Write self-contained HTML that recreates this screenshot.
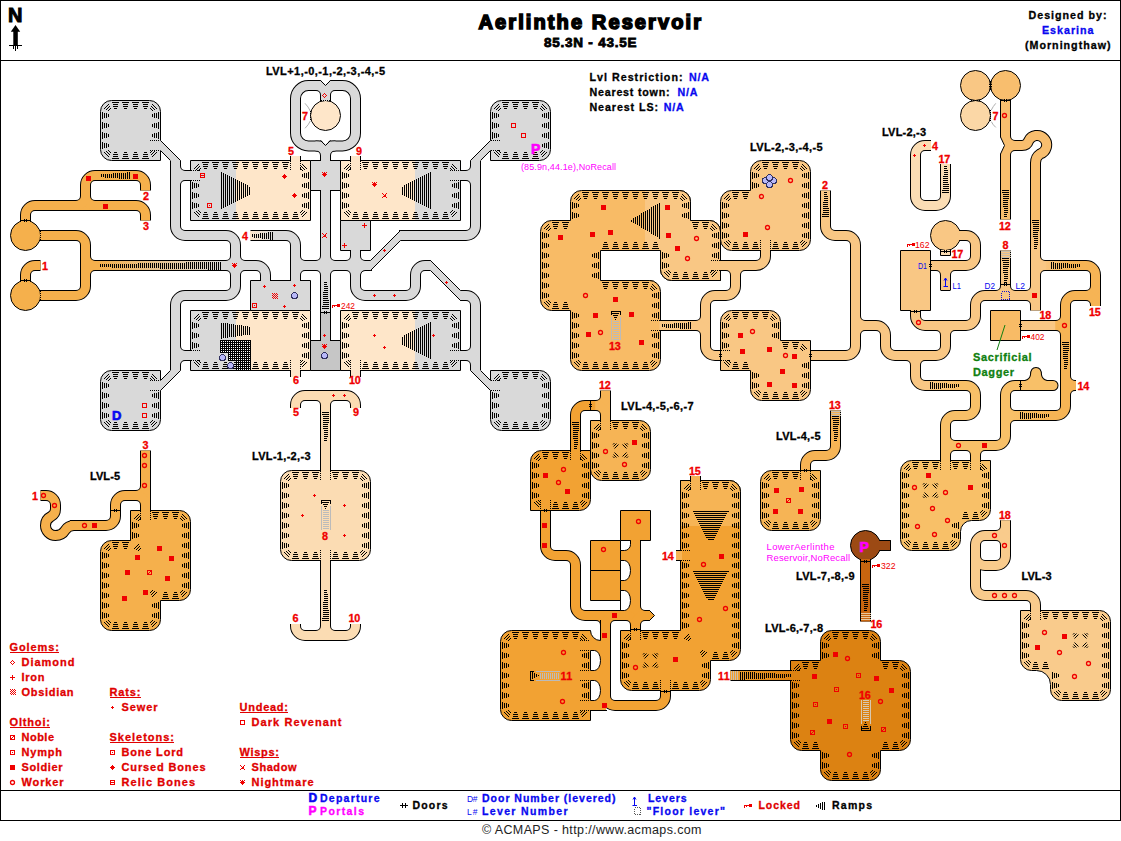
<!DOCTYPE html><html><head><meta charset="utf-8"><title>Aerlinthe Reservoir</title>
<style>html,body{margin:0;padding:0;background:#fff}body{width:1121px;height:841px;overflow:hidden}svg{display:block}text{white-space:pre}</style></head><body>
<svg width="1121" height="841" viewBox="0 0 1121 841">
<defs><pattern id="chk" width="2" height="2" patternUnits="userSpaceOnUse"><rect width="1" height="1" fill="#F00000"/><rect x="1" y="1" width="1" height="1" fill="#F00000"/></pattern>
<pattern id="dots" width="2" height="2" patternUnits="userSpaceOnUse"><rect width="2" height="2" fill="#000"/><rect x="1" y="1" width="1" height="1" fill="#fff"/></pattern>
<linearGradient id="g4" x1="0" x2="1" y1="0" y2="0"><stop offset="0" stop-color="#FEE6C9"/><stop offset="1" stop-color="#D9D9D9"/></linearGradient><linearGradient id="glong" x1="0" x2="1" y1="0" y2="0"><stop offset="0" stop-color="#F5B04C"/><stop offset="1" stop-color="#D9D9D9"/></linearGradient><linearGradient id="gbig" gradientUnits="userSpaceOnUse" x1="540" x2="721" y1="0" y2="0"><stop offset="0.58" stop-color="#F8BB66"/><stop offset="0.58" stop-color="#F9C784"/></linearGradient><clipPath id="clipbig"><rect x="645" y="180" width="80" height="101"/></clipPath><linearGradient id="g385" x1="0" x2="1" y1="0" y2="0"><stop offset="0" stop-color="#F9C784"/><stop offset="1" stop-color="#F8C068"/></linearGradient><linearGradient id="g15" x1="0" x2="1" y1="0" y2="0"><stop offset="0" stop-color="#F9C784"/><stop offset="1" stop-color="#F6B455"/></linearGradient><linearGradient id="g415" x1="0" x2="1" y1="0" y2="0"><stop offset="0" stop-color="#F8C068"/><stop offset="1" stop-color="#F6B455"/></linearGradient><linearGradient id="g7" x1="0" x2="0" y1="0" y2="1"><stop offset="0" stop-color="#F8BE6E"/><stop offset="1" stop-color="#F9C784"/></linearGradient><clipPath id="cliptall"><rect x="670" y="470" width="80" height="56"/></clipPath><linearGradient id="g11" x1="0" x2="1" y1="0" y2="0"><stop offset="0" stop-color="#F2A233"/><stop offset="1" stop-color="#DC8212"/></linearGradient>
</defs>
<rect width="1121" height="841" fill="#fff"/>
<g fill="none" stroke-linejoin="round"><path d="M175.5 160L175.5 226A9.5 9.5 0 0 0 185 235.5L226 235.5A9.5 9.5 0 0 1 235.5 245L235.5 286A9.5 9.5 0 0 1 226 295.5L185 295.5A9.5 9.5 0 0 0 175.5 305L175.5 371" stroke="#000" stroke-width="11" stroke-linecap="butt"/>
<path d="M175.5 175.5L191.5 175.5" stroke="#000" stroke-width="11" stroke-linecap="butt"/>
<path d="M175.5 185.5L175.5 185A9.5 9.5 0 0 1 185 175.5L185.5 175.5" stroke="#000" stroke-width="11" stroke-linecap="butt"/>
<path d="M175.5 165.5L175.5 166A9.5 9.5 0 0 0 185 175.5L185.5 175.5" stroke="#000" stroke-width="11" stroke-linecap="butt"/>
<path d="M175.5 355.5L191.5 355.5" stroke="#000" stroke-width="11" stroke-linecap="butt"/>
<path d="M175.5 365.5L175.5 365A9.5 9.5 0 0 1 185 355.5L185.5 355.5" stroke="#000" stroke-width="11" stroke-linecap="butt"/>
<path d="M175.5 345.5L175.5 346A9.5 9.5 0 0 0 185 355.5L185.5 355.5" stroke="#000" stroke-width="11" stroke-linecap="butt"/>
<path d="M475.5 160L475.5 226A9.5 9.5 0 0 1 466 235.5L399 235.5" stroke="#000" stroke-width="11" stroke-linecap="butt"/>
<path d="M475.5 175.5L459.5 175.5" stroke="#000" stroke-width="11" stroke-linecap="butt"/>
<path d="M475.5 165.5L475.5 166A9.5 9.5 0 0 1 466 175.5L465.5 175.5" stroke="#000" stroke-width="11" stroke-linecap="butt"/>
<path d="M475.5 185.5L475.5 185A9.5 9.5 0 0 0 466 175.5L465.5 175.5" stroke="#000" stroke-width="11" stroke-linecap="butt"/>
<path d="M218 265.5L256 265.5A9.5 9.5 0 0 1 265.5 275L265.5 281.5" stroke="#000" stroke-width="11" stroke-linecap="butt"/>
<path d="M245.5 265.5L245 265.5A9.5 9.5 0 0 1 235.5 256L235.5 255.5" stroke="#000" stroke-width="11" stroke-linecap="butt"/>
<path d="M225.5 265.5L226 265.5A9.5 9.5 0 0 0 235.5 256L235.5 255.5" stroke="#000" stroke-width="11" stroke-linecap="butt"/>
<path d="M225.5 265.5L226 265.5A9.5 9.5 0 0 1 235.5 275L235.5 275.5" stroke="#000" stroke-width="11" stroke-linecap="butt"/>
<path d="M245.5 265.5L245 265.5A9.5 9.5 0 0 0 235.5 275L235.5 275.5" stroke="#000" stroke-width="11" stroke-linecap="butt"/>
<path d="M250.5 235.5L286 235.5A9.5 9.5 0 0 1 295.5 245L295.5 281.5" stroke="#000" stroke-width="11" stroke-linecap="butt"/>
<path d="M295.5 265.5L372 265.5" stroke="#000" stroke-width="11" stroke-linecap="butt"/>
<path d="M295.5 275.5L295.5 275A9.5 9.5 0 0 1 305 265.5L305.5 265.5" stroke="#000" stroke-width="11" stroke-linecap="butt"/>
<path d="M295.5 255.5L295.5 256A9.5 9.5 0 0 0 305 265.5L305.5 265.5" stroke="#000" stroke-width="11" stroke-linecap="butt"/>
<path d="M325.5 146L325.5 161" stroke="#000" stroke-width="11" stroke-linecap="butt"/>
<path d="M325.5 190L325.5 312" stroke="#000" stroke-width="11" stroke-linecap="butt"/>
<path d="M325.5 312L325.5 341" stroke="#000" stroke-width="11" stroke-linecap="butt"/>
<path d="M335.5 265.5L335 265.5A9.5 9.5 0 0 1 325.5 256L325.5 255.5" stroke="#000" stroke-width="11" stroke-linecap="butt"/>
<path d="M315.5 265.5L316 265.5A9.5 9.5 0 0 0 325.5 256L325.5 255.5" stroke="#000" stroke-width="11" stroke-linecap="butt"/>
<path d="M315.5 265.5L316 265.5A9.5 9.5 0 0 1 325.5 275L325.5 275.5" stroke="#000" stroke-width="11" stroke-linecap="butt"/>
<path d="M335.5 265.5L335 265.5A9.5 9.5 0 0 0 325.5 275L325.5 275.5" stroke="#000" stroke-width="11" stroke-linecap="butt"/>
<path d="M355.5 250L355.5 265.5" stroke="#000" stroke-width="11" stroke-linecap="butt"/>
<path d="M365.5 265.5L365 265.5A9.5 9.5 0 0 1 355.5 256L355.5 255.5" stroke="#000" stroke-width="11" stroke-linecap="butt"/>
<path d="M345.5 265.5L346 265.5A9.5 9.5 0 0 0 355.5 256L355.5 255.5" stroke="#000" stroke-width="11" stroke-linecap="butt"/>
<path d="M372 265.5L365 265.5A9.5 9.5 0 0 0 355.5 275L355.5 286A9.5 9.5 0 0 0 365 295.5L406 295.5A9.5 9.5 0 0 0 415.5 286L415.5 275A9.5 9.5 0 0 1 425 265.5L431 265.5" stroke="#000" stroke-width="11" stroke-linecap="butt"/>
<path d="M345.5 265.5L346 265.5A9.5 9.5 0 0 1 355.5 275L355.5 275.5" stroke="#000" stroke-width="11" stroke-linecap="butt"/>
<path d="M365.5 265.5L365 265.5A9.5 9.5 0 0 0 355.5 275L355.5 275.5" stroke="#000" stroke-width="11" stroke-linecap="butt"/>
<path d="M460 295.5L466 295.5A9.5 9.5 0 0 1 475.5 305L475.5 371" stroke="#000" stroke-width="11" stroke-linecap="butt"/>
<path d="M475.5 355.5L459.5 355.5" stroke="#000" stroke-width="11" stroke-linecap="butt"/>
<path d="M475.5 345.5L475.5 346A9.5 9.5 0 0 1 466 355.5L465.5 355.5" stroke="#000" stroke-width="11" stroke-linecap="butt"/>
<path d="M475.5 365.5L475.5 365A9.5 9.5 0 0 0 466 355.5L465.5 355.5" stroke="#000" stroke-width="11" stroke-linecap="butt"/>
<path d="M295.5 98.5A13 13 0 0 1 308.5 85.5L342.5 85.5A13 13 0 0 1 355.5 98.5L355.5 133A13 13 0 0 1 342.5 146L308.5 146A13 13 0 0 1 295.5 133Z" stroke="#000" stroke-width="11" stroke-linecap="butt"/>
<path d="M325.5 89L325.5 101" stroke="#000" stroke-width="11" stroke-linecap="butt"/>
<path d="M315.5 146L316 146A9.5 9.5 0 0 1 325.5 155.5L325.5 156" stroke="#000" stroke-width="11" stroke-linecap="butt"/>
<path d="M335.5 146L335 146A9.5 9.5 0 0 0 325.5 155.5L325.5 156" stroke="#000" stroke-width="11" stroke-linecap="butt"/>
<path d="M315.5 85.5L316 85.5A9.5 9.5 0 0 1 325.5 95L325.5 95.5" stroke="#000" stroke-width="11" stroke-linecap="butt"/>
<path d="M335.5 85.5L335 85.5A9.5 9.5 0 0 0 325.5 95L325.5 95.5" stroke="#000" stroke-width="11" stroke-linecap="butt"/>
<path d="M86 265.5L220 265.5" stroke="#000" stroke-width="11" stroke-linecap="butt"/>
<path d="M25.5 282L25.5 275A9.5 9.5 0 0 1 35 265.5L40.5 265.5" stroke="#000" stroke-width="11" stroke-linecap="butt"/>
<path d="M25.5 222L25.5 215A9.5 9.5 0 0 1 35 205.5L136 205.5A9.5 9.5 0 0 1 145.5 215L145.5 220.5" stroke="#000" stroke-width="11" stroke-linecap="butt"/>
<path d="M85.5 205.5L85.5 185A9.5 9.5 0 0 1 95 175.5L136 175.5A9.5 9.5 0 0 1 145.5 185L145.5 190.5" stroke="#000" stroke-width="11" stroke-linecap="butt"/>
<path d="M95.5 205.5L95 205.5A9.5 9.5 0 0 1 85.5 196L85.5 195.5" stroke="#000" stroke-width="11" stroke-linecap="butt"/>
<path d="M75.5 205.5L76 205.5A9.5 9.5 0 0 0 85.5 196L85.5 195.5" stroke="#000" stroke-width="11" stroke-linecap="butt"/>
<path d="M39.5 235.5L76 235.5A9.5 9.5 0 0 1 85.5 245L85.5 286A9.5 9.5 0 0 1 76 295.5L39.5 295.5" stroke="#000" stroke-width="11" stroke-linecap="butt"/>
<path d="M85.5 275.5L85.5 275A9.5 9.5 0 0 1 95 265.5L95.5 265.5" stroke="#000" stroke-width="11" stroke-linecap="butt"/>
<path d="M85.5 255.5L85.5 256A9.5 9.5 0 0 0 95 265.5L95.5 265.5" stroke="#000" stroke-width="11" stroke-linecap="butt"/>
<path d="M145.5 450.5L145.5 511.5" stroke="#000" stroke-width="11" stroke-linecap="butt"/>
<path d="M145.5 495.5L125 495.5A9.5 9.5 0 0 0 115.5 505L115.5 516A9.5 9.5 0 0 1 106 525.5L70 525.5" stroke="#000" stroke-width="11" stroke-linecap="butt"/>
<path d="M145.5 485.5L145.5 486A9.5 9.5 0 0 1 136 495.5L135.5 495.5" stroke="#000" stroke-width="11" stroke-linecap="butt"/>
<path d="M145.5 505.5L145.5 505A9.5 9.5 0 0 0 136 495.5L135.5 495.5" stroke="#000" stroke-width="11" stroke-linecap="butt"/>
<path d="M40.5 495.5H46A9.5 9.5 0 0 1 55.5 505V509Q55.5 514 51 516.5A10 10 0 0 0 45.5 525.5A10 10 0 0 0 55.5 535.5Q62 535.5 65 530.5Q68 525.5 74 525.5" stroke="#000" stroke-width="11" stroke-linecap="butt"/>
<path d="M295.5 408V405A9.5 9.5 0 0 1 305 395.5H346A9.5 9.5 0 0 1 355.5 405V408" stroke="#000" stroke-width="11" stroke-linecap="butt"/>
<path d="M325.5 395.5L325.5 471.5" stroke="#000" stroke-width="11" stroke-linecap="butt"/>
<path d="M315.5 395.5L316 395.5A9.5 9.5 0 0 1 325.5 405L325.5 405.5" stroke="#000" stroke-width="11" stroke-linecap="butt"/>
<path d="M335.5 395.5L335 395.5A9.5 9.5 0 0 0 325.5 405L325.5 405.5" stroke="#000" stroke-width="11" stroke-linecap="butt"/>
<path d="M295.5 624V626A9.5 9.5 0 0 0 305 635.5H346A9.5 9.5 0 0 0 355.5 626V624" stroke="#000" stroke-width="11" stroke-linecap="butt"/>
<path d="M325.5 559.5L325.5 635.5" stroke="#000" stroke-width="11" stroke-linecap="butt"/>
<path d="M335.5 635.5L335 635.5A9.5 9.5 0 0 1 325.5 626L325.5 625.5" stroke="#000" stroke-width="11" stroke-linecap="butt"/>
<path d="M315.5 635.5L316 635.5A9.5 9.5 0 0 0 325.5 626L325.5 625.5" stroke="#000" stroke-width="11" stroke-linecap="butt"/>
<path d="M719.5 265.5L756 265.5A9.5 9.5 0 0 0 765.5 256L765.5 249.5" stroke="#000" stroke-width="11" stroke-linecap="butt"/>
<path d="M735.5 265.5L735.5 286A9.5 9.5 0 0 1 726 295.5L715 295.5A9.5 9.5 0 0 0 705.5 305L705.5 346A9.5 9.5 0 0 0 715 355.5L721.5 355.5" stroke="#000" stroke-width="11" stroke-linecap="butt"/>
<path d="M725.5 265.5L726 265.5A9.5 9.5 0 0 1 735.5 275L735.5 275.5" stroke="#000" stroke-width="11" stroke-linecap="butt"/>
<path d="M745.5 265.5L745 265.5A9.5 9.5 0 0 0 735.5 275L735.5 275.5" stroke="#000" stroke-width="11" stroke-linecap="butt"/>
<path d="M659.5 325.5L705.5 325.5" stroke="#000" stroke-width="11" stroke-linecap="butt"/>
<path d="M705.5 315.5L705.5 316A9.5 9.5 0 0 1 696 325.5L695.5 325.5" stroke="#000" stroke-width="11" stroke-linecap="butt"/>
<path d="M705.5 335.5L705.5 335A9.5 9.5 0 0 0 696 325.5L695.5 325.5" stroke="#000" stroke-width="11" stroke-linecap="butt"/>
<path d="M825.5 190.5L825.5 226A9.5 9.5 0 0 0 835 235.5L846 235.5A9.5 9.5 0 0 1 855.5 245L855.5 346A9.5 9.5 0 0 1 846 355.5L809.5 355.5" stroke="#000" stroke-width="11" stroke-linecap="butt"/>
<path d="M855.5 325.5L876 325.5A9.5 9.5 0 0 1 885.5 335L885.5 346A9.5 9.5 0 0 0 895 355.5L936 355.5A9.5 9.5 0 0 0 945.5 346L945.5 325.5" stroke="#000" stroke-width="11" stroke-linecap="butt"/>
<path d="M855.5 335.5L855.5 335A9.5 9.5 0 0 1 865 325.5L865.5 325.5" stroke="#000" stroke-width="11" stroke-linecap="butt"/>
<path d="M855.5 315.5L855.5 316A9.5 9.5 0 0 0 865 325.5L865.5 325.5" stroke="#000" stroke-width="11" stroke-linecap="butt"/>
<path d="M915.5 309.5L915.5 316A9.5 9.5 0 0 0 925 325.5L966 325.5A9.5 9.5 0 0 0 975.5 316L975.5 305A9.5 9.5 0 0 1 985 295.5L1031 295.5" stroke="#000" stroke-width="11" stroke-linecap="butt"/>
<path d="M935.5 325.5L936 325.5A9.5 9.5 0 0 1 945.5 335L945.5 335.5" stroke="#000" stroke-width="11" stroke-linecap="butt"/>
<path d="M955.5 325.5L955 325.5A9.5 9.5 0 0 0 945.5 335L945.5 335.5" stroke="#000" stroke-width="11" stroke-linecap="butt"/>
<path d="M915.5 355.5L915.5 376A9.5 9.5 0 0 0 925 385.5L950 385.5" stroke="#000" stroke-width="11" stroke-linecap="butt"/>
<path d="M905.5 355.5L906 355.5A9.5 9.5 0 0 1 915.5 365L915.5 365.5" stroke="#000" stroke-width="11" stroke-linecap="butt"/>
<path d="M925.5 355.5L925 355.5A9.5 9.5 0 0 0 915.5 365L915.5 365.5" stroke="#000" stroke-width="11" stroke-linecap="butt"/>
<path d="M944 385.5L966 385.5A9.5 9.5 0 0 1 975.5 395L975.5 406A9.5 9.5 0 0 1 966 415.5L955 415.5A9.5 9.5 0 0 0 945.5 425L945.5 461.5" stroke="#000" stroke-width="11" stroke-linecap="butt"/>
<path d="M945.5 445.5L996 445.5A9.5 9.5 0 0 0 1005.5 436L1005.5 395A9.5 9.5 0 0 1 1015 385.5L1053 385.5" stroke="#000" stroke-width="11" stroke-linecap="round"/>
<path d="M945.5 455.5L945.5 455A9.5 9.5 0 0 1 955 445.5L955.5 445.5" stroke="#000" stroke-width="11" stroke-linecap="butt"/>
<path d="M945.5 435.5L945.5 436A9.5 9.5 0 0 0 955 445.5L955.5 445.5" stroke="#000" stroke-width="11" stroke-linecap="butt"/>
<path d="M975.5 445.5L975.5 461.5" stroke="#000" stroke-width="11" stroke-linecap="butt"/>
<path d="M965.5 445.5L966 445.5A9.5 9.5 0 0 1 975.5 455L975.5 455.5" stroke="#000" stroke-width="11" stroke-linecap="butt"/>
<path d="M985.5 445.5L985 445.5A9.5 9.5 0 0 0 975.5 455L975.5 455.5" stroke="#000" stroke-width="11" stroke-linecap="butt"/>
<path d="M1025 381Q1030 380 1031 375Q1031 368 1036 368Q1041 368 1041 375Q1042 380 1047 381" stroke="#000" stroke-width="2" fill="none"/>
<path d="M1005.5 415.5L1056 415.5A9.5 9.5 0 0 0 1065.5 406L1065.5 305A9.5 9.5 0 0 1 1075 295.5L1095.5 295.5" stroke="#000" stroke-width="11" stroke-linecap="butt"/>
<path d="M1005.5 425.5L1005.5 425A9.5 9.5 0 0 1 1015 415.5L1015.5 415.5" stroke="#000" stroke-width="11" stroke-linecap="butt"/>
<path d="M1005.5 405.5L1005.5 406A9.5 9.5 0 0 0 1015 415.5L1015.5 415.5" stroke="#000" stroke-width="11" stroke-linecap="butt"/>
<path d="M1035.5 265.5L1086 265.5A9.5 9.5 0 0 1 1095.5 275L1095.5 306" stroke="#000" stroke-width="11" stroke-linecap="butt"/>
<path d="M1020.5 325.5L1065.5 325.5" stroke="#000" stroke-width="11" stroke-linecap="butt"/>
<path d="M1065.5 315.5L1065.5 316A9.5 9.5 0 0 1 1056 325.5L1055.5 325.5" stroke="#000" stroke-width="11" stroke-linecap="butt"/>
<path d="M1065.5 335.5L1065.5 335A9.5 9.5 0 0 0 1056 325.5L1055.5 325.5" stroke="#000" stroke-width="11" stroke-linecap="butt"/>
<path d="M1065.5 385.5L1076 385.5" stroke="#000" stroke-width="11" stroke-linecap="butt"/>
<path d="M1065.5 395.5L1065.5 395A9.5 9.5 0 0 1 1075 385.5L1075.5 385.5" stroke="#000" stroke-width="11" stroke-linecap="butt"/>
<path d="M1065.5 375.5L1065.5 376A9.5 9.5 0 0 0 1075 385.5L1075.5 385.5" stroke="#000" stroke-width="11" stroke-linecap="butt"/>
<path d="M1095.5 285.5L1095.5 286A9.5 9.5 0 0 1 1086 295.5L1085.5 295.5" stroke="#000" stroke-width="11" stroke-linecap="butt"/>
<path d="M1095.5 305.5L1095.5 305A9.5 9.5 0 0 0 1086 295.5L1085.5 295.5" stroke="#000" stroke-width="11" stroke-linecap="butt"/>
<path d="M1035.5 200L1035.5 310.5" stroke="#000" stroke-width="11" stroke-linecap="butt"/>
<path d="M1008 145.5L1022 145.5Q1027 145.5 1028.5 141A9.5 9.5 0 1 1 1040 154Q1035.5 157 1035.5 163L1035.5 222" stroke="#000" stroke-width="11" stroke-linecap="butt"/>
<path d="M1005.5 100L1005.5 219.5" stroke="#000" stroke-width="11" stroke-linecap="butt"/>
<path d="M1005.5 155.5L1005.5 155A9.5 9.5 0 0 1 1015 145.5L1015.5 145.5" stroke="#000" stroke-width="11" stroke-linecap="butt"/>
<path d="M1005.5 135.5L1005.5 136A9.5 9.5 0 0 0 1015 145.5L1015.5 145.5" stroke="#000" stroke-width="11" stroke-linecap="butt"/>
<path d="M1035.5 275.5L1035.5 275A9.5 9.5 0 0 1 1045 265.5L1045.5 265.5" stroke="#000" stroke-width="11" stroke-linecap="butt"/>
<path d="M1035.5 255.5L1035.5 256A9.5 9.5 0 0 0 1045 265.5L1045.5 265.5" stroke="#000" stroke-width="11" stroke-linecap="butt"/>
<path d="M1035.5 285.5L1035.5 286A9.5 9.5 0 0 1 1026 295.5L1025.5 295.5" stroke="#000" stroke-width="11" stroke-linecap="butt"/>
<path d="M1035.5 305.5L1035.5 305A9.5 9.5 0 0 0 1026 295.5L1025.5 295.5" stroke="#000" stroke-width="11" stroke-linecap="butt"/>
<path d="M1005.5 250.5L1005.5 295.5" stroke="#000" stroke-width="11" stroke-linecap="butt"/>
<path d="M1015.5 295.5L1015 295.5A9.5 9.5 0 0 1 1005.5 286L1005.5 285.5" stroke="#000" stroke-width="11" stroke-linecap="butt"/>
<path d="M995.5 295.5L996 295.5A9.5 9.5 0 0 0 1005.5 286L1005.5 285.5" stroke="#000" stroke-width="11" stroke-linecap="butt"/>
<path d="M958 235.5L966 235.5A9.5 9.5 0 0 1 975.5 245L975.5 256A9.5 9.5 0 0 1 966 265.5L930.5 265.5" stroke="#000" stroke-width="11" stroke-linecap="butt"/>
<path d="M945.5 265.5L945.5 290" stroke="#000" stroke-width="11" stroke-linecap="butt"/>
<path d="M935.5 265.5L936 265.5A9.5 9.5 0 0 1 945.5 275L945.5 275.5" stroke="#000" stroke-width="11" stroke-linecap="butt"/>
<path d="M955.5 265.5L955 265.5A9.5 9.5 0 0 0 945.5 275L945.5 275.5" stroke="#000" stroke-width="11" stroke-linecap="butt"/>
<path d="M931 145.5L925 145.5A9.5 9.5 0 0 0 915.5 155L915.5 196A9.5 9.5 0 0 0 925 205.5L936 205.5A9.5 9.5 0 0 0 945.5 196L945.5 164" stroke="#000" stroke-width="11" stroke-linecap="butt"/>
<path d="M605.5 390.5L605.5 421.5" stroke="#000" stroke-width="11" stroke-linecap="butt"/>
<path d="M605.5 405.5L585 405.5A9.5 9.5 0 0 0 575.5 415L575.5 451.5" stroke="#000" stroke-width="11" stroke-linecap="butt"/>
<path d="M605.5 395.5L605.5 396A9.5 9.5 0 0 1 596 405.5L595.5 405.5" stroke="#000" stroke-width="11" stroke-linecap="butt"/>
<path d="M605.5 415.5L605.5 415A9.5 9.5 0 0 0 596 405.5L595.5 405.5" stroke="#000" stroke-width="11" stroke-linecap="butt"/>
<path d="M545.5 509.5L545.5 546A9.5 9.5 0 0 0 555 555.5L566 555.5A9.5 9.5 0 0 1 575.5 565L575.5 606A9.5 9.5 0 0 0 585 615.5L650 615.5" stroke="#000" stroke-width="11" stroke-linecap="butt"/>
<path d="M605.5 615.5L605.5 696A9.5 9.5 0 0 0 615 705.5L656 705.5A9.5 9.5 0 0 0 665.5 696L665.5 689.5" stroke="#000" stroke-width="11" stroke-linecap="butt"/>
<path d="M595.5 615.5L596 615.5A9.5 9.5 0 0 1 605.5 625L605.5 625.5" stroke="#000" stroke-width="11" stroke-linecap="butt"/>
<path d="M615.5 615.5L615 615.5A9.5 9.5 0 0 0 605.5 625L605.5 625.5" stroke="#000" stroke-width="11" stroke-linecap="butt"/>
<path d="M635.5 539.5L635.5 631.5" stroke="#000" stroke-width="11" stroke-linecap="butt"/>
<path d="M645.5 615.5L645 615.5A9.5 9.5 0 0 1 635.5 606L635.5 605.5" stroke="#000" stroke-width="11" stroke-linecap="butt"/>
<path d="M625.5 615.5L626 615.5A9.5 9.5 0 0 0 635.5 606L635.5 605.5" stroke="#000" stroke-width="11" stroke-linecap="butt"/>
<path d="M625.5 615.5L626 615.5A9.5 9.5 0 0 1 635.5 625L635.5 625.5" stroke="#000" stroke-width="11" stroke-linecap="butt"/>
<path d="M645.5 615.5L645 615.5A9.5 9.5 0 0 0 635.5 625L635.5 625.5" stroke="#000" stroke-width="11" stroke-linecap="butt"/>
<path d="M730.5 675.5L791.5 675.5" stroke="#000" stroke-width="11" stroke-linecap="butt"/>
<path d="M865.5 559L865.5 621.5" stroke="#000" stroke-width="11" stroke-linecap="butt"/>
<path d="M835.5 410.5L835.5 446A9.5 9.5 0 0 1 826 455.5L815 455.5A9.5 9.5 0 0 0 805.5 465L805.5 471.5" stroke="#000" stroke-width="11" stroke-linecap="butt"/>
<path d="M1005.5 520.5L1005.5 545" stroke="#000" stroke-width="11" stroke-linecap="butt"/>
<path d="M1005.5 520.5L1005.5 526A9.5 9.5 0 0 1 996 535.5L990 535.5" stroke="#000" stroke-width="11" stroke-linecap="butt"/>
<path d="M975.5 545A9.5 9.5 0 0 1 985 535.5L996 535.5A9.5 9.5 0 0 1 1005.5 545L1005.5 556A9.5 9.5 0 0 1 996 565.5L985 565.5A9.5 9.5 0 0 1 975.5 556Z" stroke="#000" stroke-width="11" stroke-linecap="butt"/>
<path d="M975.5 555L975.5 586A9.5 9.5 0 0 0 985 595.5L1026 595.5A9.5 9.5 0 0 1 1035.5 605L1035.5 611.5" stroke="#000" stroke-width="11" stroke-linecap="butt"/></g>
<g><path d="M100.5 111.5A11 11 0 0 1 111.5 100.5L149.5 100.5A11 11 0 0 1 160.5 111.5L160.5 160.5L111.5 160.5A11 11 0 0 1 100.5 149.5Z" fill="#D9D9D9" stroke="#000" stroke-width="1" />
<path d="M490.5 111.5A11 11 0 0 1 501.5 100.5L539.5 100.5A11 11 0 0 1 550.5 111.5L550.5 149.5A11 11 0 0 1 539.5 160.5L490.5 160.5Z" fill="#D9D9D9" stroke="#000" stroke-width="1" />
<path d="M100.5 381.5A11 11 0 0 1 111.5 370.5L160.5 370.5L160.5 419.5A11 11 0 0 1 149.5 430.5L111.5 430.5A11 11 0 0 1 100.5 419.5Z" fill="#D9D9D9" stroke="#000" stroke-width="1" />
<path d="M490.5 370.5L539.5 370.5A11 11 0 0 1 550.5 381.5L550.5 419.5A11 11 0 0 1 539.5 430.5L501.5 430.5A11 11 0 0 1 490.5 419.5Z" fill="#D9D9D9" stroke="#000" stroke-width="1" />
<path d="M190.5 160.5L310.5 160.5L310.5 220.5L190.5 220.5Z" fill="#FEE6C9" stroke="#000" stroke-width="1" />
<rect x="191" y="161" width="45" height="59" fill="#D9D9D9"/>
<path d="M340.5 160.5L460.5 160.5L460.5 220.5L340.5 220.5Z" fill="#FEE6C9" stroke="#000" stroke-width="1" />
<rect x="415" y="161" width="45" height="59" fill="#D9D9D9"/>
<path d="M190.5 310.5L310.5 310.5L310.5 370.5L190.5 370.5Z" fill="#FEE6C9" stroke="#000" stroke-width="1" />
<rect x="191" y="311" width="45" height="59" fill="#D9D9D9"/>
<path d="M340.5 310.5L460.5 310.5L460.5 370.5L340.5 370.5Z" fill="#FEE6C9" stroke="#000" stroke-width="1" />
<rect x="415" y="311" width="45" height="59" fill="#D9D9D9"/>
<path d="M220 340H251V370H236V361H228V353H220Z" fill="url(#dots)"/>
<path d="M310.5 160.5L340.5 160.5L340.5 190.5L310.5 190.5Z" fill="#D9D9D9" stroke="#000" stroke-width="1" />
<path d="M310.5 340.5L340.5 340.5L340.5 370.5L310.5 370.5Z" fill="#C6C6C6" stroke="#000" stroke-width="1" />
<path d="M250.5 280.5L310.5 280.5L310.5 310.5L250.5 310.5Z" fill="#D9D9D9" stroke="#000" stroke-width="1" />
<path d="M340.5 220.5L370.5 220.5L370.5 250.5L340.5 250.5Z" fill="#D9D9D9" stroke="#000" stroke-width="1" />
<circle cx="325.5" cy="115.5" r="15" fill="#FEE6C9" stroke="#000" stroke-width="1"/>
<circle cx="25.5" cy="235.5" r="15" fill="#F5B04C" stroke="#000" stroke-width="1"/>
<circle cx="25.5" cy="295.5" r="15" fill="#F5B04C" stroke="#000" stroke-width="1"/>
<path d="M130.5 510.5L179.5 510.5A11 11 0 0 1 190.5 521.5L190.5 589.5A11 11 0 0 1 179.5 600.5L160.5 600.5L160.5 619.5A11 11 0 0 1 149.5 630.5L111.5 630.5A11 11 0 0 1 100.5 619.5L100.5 551.5A11 11 0 0 1 111.5 540.5L130.5 540.5Z" fill="#F5B04C" stroke="#000" stroke-width="1" />
<path d="M280.5 481.5A11 11 0 0 1 291.5 470.5L359.5 470.5A11 11 0 0 1 370.5 481.5L370.5 549.5A11 11 0 0 1 359.5 560.5L291.5 560.5A11 11 0 0 1 280.5 549.5Z" fill="#FBDCB3" stroke="#000" stroke-width="1" />
<path d="M570.5 201.5A11 11 0 0 1 581.5 190.5L679.5 190.5A11 11 0 0 1 690.5 201.5L690.5 220.5L709.5 220.5A11 11 0 0 1 720.5 231.5L720.5 280.5L671.5 280.5A11 11 0 0 1 660.5 269.5L660.5 250.5L600.5 250.5L600.5 280.5L649.5 280.5A11 11 0 0 1 660.5 291.5L660.5 359.5A11 11 0 0 1 649.5 370.5L581.5 370.5A11 11 0 0 1 570.5 359.5L570.5 310.5L551.5 310.5A11 11 0 0 1 540.5 299.5L540.5 231.5A11 11 0 0 1 551.5 220.5L570.5 220.5Z" fill="#F8BB66" stroke="#000" stroke-width="1" />
<path d="M570.5 201.5A11 11 0 0 1 581.5 190.5L679.5 190.5A11 11 0 0 1 690.5 201.5L690.5 220.5L709.5 220.5A11 11 0 0 1 720.5 231.5L720.5 280.5L671.5 280.5A11 11 0 0 1 660.5 269.5L660.5 250.5L600.5 250.5L600.5 280.5L649.5 280.5A11 11 0 0 1 660.5 291.5L660.5 359.5A11 11 0 0 1 649.5 370.5L581.5 370.5A11 11 0 0 1 570.5 359.5L570.5 310.5L551.5 310.5A11 11 0 0 1 540.5 299.5L540.5 231.5A11 11 0 0 1 551.5 220.5L570.5 220.5Z" fill="#F9C784" clip-path="url(#clipbig)" stroke="#000" stroke-width="1" />
<path d="M750.5 171.5A11 11 0 0 1 761.5 160.5L799.5 160.5A11 11 0 0 1 810.5 171.5L810.5 239.5A11 11 0 0 1 799.5 250.5L731.5 250.5A11 11 0 0 1 720.5 239.5L720.5 201.5A11 11 0 0 1 731.5 190.5L750.5 190.5Z" fill="#F9C784" stroke="#000" stroke-width="1" />
<path d="M720.5 321.5A11 11 0 0 1 731.5 310.5L769.5 310.5A11 11 0 0 1 780.5 321.5L780.5 340.5L810.5 340.5L810.5 389.5A11 11 0 0 1 799.5 400.5L761.5 400.5A11 11 0 0 1 750.5 389.5L750.5 370.5L720.5 370.5Z" fill="#F9C784" stroke="#000" stroke-width="1" />
<circle cx="975.5" cy="85.5" r="15" fill="#F9C784" stroke="#000" stroke-width="1"/>
<circle cx="1005.5" cy="85.5" r="15" fill="#F8BE6E" stroke="#000" stroke-width="1"/>
<circle cx="975.5" cy="115.5" r="15" fill="#FBD7A6" stroke="#000" stroke-width="1"/>
<path d="M900.5 250.5L930.5 250.5L930.5 310.5L900.5 310.5Z" fill="#F9C784" stroke="#000" stroke-width="1" />
<circle cx="945.5" cy="235.5" r="15" fill="#F9C784" stroke="#000" stroke-width="1"/>
<path d="M990.5 310.5L1020.5 310.5L1020.5 340.5L990.5 340.5Z" fill="#F8BB66" stroke="#000" stroke-width="1" />
<path d="M590.5 420.5L639.5 420.5A11 11 0 0 1 650.5 431.5L650.5 469.5A11 11 0 0 1 639.5 480.5L601.5 480.5A11 11 0 0 1 590.5 469.5Z" fill="#F6B455" stroke="#000" stroke-width="1" />
<path d="M530.5 461.5A11 11 0 0 1 541.5 450.5L590.5 450.5L590.5 499.5A11 11 0 0 1 579.5 510.5L530.5 510.5Z" fill="#F2A233" stroke="#000" stroke-width="1" />
<path d="M620.5 510.5L650.5 510.5L650.5 540.5L620.5 540.5Z" fill="#F2A233" stroke="#000" stroke-width="1" />
<path d="M590.5 540.5L620.5 540.5L620.5 570.5L590.5 570.5Z" fill="#F2A233" stroke="#000" stroke-width="1" />
<path d="M590.5 570.5L620.5 570.5L620.5 600.5L590.5 600.5Z" fill="#F2A233" stroke="#000" stroke-width="1" />
<path d="M500.5 641.5A11 11 0 0 1 511.5 630.5L590.5 630.5L590.5 720.5L511.5 720.5A11 11 0 0 1 500.5 709.5Z" fill="#F2A233" stroke="#000" stroke-width="1" />
<path d="M680.5 480.5L729.5 480.5A11 11 0 0 1 740.5 491.5L740.5 649.5A11 11 0 0 1 729.5 660.5L710.5 660.5L710.5 679.5A11 11 0 0 1 699.5 690.5L631.5 690.5A11 11 0 0 1 620.5 679.5L620.5 630.5L680.5 630.5Z" fill="#F2A233" stroke="#000" stroke-width="1" />
<path d="M680.5 480.5L729.5 480.5A11 11 0 0 1 740.5 491.5L740.5 649.5A11 11 0 0 1 729.5 660.5L710.5 660.5L710.5 679.5A11 11 0 0 1 699.5 690.5L631.5 690.5A11 11 0 0 1 620.5 679.5L620.5 630.5L680.5 630.5Z" fill="#F6B455" clip-path="url(#cliptall)" stroke="#000" stroke-width="1" />
<path d="M820.5 641.5A11 11 0 0 1 831.5 630.5L869.5 630.5A11 11 0 0 1 880.5 641.5L880.5 660.5L899.5 660.5A11 11 0 0 1 910.5 671.5L910.5 739.5A11 11 0 0 1 899.5 750.5L880.5 750.5L880.5 769.5A11 11 0 0 1 869.5 780.5L831.5 780.5A11 11 0 0 1 820.5 769.5L820.5 750.5L801.5 750.5A11 11 0 0 1 790.5 739.5L790.5 660.5L820.5 660.5Z" fill="#DC8212" stroke="#000" stroke-width="1" />
<circle cx="865.5" cy="545.5" r="15" fill="#9C4A14" stroke="#000" stroke-width="1"/>
<path d="M879 540.5H890.5V550.5H879" fill="#9C4A14" stroke="#000" stroke-width="1"/>
<path d="M760.5 481.5A11 11 0 0 1 771.5 470.5L820.5 470.5L820.5 519.5A11 11 0 0 1 809.5 530.5L771.5 530.5A11 11 0 0 1 760.5 519.5Z" fill="#F6B455" stroke="#000" stroke-width="1" />
<path d="M900.5 471.5A11 11 0 0 1 911.5 460.5L990.5 460.5L990.5 509.5A11 11 0 0 1 979.5 520.5L971.5 520.5A11 11 0 0 0 960.5 531.5L960.5 539.5A11 11 0 0 1 949.5 550.5L911.5 550.5A11 11 0 0 1 900.5 539.5Z" fill="#F8C068" stroke="#000" stroke-width="1" />
<path d="M879.5 540.5H890.5V550.5H879.5" fill="#9C4A14" stroke="#000" stroke-width="1"/>
<path d="M1020.5 610.5L1099.5 610.5A11 11 0 0 1 1110.5 621.5L1110.5 689.5A11 11 0 0 1 1099.5 700.5L1061.5 700.5A11 11 0 0 1 1050.5 689.5L1050.5 684.5A14 14 0 0 0 1036.5 670.5L1031.5 670.5A11 11 0 0 1 1020.5 659.5Z" fill="#F9CB8C" stroke="#000" stroke-width="1" /></g>
<g fill="none" stroke-linejoin="round"><path d="M159.5 140.5L160.5 140.5L181 161L170 161L160.5 150.5L159.5 150.5 Z" fill="#D9D9D9" stroke="none"/>
<path d="M491.5 140.5L490.5 140.5L470 161L481 161L490.5 150.5L491.5 150.5 Z" fill="#D9D9D9" stroke="none"/>
<path d="M159.5 390.5L160.5 390.5L181 370L170 370L160.5 380.5L159.5 380.5 Z" fill="#D9D9D9" stroke="none"/>
<path d="M491.5 390.5L490.5 390.5L470 370L481 370L490.5 380.5L491.5 380.5 Z" fill="#D9D9D9" stroke="none"/>
<path d="M175.5 160L175.5 226A9.5 9.5 0 0 0 185 235.5L226 235.5A9.5 9.5 0 0 1 235.5 245L235.5 286A9.5 9.5 0 0 1 226 295.5L185 295.5A9.5 9.5 0 0 0 175.5 305L175.5 371" stroke="#D9D9D9" stroke-width="9" stroke-linecap="butt"/>
<path d="M175.5 175.5L191.5 175.5" stroke="#D9D9D9" stroke-width="9" stroke-linecap="butt"/>
<path d="M175.5 185.5L175.5 185A9.5 9.5 0 0 1 185 175.5L185.5 175.5" stroke="#D9D9D9" stroke-width="9" stroke-linecap="butt"/>
<path d="M175.5 165.5L175.5 166A9.5 9.5 0 0 0 185 175.5L185.5 175.5" stroke="#D9D9D9" stroke-width="9" stroke-linecap="butt"/>
<path d="M175.5 355.5L191.5 355.5" stroke="#D9D9D9" stroke-width="9" stroke-linecap="butt"/>
<path d="M175.5 365.5L175.5 365A9.5 9.5 0 0 1 185 355.5L185.5 355.5" stroke="#D9D9D9" stroke-width="9" stroke-linecap="butt"/>
<path d="M175.5 345.5L175.5 346A9.5 9.5 0 0 0 185 355.5L185.5 355.5" stroke="#D9D9D9" stroke-width="9" stroke-linecap="butt"/>
<path d="M475.5 160L475.5 226A9.5 9.5 0 0 1 466 235.5L399 235.5" stroke="#D9D9D9" stroke-width="9" stroke-linecap="butt"/>
<path d="M475.5 175.5L459.5 175.5" stroke="#D9D9D9" stroke-width="9" stroke-linecap="butt"/>
<path d="M475.5 165.5L475.5 166A9.5 9.5 0 0 1 466 175.5L465.5 175.5" stroke="#D9D9D9" stroke-width="9" stroke-linecap="butt"/>
<path d="M475.5 185.5L475.5 185A9.5 9.5 0 0 0 466 175.5L465.5 175.5" stroke="#D9D9D9" stroke-width="9" stroke-linecap="butt"/>
<path d="M400.5 230.5L400.5 240.5L370.5 270.5L370.5 260.5 Z" fill="#D9D9D9" stroke="none"/>
<path d="M218 265.5L256 265.5A9.5 9.5 0 0 1 265.5 275L265.5 281.5" stroke="#D9D9D9" stroke-width="9" stroke-linecap="butt"/>
<path d="M245.5 265.5L245 265.5A9.5 9.5 0 0 1 235.5 256L235.5 255.5" stroke="#D9D9D9" stroke-width="9" stroke-linecap="butt"/>
<path d="M225.5 265.5L226 265.5A9.5 9.5 0 0 0 235.5 256L235.5 255.5" stroke="#D9D9D9" stroke-width="9" stroke-linecap="butt"/>
<path d="M225.5 265.5L226 265.5A9.5 9.5 0 0 1 235.5 275L235.5 275.5" stroke="#D9D9D9" stroke-width="9" stroke-linecap="butt"/>
<path d="M245.5 265.5L245 265.5A9.5 9.5 0 0 0 235.5 275L235.5 275.5" stroke="#D9D9D9" stroke-width="9" stroke-linecap="butt"/>
<path d="M250.5 235.5L286 235.5A9.5 9.5 0 0 1 295.5 245L295.5 281.5" stroke="#D9D9D9" stroke-width="9" stroke-linecap="butt"/>
<path d="M295.5 265.5L372 265.5" stroke="#D9D9D9" stroke-width="9" stroke-linecap="butt"/>
<path d="M295.5 275.5L295.5 275A9.5 9.5 0 0 1 305 265.5L305.5 265.5" stroke="#D9D9D9" stroke-width="9" stroke-linecap="butt"/>
<path d="M295.5 255.5L295.5 256A9.5 9.5 0 0 0 305 265.5L305.5 265.5" stroke="#D9D9D9" stroke-width="9" stroke-linecap="butt"/>
<path d="M325.5 146L325.5 161" stroke="#D9D9D9" stroke-width="9" stroke-linecap="butt"/>
<path d="M325.5 190L325.5 312" stroke="#D9D9D9" stroke-width="9" stroke-linecap="butt"/>
<path d="M325.5 312L325.5 341" stroke="#C6C6C6" stroke-width="9" stroke-linecap="butt"/>
<path d="M335.5 265.5L335 265.5A9.5 9.5 0 0 1 325.5 256L325.5 255.5" stroke="#D9D9D9" stroke-width="9" stroke-linecap="butt"/>
<path d="M315.5 265.5L316 265.5A9.5 9.5 0 0 0 325.5 256L325.5 255.5" stroke="#D9D9D9" stroke-width="9" stroke-linecap="butt"/>
<path d="M315.5 265.5L316 265.5A9.5 9.5 0 0 1 325.5 275L325.5 275.5" stroke="#D9D9D9" stroke-width="9" stroke-linecap="butt"/>
<path d="M335.5 265.5L335 265.5A9.5 9.5 0 0 0 325.5 275L325.5 275.5" stroke="#D9D9D9" stroke-width="9" stroke-linecap="butt"/>
<path d="M355.5 250L355.5 265.5" stroke="#D9D9D9" stroke-width="9" stroke-linecap="butt"/>
<path d="M365.5 265.5L365 265.5A9.5 9.5 0 0 1 355.5 256L355.5 255.5" stroke="#D9D9D9" stroke-width="9" stroke-linecap="butt"/>
<path d="M345.5 265.5L346 265.5A9.5 9.5 0 0 0 355.5 256L355.5 255.5" stroke="#D9D9D9" stroke-width="9" stroke-linecap="butt"/>
<path d="M372 265.5L365 265.5A9.5 9.5 0 0 0 355.5 275L355.5 286A9.5 9.5 0 0 0 365 295.5L406 295.5A9.5 9.5 0 0 0 415.5 286L415.5 275A9.5 9.5 0 0 1 425 265.5L431 265.5" stroke="#D9D9D9" stroke-width="9" stroke-linecap="butt"/>
<path d="M345.5 265.5L346 265.5A9.5 9.5 0 0 1 355.5 275L355.5 275.5" stroke="#D9D9D9" stroke-width="9" stroke-linecap="butt"/>
<path d="M365.5 265.5L365 265.5A9.5 9.5 0 0 0 355.5 275L355.5 275.5" stroke="#D9D9D9" stroke-width="9" stroke-linecap="butt"/>
<path d="M430.5 260.5L460.5 290.5L460.5 300.5L430.5 270.5 Z" fill="#D9D9D9" stroke="none"/>
<path d="M460 295.5L466 295.5A9.5 9.5 0 0 1 475.5 305L475.5 371" stroke="#D9D9D9" stroke-width="9" stroke-linecap="butt"/>
<path d="M475.5 355.5L459.5 355.5" stroke="#D9D9D9" stroke-width="9" stroke-linecap="butt"/>
<path d="M475.5 345.5L475.5 346A9.5 9.5 0 0 1 466 355.5L465.5 355.5" stroke="#D9D9D9" stroke-width="9" stroke-linecap="butt"/>
<path d="M475.5 365.5L475.5 365A9.5 9.5 0 0 0 466 355.5L465.5 355.5" stroke="#D9D9D9" stroke-width="9" stroke-linecap="butt"/>
<path d="M295.5 98.5A13 13 0 0 1 308.5 85.5L342.5 85.5A13 13 0 0 1 355.5 98.5L355.5 133A13 13 0 0 1 342.5 146L308.5 146A13 13 0 0 1 295.5 133Z" stroke="#D9D9D9" stroke-width="9" stroke-linecap="butt"/>
<path d="M325.5 89L325.5 101" stroke="#D9D9D9" stroke-width="9" stroke-linecap="butt"/>
<path d="M315.5 146L316 146A9.5 9.5 0 0 1 325.5 155.5L325.5 156" stroke="#D9D9D9" stroke-width="9" stroke-linecap="butt"/>
<path d="M335.5 146L335 146A9.5 9.5 0 0 0 325.5 155.5L325.5 156" stroke="#D9D9D9" stroke-width="9" stroke-linecap="butt"/>
<rect x="291" y="156" width="9" height="6" fill="#FEE6C9"/>
<rect x="351" y="156" width="9" height="6" fill="#FEE6C9"/>
<rect x="291" y="369" width="9" height="8" fill="#FEE6C9"/>
<rect x="351" y="369" width="9" height="8" fill="#FEE6C9"/>
<path d="M315.5 85.5L316 85.5A9.5 9.5 0 0 1 325.5 95L325.5 95.5" stroke="#D9D9D9" stroke-width="9" stroke-linecap="butt"/>
<path d="M335.5 85.5L335 85.5A9.5 9.5 0 0 0 325.5 95L325.5 95.5" stroke="#D9D9D9" stroke-width="9" stroke-linecap="butt"/>
<rect x="250" y="231" width="24" height="9" fill="url(#g4)"/>
<path d="M86 265.5L220 265.5" stroke="#F5B04C" stroke-width="9" stroke-linecap="butt"/>
<rect x="98" y="261" width="124" height="9" fill="url(#glong)"/>
<path d="M25.5 282L25.5 275A9.5 9.5 0 0 1 35 265.5L40.5 265.5" stroke="#F5B04C" stroke-width="9" stroke-linecap="butt"/>
<path d="M25.5 222L25.5 215A9.5 9.5 0 0 1 35 205.5L136 205.5A9.5 9.5 0 0 1 145.5 215L145.5 220.5" stroke="#F5B04C" stroke-width="9" stroke-linecap="butt"/>
<path d="M85.5 205.5L85.5 185A9.5 9.5 0 0 1 95 175.5L136 175.5A9.5 9.5 0 0 1 145.5 185L145.5 190.5" stroke="#F5B04C" stroke-width="9" stroke-linecap="butt"/>
<path d="M95.5 205.5L95 205.5A9.5 9.5 0 0 1 85.5 196L85.5 195.5" stroke="#F5B04C" stroke-width="9" stroke-linecap="butt"/>
<path d="M75.5 205.5L76 205.5A9.5 9.5 0 0 0 85.5 196L85.5 195.5" stroke="#F5B04C" stroke-width="9" stroke-linecap="butt"/>
<path d="M39.5 235.5L76 235.5A9.5 9.5 0 0 1 85.5 245L85.5 286A9.5 9.5 0 0 1 76 295.5L39.5 295.5" stroke="#F5B04C" stroke-width="9" stroke-linecap="butt"/>
<path d="M85.5 275.5L85.5 275A9.5 9.5 0 0 1 95 265.5L95.5 265.5" stroke="#F5B04C" stroke-width="9" stroke-linecap="butt"/>
<path d="M85.5 255.5L85.5 256A9.5 9.5 0 0 0 95 265.5L95.5 265.5" stroke="#F5B04C" stroke-width="9" stroke-linecap="butt"/>
<path d="M145.5 450.5L145.5 511.5" stroke="#F5B04C" stroke-width="9" stroke-linecap="butt"/>
<path d="M145.5 495.5L125 495.5A9.5 9.5 0 0 0 115.5 505L115.5 516A9.5 9.5 0 0 1 106 525.5L70 525.5" stroke="#F5B04C" stroke-width="9" stroke-linecap="butt"/>
<path d="M145.5 485.5L145.5 486A9.5 9.5 0 0 1 136 495.5L135.5 495.5" stroke="#F5B04C" stroke-width="9" stroke-linecap="butt"/>
<path d="M145.5 505.5L145.5 505A9.5 9.5 0 0 0 136 495.5L135.5 495.5" stroke="#F5B04C" stroke-width="9" stroke-linecap="butt"/>
<path d="M40.5 495.5H46A9.5 9.5 0 0 1 55.5 505V509Q55.5 514 51 516.5A10 10 0 0 0 45.5 525.5A10 10 0 0 0 55.5 535.5Q62 535.5 65 530.5Q68 525.5 74 525.5" stroke="#F5B04C" stroke-width="9" stroke-linecap="butt"/>
<path d="M295.5 408V405A9.5 9.5 0 0 1 305 395.5H346A9.5 9.5 0 0 1 355.5 405V408" stroke="#FBDCB3" stroke-width="9" stroke-linecap="butt"/>
<path d="M325.5 395.5L325.5 471.5" stroke="#FBDCB3" stroke-width="9" stroke-linecap="butt"/>
<path d="M315.5 395.5L316 395.5A9.5 9.5 0 0 1 325.5 405L325.5 405.5" stroke="#FBDCB3" stroke-width="9" stroke-linecap="butt"/>
<path d="M335.5 395.5L335 395.5A9.5 9.5 0 0 0 325.5 405L325.5 405.5" stroke="#FBDCB3" stroke-width="9" stroke-linecap="butt"/>
<path d="M295.5 624V626A9.5 9.5 0 0 0 305 635.5H346A9.5 9.5 0 0 0 355.5 626V624" stroke="#FBDCB3" stroke-width="9" stroke-linecap="butt"/>
<path d="M325.5 559.5L325.5 635.5" stroke="#FBDCB3" stroke-width="9" stroke-linecap="butt"/>
<path d="M335.5 635.5L335 635.5A9.5 9.5 0 0 1 325.5 626L325.5 625.5" stroke="#FBDCB3" stroke-width="9" stroke-linecap="butt"/>
<path d="M315.5 635.5L316 635.5A9.5 9.5 0 0 0 325.5 626L325.5 625.5" stroke="#FBDCB3" stroke-width="9" stroke-linecap="butt"/>
<path d="M719.5 265.5L756 265.5A9.5 9.5 0 0 0 765.5 256L765.5 249.5" stroke="#F9C784" stroke-width="9" stroke-linecap="butt"/>
<path d="M735.5 265.5L735.5 286A9.5 9.5 0 0 1 726 295.5L715 295.5A9.5 9.5 0 0 0 705.5 305L705.5 346A9.5 9.5 0 0 0 715 355.5L721.5 355.5" stroke="#F9C784" stroke-width="9" stroke-linecap="butt"/>
<path d="M725.5 265.5L726 265.5A9.5 9.5 0 0 1 735.5 275L735.5 275.5" stroke="#F9C784" stroke-width="9" stroke-linecap="butt"/>
<path d="M745.5 265.5L745 265.5A9.5 9.5 0 0 0 735.5 275L735.5 275.5" stroke="#F9C784" stroke-width="9" stroke-linecap="butt"/>
<path d="M659.5 325.5L705.5 325.5" stroke="#F9C784" stroke-width="9" stroke-linecap="butt"/>
<path d="M705.5 315.5L705.5 316A9.5 9.5 0 0 1 696 325.5L695.5 325.5" stroke="#F9C784" stroke-width="9" stroke-linecap="butt"/>
<path d="M705.5 335.5L705.5 335A9.5 9.5 0 0 0 696 325.5L695.5 325.5" stroke="#F9C784" stroke-width="9" stroke-linecap="butt"/>
<path d="M825.5 190.5L825.5 226A9.5 9.5 0 0 0 835 235.5L846 235.5A9.5 9.5 0 0 1 855.5 245L855.5 346A9.5 9.5 0 0 1 846 355.5L809.5 355.5" stroke="#F9C784" stroke-width="9" stroke-linecap="butt"/>
<path d="M855.5 325.5L876 325.5A9.5 9.5 0 0 1 885.5 335L885.5 346A9.5 9.5 0 0 0 895 355.5L936 355.5A9.5 9.5 0 0 0 945.5 346L945.5 325.5" stroke="#F9C784" stroke-width="9" stroke-linecap="butt"/>
<path d="M855.5 335.5L855.5 335A9.5 9.5 0 0 1 865 325.5L865.5 325.5" stroke="#F9C784" stroke-width="9" stroke-linecap="butt"/>
<path d="M855.5 315.5L855.5 316A9.5 9.5 0 0 0 865 325.5L865.5 325.5" stroke="#F9C784" stroke-width="9" stroke-linecap="butt"/>
<path d="M915.5 309.5L915.5 316A9.5 9.5 0 0 0 925 325.5L966 325.5A9.5 9.5 0 0 0 975.5 316L975.5 305A9.5 9.5 0 0 1 985 295.5L1031 295.5" stroke="#F9C784" stroke-width="9" stroke-linecap="butt"/>
<path d="M935.5 325.5L936 325.5A9.5 9.5 0 0 1 945.5 335L945.5 335.5" stroke="#F9C784" stroke-width="9" stroke-linecap="butt"/>
<path d="M955.5 325.5L955 325.5A9.5 9.5 0 0 0 945.5 335L945.5 335.5" stroke="#F9C784" stroke-width="9" stroke-linecap="butt"/>
<path d="M915.5 355.5L915.5 376A9.5 9.5 0 0 0 925 385.5L950 385.5" stroke="#F9C784" stroke-width="9" stroke-linecap="butt"/>
<path d="M905.5 355.5L906 355.5A9.5 9.5 0 0 1 915.5 365L915.5 365.5" stroke="#F9C784" stroke-width="9" stroke-linecap="butt"/>
<path d="M925.5 355.5L925 355.5A9.5 9.5 0 0 0 915.5 365L915.5 365.5" stroke="#F9C784" stroke-width="9" stroke-linecap="butt"/>
<path d="M944 385.5L966 385.5A9.5 9.5 0 0 1 975.5 395L975.5 406A9.5 9.5 0 0 1 966 415.5L955 415.5A9.5 9.5 0 0 0 945.5 425L945.5 461.5" stroke="#F8C068" stroke-width="9" stroke-linecap="butt"/>
<rect x="928" y="381" width="32" height="9" fill="url(#g385)"/>
<path d="M945.5 445.5L996 445.5A9.5 9.5 0 0 0 1005.5 436L1005.5 395A9.5 9.5 0 0 1 1015 385.5L1053 385.5" stroke="#F8C068" stroke-width="9" stroke-linecap="round"/>
<path d="M945.5 455.5L945.5 455A9.5 9.5 0 0 1 955 445.5L955.5 445.5" stroke="#F8C068" stroke-width="9" stroke-linecap="butt"/>
<path d="M945.5 435.5L945.5 436A9.5 9.5 0 0 0 955 445.5L955.5 445.5" stroke="#F8C068" stroke-width="9" stroke-linecap="butt"/>
<path d="M975.5 445.5L975.5 461.5" stroke="#F8C068" stroke-width="9" stroke-linecap="butt"/>
<path d="M965.5 445.5L966 445.5A9.5 9.5 0 0 1 975.5 455L975.5 455.5" stroke="#F8C068" stroke-width="9" stroke-linecap="butt"/>
<path d="M985.5 445.5L985 445.5A9.5 9.5 0 0 0 975.5 455L975.5 455.5" stroke="#F8C068" stroke-width="9" stroke-linecap="butt"/>
<path d="M1025 381Q1030 380 1031 375Q1031 368 1036 368Q1041 368 1041 375Q1042 380 1047 381Z" fill="#F8C068"/>
<path d="M1005.5 415.5L1056 415.5A9.5 9.5 0 0 0 1065.5 406L1065.5 305A9.5 9.5 0 0 1 1075 295.5L1095.5 295.5" stroke="#F6B455" stroke-width="9" stroke-linecap="butt"/>
<path d="M1005.5 425.5L1005.5 425A9.5 9.5 0 0 1 1015 415.5L1015.5 415.5" stroke="#F8C068" stroke-width="9" stroke-linecap="butt"/>
<path d="M1005.5 405.5L1005.5 406A9.5 9.5 0 0 0 1015 415.5L1015.5 415.5" stroke="#F8C068" stroke-width="9" stroke-linecap="butt"/>
<path d="M1035.5 265.5L1086 265.5A9.5 9.5 0 0 1 1095.5 275L1095.5 306" stroke="#F6B455" stroke-width="9" stroke-linecap="butt"/>
<path d="M1020.5 325.5L1065.5 325.5" stroke="#F9C784" stroke-width="9" stroke-linecap="butt"/>
<path d="M1065.5 315.5L1065.5 316A9.5 9.5 0 0 1 1056 325.5L1055.5 325.5" stroke="#F6B455" stroke-width="9" stroke-linecap="butt"/>
<path d="M1065.5 335.5L1065.5 335A9.5 9.5 0 0 0 1056 325.5L1055.5 325.5" stroke="#F6B455" stroke-width="9" stroke-linecap="butt"/>
<path d="M1065.5 385.5L1076 385.5" stroke="#F6B455" stroke-width="9" stroke-linecap="butt"/>
<path d="M1065.5 395.5L1065.5 395A9.5 9.5 0 0 1 1075 385.5L1075.5 385.5" stroke="#F6B455" stroke-width="9" stroke-linecap="butt"/>
<path d="M1065.5 375.5L1065.5 376A9.5 9.5 0 0 0 1075 385.5L1075.5 385.5" stroke="#F6B455" stroke-width="9" stroke-linecap="butt"/>
<path d="M1095.5 285.5L1095.5 286A9.5 9.5 0 0 1 1086 295.5L1085.5 295.5" stroke="#F6B455" stroke-width="9" stroke-linecap="butt"/>
<path d="M1095.5 305.5L1095.5 305A9.5 9.5 0 0 0 1086 295.5L1085.5 295.5" stroke="#F6B455" stroke-width="9" stroke-linecap="butt"/>
<rect x="1041" y="261" width="30" height="9" fill="url(#g15)"/>
<rect x="1012" y="411" width="38" height="9" fill="url(#g415)"/>
<path d="M1035.5 200L1035.5 310.5" stroke="#F9C784" stroke-width="9" stroke-linecap="butt"/>
<path d="M1008 145.5L1022 145.5Q1027 145.5 1028.5 141A9.5 9.5 0 1 1 1040 154Q1035.5 157 1035.5 163L1035.5 222" stroke="#F8BE6E" stroke-width="9" stroke-linecap="butt"/>
<rect x="1031" y="220" width="9" height="30" fill="url(#g7)"/>
<path d="M1005.5 100L1005.5 219.5" stroke="#F8BE6E" stroke-width="9" stroke-linecap="butt"/>
<path d="M1005.5 155.5L1005.5 155A9.5 9.5 0 0 1 1015 145.5L1015.5 145.5" stroke="#F8BE6E" stroke-width="9" stroke-linecap="butt"/>
<path d="M1005.5 135.5L1005.5 136A9.5 9.5 0 0 0 1015 145.5L1015.5 145.5" stroke="#F8BE6E" stroke-width="9" stroke-linecap="butt"/>
<path d="M1035.5 275.5L1035.5 275A9.5 9.5 0 0 1 1045 265.5L1045.5 265.5" stroke="#F9C784" stroke-width="9" stroke-linecap="butt"/>
<path d="M1035.5 255.5L1035.5 256A9.5 9.5 0 0 0 1045 265.5L1045.5 265.5" stroke="#F9C784" stroke-width="9" stroke-linecap="butt"/>
<path d="M1035.5 285.5L1035.5 286A9.5 9.5 0 0 1 1026 295.5L1025.5 295.5" stroke="#F9C784" stroke-width="9" stroke-linecap="butt"/>
<path d="M1035.5 305.5L1035.5 305A9.5 9.5 0 0 0 1026 295.5L1025.5 295.5" stroke="#F9C784" stroke-width="9" stroke-linecap="butt"/>
<path d="M1005.5 250.5L1005.5 295.5" stroke="#F9C784" stroke-width="9" stroke-linecap="butt"/>
<path d="M1015.5 295.5L1015 295.5A9.5 9.5 0 0 1 1005.5 286L1005.5 285.5" stroke="#F9C784" stroke-width="9" stroke-linecap="butt"/>
<path d="M995.5 295.5L996 295.5A9.5 9.5 0 0 0 1005.5 286L1005.5 285.5" stroke="#F9C784" stroke-width="9" stroke-linecap="butt"/>
<path d="M958 235.5L966 235.5A9.5 9.5 0 0 1 975.5 245L975.5 256A9.5 9.5 0 0 1 966 265.5L930.5 265.5" stroke="#F9C784" stroke-width="9" stroke-linecap="butt"/>
<path d="M945.5 265.5L945.5 290" stroke="#F9C784" stroke-width="9" stroke-linecap="butt"/>
<path d="M935.5 265.5L936 265.5A9.5 9.5 0 0 1 945.5 275L945.5 275.5" stroke="#F9C784" stroke-width="9" stroke-linecap="butt"/>
<path d="M955.5 265.5L955 265.5A9.5 9.5 0 0 0 945.5 275L945.5 275.5" stroke="#F9C784" stroke-width="9" stroke-linecap="butt"/>
<rect x="941" y="250" width="9" height="5" fill="#FBDDB4"/>
<path d="M931 145.5L925 145.5A9.5 9.5 0 0 0 915.5 155L915.5 196A9.5 9.5 0 0 0 925 205.5L936 205.5A9.5 9.5 0 0 0 945.5 196L945.5 164" stroke="#FBDDB4" stroke-width="9" stroke-linecap="butt"/>
<path d="M605.5 390.5L605.5 421.5" stroke="#F6B455" stroke-width="9" stroke-linecap="butt"/>
<path d="M605.5 405.5L585 405.5A9.5 9.5 0 0 0 575.5 415L575.5 451.5" stroke="#F2A233" stroke-width="9" stroke-linecap="butt"/>
<path d="M605.5 395.5L605.5 396A9.5 9.5 0 0 1 596 405.5L595.5 405.5" stroke="#F6B455" stroke-width="9" stroke-linecap="butt"/>
<path d="M605.5 415.5L605.5 415A9.5 9.5 0 0 0 596 405.5L595.5 405.5" stroke="#F6B455" stroke-width="9" stroke-linecap="butt"/>
<path d="M545.5 509.5L545.5 546A9.5 9.5 0 0 0 555 555.5L566 555.5A9.5 9.5 0 0 1 575.5 565L575.5 606A9.5 9.5 0 0 0 585 615.5L650 615.5" stroke="#F2A233" stroke-width="9" stroke-linecap="butt"/>
<path d="M605.5 615.5L605.5 696A9.5 9.5 0 0 0 615 705.5L656 705.5A9.5 9.5 0 0 0 665.5 696L665.5 689.5" stroke="#F2A233" stroke-width="9" stroke-linecap="butt"/>
<path d="M595.5 615.5L596 615.5A9.5 9.5 0 0 1 605.5 625L605.5 625.5" stroke="#F2A233" stroke-width="9" stroke-linecap="butt"/>
<path d="M615.5 615.5L615 615.5A9.5 9.5 0 0 0 605.5 625L605.5 625.5" stroke="#F2A233" stroke-width="9" stroke-linecap="butt"/>
<path d="M635.5 539.5L635.5 631.5" stroke="#F2A233" stroke-width="9" stroke-linecap="butt"/>
<path d="M645.5 615.5L645 615.5A9.5 9.5 0 0 1 635.5 606L635.5 605.5" stroke="#F2A233" stroke-width="9" stroke-linecap="butt"/>
<path d="M625.5 615.5L626 615.5A9.5 9.5 0 0 0 635.5 606L635.5 605.5" stroke="#F2A233" stroke-width="9" stroke-linecap="butt"/>
<path d="M625.5 615.5L626 615.5A9.5 9.5 0 0 1 635.5 625L635.5 625.5" stroke="#F2A233" stroke-width="9" stroke-linecap="butt"/>
<path d="M645.5 615.5L645 615.5A9.5 9.5 0 0 0 635.5 625L635.5 625.5" stroke="#F2A233" stroke-width="9" stroke-linecap="butt"/>
<rect x="620" y="541" width="12" height="70" fill="#F2A233"/>
<rect x="590" y="631" width="16" height="79" fill="#F2A233"/>
<rect x="691" y="476" width="9" height="6" fill="#F6B455"/>
<rect x="676" y="551" width="6" height="9" fill="#F6B455"/>
<path d="M730.5 675.5L791.5 675.5" stroke="#DC8212" stroke-width="9" stroke-linecap="butt"/>
<rect x="730" y="671" width="62" height="9" fill="url(#g11)"/>
<path d="M865.5 559L865.5 621.5" stroke="#C8650F" stroke-width="9" stroke-linecap="butt"/>
<path d="M835.5 410.5L835.5 446A9.5 9.5 0 0 1 826 455.5L815 455.5A9.5 9.5 0 0 0 805.5 465L805.5 471.5" stroke="#F6B455" stroke-width="9" stroke-linecap="butt"/>
<path d="M1005.5 520.5L1005.5 545" stroke="#F9CB8C" stroke-width="9" stroke-linecap="butt"/>
<path d="M1005.5 520.5L1005.5 526A9.5 9.5 0 0 1 996 535.5L990 535.5" stroke="#F9CB8C" stroke-width="9" stroke-linecap="butt"/>
<path d="M975.5 545A9.5 9.5 0 0 1 985 535.5L996 535.5A9.5 9.5 0 0 1 1005.5 545L1005.5 556A9.5 9.5 0 0 1 996 565.5L985 565.5A9.5 9.5 0 0 1 975.5 556Z" stroke="#F9CB8C" stroke-width="9" stroke-linecap="butt"/>
<path d="M975.5 555L975.5 586A9.5 9.5 0 0 0 985 595.5L1026 595.5A9.5 9.5 0 0 1 1035.5 605L1035.5 611.5" stroke="#F9CB8C" stroke-width="9" stroke-linecap="butt"/></g>
<g fill="none" shape-rendering="crispEdges">
<path d="M112 102.5H119M113 104.5H118M113 106.5H118M114 108.5H117M122 102.5H129M123 104.5H128M123 106.5H128M124 108.5H127M132 102.5H139M133 104.5H138M133 106.5H138M134 108.5H137M142 102.5H149M143 104.5H148M143 106.5H148M144 108.5H147M112 158.5H119M113 156.5H118M113 154.5H118M114 152.5H117M122 158.5H129M123 156.5H128M123 154.5H128M124 152.5H127M132 158.5H139M133 156.5H138M133 154.5H138M134 152.5H137M142 158.5H149M143 156.5H148M143 154.5H148M144 152.5H147M102.5 112V119M104.5 113V118M106.5 113V118M108.5 114V117M102.5 122V129M104.5 123V128M106.5 123V128M108.5 124V127M102.5 132V139M104.5 133V138M106.5 133V138M108.5 134V137M102.5 142V149M104.5 143V148M106.5 143V148M108.5 144V147M158.5 112V119M156.5 113V118M154.5 113V118M152.5 114V117M158.5 122V129M156.5 123V128M154.5 123V128M152.5 124V127M158.5 132V139M156.5 133V138M154.5 133V138M152.5 134V137M502 102.5H509M503 104.5H508M503 106.5H508M504 108.5H507M512 102.5H519M513 104.5H518M513 106.5H518M514 108.5H517M522 102.5H529M523 104.5H528M523 106.5H528M524 108.5H527M532 102.5H539M533 104.5H538M533 106.5H538M534 108.5H537M502 158.5H509M503 156.5H508M503 154.5H508M504 152.5H507M512 158.5H519M513 156.5H518M513 154.5H518M514 152.5H517M522 158.5H529M523 156.5H528M523 154.5H528M524 152.5H527M532 158.5H539M533 156.5H538M533 154.5H538M534 152.5H537M492.5 112V119M494.5 113V118M496.5 113V118M498.5 114V117M492.5 122V129M494.5 123V128M496.5 123V128M498.5 124V127M492.5 132V139M494.5 133V138M496.5 133V138M498.5 134V137M548.5 112V119M546.5 113V118M544.5 113V118M542.5 114V117M548.5 122V129M546.5 123V128M544.5 123V128M542.5 124V127M548.5 132V139M546.5 133V138M544.5 133V138M542.5 134V137M548.5 142V149M546.5 143V148M544.5 143V148M542.5 144V147M112 372.5H119M113 374.5H118M113 376.5H118M114 378.5H117M122 372.5H129M123 374.5H128M123 376.5H128M124 378.5H127M132 372.5H139M133 374.5H138M133 376.5H138M134 378.5H137M142 372.5H149M143 374.5H148M143 376.5H148M144 378.5H147M112 428.5H119M113 426.5H118M113 424.5H118M114 422.5H117M122 428.5H129M123 426.5H128M123 424.5H128M124 422.5H127M132 428.5H139M133 426.5H138M133 424.5H138M134 422.5H137M142 428.5H149M143 426.5H148M143 424.5H148M144 422.5H147M102.5 382V389M104.5 383V388M106.5 383V388M108.5 384V387M102.5 392V399M104.5 393V398M106.5 393V398M108.5 394V397M102.5 402V409M104.5 403V408M106.5 403V408M108.5 404V407M102.5 412V419M104.5 413V418M106.5 413V418M108.5 414V417M158.5 392V399M156.5 393V398M154.5 393V398M152.5 394V397M158.5 402V409M156.5 403V408M154.5 403V408M152.5 404V407M158.5 412V419M156.5 413V418M154.5 413V418M152.5 414V417M502 372.5H509M503 374.5H508M503 376.5H508M504 378.5H507M512 372.5H519M513 374.5H518M513 376.5H518M514 378.5H517M522 372.5H529M523 374.5H528M523 376.5H528M524 378.5H527M532 372.5H539M533 374.5H538M533 376.5H538M534 378.5H537M502 428.5H509M503 426.5H508M503 424.5H508M504 422.5H507M512 428.5H519M513 426.5H518M513 424.5H518M514 422.5H517M522 428.5H529M523 426.5H528M523 424.5H528M524 422.5H527M532 428.5H539M533 426.5H538M533 424.5H538M534 422.5H537M492.5 392V399M494.5 393V398M496.5 393V398M498.5 394V397M492.5 402V409M494.5 403V408M496.5 403V408M498.5 404V407M492.5 412V419M494.5 413V418M496.5 413V418M498.5 414V417M548.5 382V389M546.5 383V388M544.5 383V388M542.5 384V387M548.5 392V399M546.5 393V398M544.5 393V398M542.5 394V397M548.5 402V409M546.5 403V408M544.5 403V408M542.5 404V407M548.5 412V419M546.5 413V418M544.5 413V418M542.5 414V417M202 162.5H209M203 164.5H208M203 166.5H208M204 168.5H207M212 162.5H219M213 164.5H218M213 166.5H218M214 168.5H217M222 162.5H229M223 164.5H228M223 166.5H228M224 168.5H227M232 162.5H239M233 164.5H238M233 166.5H238M234 168.5H237M242 162.5H249M243 164.5H248M243 166.5H248M244 168.5H247M252 162.5H259M253 164.5H258M253 166.5H258M254 168.5H257M262 162.5H269M263 164.5H268M263 166.5H268M264 168.5H267M272 162.5H279M273 164.5H278M273 166.5H278M274 168.5H277M282 162.5H289M283 164.5H288M283 166.5H288M284 168.5H287M202 218.5H209M203 216.5H208M203 214.5H208M204 212.5H207M212 218.5H219M213 216.5H218M213 214.5H218M214 212.5H217M222 218.5H229M223 216.5H228M223 214.5H228M224 212.5H227M232 218.5H239M233 216.5H238M233 214.5H238M234 212.5H237M242 218.5H249M243 216.5H248M243 214.5H248M244 212.5H247M252 218.5H259M253 216.5H258M253 214.5H258M254 212.5H257M262 218.5H269M263 216.5H268M263 214.5H268M264 212.5H267M272 218.5H279M273 216.5H278M273 214.5H278M274 212.5H277M282 218.5H289M283 216.5H288M283 214.5H288M284 212.5H287M292 218.5H299M293 216.5H298M293 214.5H298M294 212.5H297M192.5 182V189M194.5 183V188M196.5 183V188M198.5 184V187M192.5 192V199M194.5 193V198M196.5 193V198M198.5 194V197M192.5 202V209M194.5 203V208M196.5 203V208M198.5 204V207M308.5 172V179M306.5 173V178M304.5 173V178M302.5 174V177M308.5 182V189M306.5 183V188M304.5 183V188M302.5 184V187M308.5 192V199M306.5 193V198M304.5 193V198M302.5 194V197M308.5 202V209M306.5 203V208M304.5 203V208M302.5 204V207M362 162.5H369M363 164.5H368M363 166.5H368M364 168.5H367M372 162.5H379M373 164.5H378M373 166.5H378M374 168.5H377M382 162.5H389M383 164.5H388M383 166.5H388M384 168.5H387M392 162.5H399M393 164.5H398M393 166.5H398M394 168.5H397M402 162.5H409M403 164.5H408M403 166.5H408M404 168.5H407M412 162.5H419M413 164.5H418M413 166.5H418M414 168.5H417M422 162.5H429M423 164.5H428M423 166.5H428M424 168.5H427M432 162.5H439M433 164.5H438M433 166.5H438M434 168.5H437M442 162.5H449M443 164.5H448M443 166.5H448M444 168.5H447M352 218.5H359M353 216.5H358M353 214.5H358M354 212.5H357M362 218.5H369M363 216.5H368M363 214.5H368M364 212.5H367M372 218.5H379M373 216.5H378M373 214.5H378M374 212.5H377M382 218.5H389M383 216.5H388M383 214.5H388M384 212.5H387M392 218.5H399M393 216.5H398M393 214.5H398M394 212.5H397M402 218.5H409M403 216.5H408M403 214.5H408M404 212.5H407M412 218.5H419M413 216.5H418M413 214.5H418M414 212.5H417M422 218.5H429M423 216.5H428M423 214.5H428M424 212.5H427M432 218.5H439M433 216.5H438M433 214.5H438M434 212.5H437M442 218.5H449M443 216.5H448M443 214.5H448M444 212.5H447M342.5 172V179M344.5 173V178M346.5 173V178M348.5 174V177M342.5 182V189M344.5 183V188M346.5 183V188M348.5 184V187M342.5 192V199M344.5 193V198M346.5 193V198M348.5 194V197M342.5 202V209M344.5 203V208M346.5 203V208M348.5 204V207M458.5 182V189M456.5 183V188M454.5 183V188M452.5 184V187M458.5 192V199M456.5 193V198M454.5 193V198M452.5 194V197M458.5 202V209M456.5 203V208M454.5 203V208M452.5 204V207M202 312.5H209M203 314.5H208M203 316.5H208M204 318.5H207M212 312.5H219M213 314.5H218M213 316.5H218M214 318.5H217M222 312.5H229M223 314.5H228M223 316.5H228M224 318.5H227M232 312.5H239M233 314.5H238M233 316.5H238M234 318.5H237M242 312.5H249M243 314.5H248M243 316.5H248M244 318.5H247M252 312.5H259M253 314.5H258M253 316.5H258M254 318.5H257M262 312.5H269M263 314.5H268M263 316.5H268M264 318.5H267M272 312.5H279M273 314.5H278M273 316.5H278M274 318.5H277M282 312.5H289M283 314.5H288M283 316.5H288M284 318.5H287M292 312.5H299M293 314.5H298M293 316.5H298M294 318.5H297M202 368.5H209M203 366.5H208M203 364.5H208M204 362.5H207M212 368.5H219M213 366.5H218M213 364.5H218M214 362.5H217M222 368.5H229M223 366.5H228M223 364.5H228M224 362.5H227M232 368.5H239M233 366.5H238M233 364.5H238M234 362.5H237M242 368.5H249M243 366.5H248M243 364.5H248M244 362.5H247M252 368.5H259M253 366.5H258M253 364.5H258M254 362.5H257M262 368.5H269M263 366.5H268M263 364.5H268M264 362.5H267M272 368.5H279M273 366.5H278M273 364.5H278M274 362.5H277M282 368.5H289M283 366.5H288M283 364.5H288M284 362.5H287M192.5 322V329M194.5 323V328M196.5 323V328M198.5 324V327M192.5 332V339M194.5 333V338M196.5 333V338M198.5 334V337M192.5 342V349M194.5 343V348M196.5 343V348M198.5 344V347M308.5 322V329M306.5 323V328M304.5 323V328M302.5 324V327M308.5 332V339M306.5 333V338M304.5 333V338M302.5 334V337M308.5 342V349M306.5 343V348M304.5 343V348M302.5 344V347M308.5 352V359M306.5 353V358M304.5 353V358M302.5 354V357M352 312.5H359M353 314.5H358M353 316.5H358M354 318.5H357M362 312.5H369M363 314.5H368M363 316.5H368M364 318.5H367M372 312.5H379M373 314.5H378M373 316.5H378M374 318.5H377M382 312.5H389M383 314.5H388M383 316.5H388M384 318.5H387M392 312.5H399M393 314.5H398M393 316.5H398M394 318.5H397M402 312.5H409M403 314.5H408M403 316.5H408M404 318.5H407M412 312.5H419M413 314.5H418M413 316.5H418M414 318.5H417M422 312.5H429M423 314.5H428M423 316.5H428M424 318.5H427M432 312.5H439M433 314.5H438M433 316.5H438M434 318.5H437M442 312.5H449M443 314.5H448M443 316.5H448M444 318.5H447M362 368.5H369M363 366.5H368M363 364.5H368M364 362.5H367M372 368.5H379M373 366.5H378M373 364.5H378M374 362.5H377M382 368.5H389M383 366.5H388M383 364.5H388M384 362.5H387M392 368.5H399M393 366.5H398M393 364.5H398M394 362.5H397M402 368.5H409M403 366.5H408M403 364.5H408M404 362.5H407M412 368.5H419M413 366.5H418M413 364.5H418M414 362.5H417M422 368.5H429M423 366.5H428M423 364.5H428M424 362.5H427M432 368.5H439M433 366.5H438M433 364.5H438M434 362.5H437M442 368.5H449M443 366.5H448M443 364.5H448M444 362.5H447M342.5 322V329M344.5 323V328M346.5 323V328M348.5 324V327M342.5 332V339M344.5 333V338M346.5 333V338M348.5 334V337M342.5 342V349M344.5 343V348M346.5 343V348M348.5 344V347M342.5 352V359M344.5 353V358M346.5 353V358M348.5 354V357M458.5 322V329M456.5 323V328M454.5 323V328M452.5 324V327M458.5 332V339M456.5 333V338M454.5 333V338M452.5 334V337M458.5 342V349M456.5 343V348M454.5 343V348M452.5 344V347M152 512.5H159M153 514.5H158M153 516.5H158M154 518.5H157M162 512.5H169M163 514.5H168M163 516.5H168M164 518.5H167M172 512.5H179M173 514.5H178M173 516.5H178M174 518.5H177M188.5 522V529M186.5 523V528M184.5 523V528M182.5 524V527M188.5 532V539M186.5 533V538M184.5 533V538M182.5 534V537M188.5 542V549M186.5 543V548M184.5 543V548M182.5 544V547M188.5 552V559M186.5 553V558M184.5 553V558M182.5 554V557M188.5 562V569M186.5 563V568M184.5 563V568M182.5 564V567M188.5 572V579M186.5 573V578M184.5 573V578M182.5 574V577M188.5 582V589M186.5 583V588M184.5 583V588M182.5 584V587M162 598.5H169M163 596.5H168M163 594.5H168M164 592.5H167M172 598.5H179M173 596.5H178M173 594.5H178M174 592.5H177M158.5 602V609M156.5 603V608M154.5 603V608M152.5 604V607M158.5 612V619M156.5 613V618M154.5 613V618M152.5 614V617M112 628.5H119M113 626.5H118M113 624.5H118M114 622.5H117M122 628.5H129M123 626.5H128M123 624.5H128M124 622.5H127M132 628.5H139M133 626.5H138M133 624.5H138M134 622.5H137M142 628.5H149M143 626.5H148M143 624.5H148M144 622.5H147M102.5 552V559M104.5 553V558M106.5 553V558M108.5 554V557M102.5 562V569M104.5 563V568M106.5 563V568M108.5 564V567M102.5 572V579M104.5 573V578M106.5 573V578M108.5 574V577M102.5 582V589M104.5 583V588M106.5 583V588M108.5 584V587M102.5 592V599M104.5 593V598M106.5 593V598M108.5 594V597M102.5 602V609M104.5 603V608M106.5 603V608M108.5 604V607M102.5 612V619M104.5 613V618M106.5 613V618M108.5 614V617M112 542.5H119M113 544.5H118M113 546.5H118M114 548.5H117M122 542.5H129M123 544.5H128M123 546.5H128M124 548.5H127M132.5 522V529M134.5 523V528M136.5 523V528M138.5 524V527M132.5 532V539M134.5 533V538M136.5 533V538M138.5 534V537M292 472.5H299M293 474.5H298M293 476.5H298M294 478.5H297M302 472.5H309M303 474.5H308M303 476.5H308M304 478.5H307M312 472.5H319M313 474.5H318M313 476.5H318M314 478.5H317M332 472.5H339M333 474.5H338M333 476.5H338M334 478.5H337M342 472.5H349M343 474.5H348M343 476.5H348M344 478.5H347M352 472.5H359M353 474.5H358M353 476.5H358M354 478.5H357M292 558.5H299M293 556.5H298M293 554.5H298M294 552.5H297M302 558.5H309M303 556.5H308M303 554.5H308M304 552.5H307M312 558.5H319M313 556.5H318M313 554.5H318M314 552.5H317M332 558.5H339M333 556.5H338M333 554.5H338M334 552.5H337M342 558.5H349M343 556.5H348M343 554.5H348M344 552.5H347M352 558.5H359M353 556.5H358M353 554.5H358M354 552.5H357M282.5 482V489M284.5 483V488M286.5 483V488M288.5 484V487M282.5 492V499M284.5 493V498M286.5 493V498M288.5 494V497M282.5 502V509M284.5 503V508M286.5 503V508M288.5 504V507M282.5 512V519M284.5 513V518M286.5 513V518M288.5 514V517M282.5 522V529M284.5 523V528M286.5 523V528M288.5 524V527M282.5 532V539M284.5 533V538M286.5 533V538M288.5 534V537M282.5 542V549M284.5 543V548M286.5 543V548M288.5 544V547M368.5 482V489M366.5 483V488M364.5 483V488M362.5 484V487M368.5 492V499M366.5 493V498M364.5 493V498M362.5 494V497M368.5 502V509M366.5 503V508M364.5 503V508M362.5 504V507M368.5 512V519M366.5 513V518M364.5 513V518M362.5 514V517M368.5 522V529M366.5 523V528M364.5 523V528M362.5 524V527M368.5 532V539M366.5 533V538M364.5 533V538M362.5 534V537M368.5 542V549M366.5 543V548M364.5 543V548M362.5 544V547M582 192.5H589M583 194.5H588M583 196.5H588M584 198.5H587M592 192.5H599M593 194.5H598M593 196.5H598M594 198.5H597M602 192.5H609M603 194.5H608M603 196.5H608M604 198.5H607M612 192.5H619M613 194.5H618M613 196.5H618M614 198.5H617M622 192.5H629M623 194.5H628M623 196.5H628M624 198.5H627M632 192.5H639M633 194.5H638M633 196.5H638M634 198.5H637M642 192.5H649M643 194.5H648M643 196.5H648M644 198.5H647M652 192.5H659M653 194.5H658M653 196.5H658M654 198.5H657M662 192.5H669M663 194.5H668M663 196.5H668M664 198.5H667M672 192.5H679M673 194.5H678M673 196.5H678M674 198.5H677M688.5 202V209M686.5 203V208M684.5 203V208M682.5 204V207M688.5 212V219M686.5 213V218M684.5 213V218M682.5 214V217M692 222.5H699M693 224.5H698M693 226.5H698M694 228.5H697M702 222.5H709M703 224.5H708M703 226.5H708M704 228.5H707M718.5 232V239M716.5 233V238M714.5 233V238M712.5 234V237M718.5 242V249M716.5 243V248M714.5 243V248M712.5 244V247M718.5 252V259M716.5 253V258M714.5 253V258M712.5 254V257M672 278.5H679M673 276.5H678M673 274.5H678M674 272.5H677M682 278.5H689M683 276.5H688M683 274.5H688M684 272.5H687M692 278.5H699M693 276.5H698M693 274.5H698M694 272.5H697M702 278.5H709M703 276.5H708M703 274.5H708M704 272.5H707M662.5 252V259M664.5 253V258M666.5 253V258M668.5 254V257M662.5 262V269M664.5 263V268M666.5 263V268M668.5 264V267M602 248.5H609M603 246.5H608M603 244.5H608M604 242.5H607M612 248.5H619M613 246.5H618M613 244.5H618M614 242.5H617M622 248.5H629M623 246.5H628M623 244.5H628M624 242.5H627M632 248.5H639M633 246.5H638M633 244.5H638M634 242.5H637M642 248.5H649M643 246.5H648M643 244.5H648M644 242.5H647M652 248.5H659M653 246.5H658M653 244.5H658M654 242.5H657M598.5 252V259M596.5 253V258M594.5 253V258M592.5 254V257M598.5 262V269M596.5 263V268M594.5 263V268M592.5 264V267M598.5 272V279M596.5 273V278M594.5 273V278M592.5 274V277M602 282.5H609M603 284.5H608M603 286.5H608M604 288.5H607M612 282.5H619M613 284.5H618M613 286.5H618M614 288.5H617M622 282.5H629M623 284.5H628M623 286.5H628M624 288.5H627M632 282.5H639M633 284.5H638M633 286.5H638M634 288.5H637M642 282.5H649M643 284.5H648M643 286.5H648M644 288.5H647M658.5 292V299M656.5 293V298M654.5 293V298M652.5 294V297M658.5 302V309M656.5 303V308M654.5 303V308M652.5 304V307M658.5 312V319M656.5 313V318M654.5 313V318M652.5 314V317M658.5 332V339M656.5 333V338M654.5 333V338M652.5 334V337M658.5 342V349M656.5 343V348M654.5 343V348M652.5 344V347M658.5 352V359M656.5 353V358M654.5 353V358M652.5 354V357M582 368.5H589M583 366.5H588M583 364.5H588M584 362.5H587M592 368.5H599M593 366.5H598M593 364.5H598M594 362.5H597M602 368.5H609M603 366.5H608M603 364.5H608M604 362.5H607M612 368.5H619M613 366.5H618M613 364.5H618M614 362.5H617M622 368.5H629M623 366.5H628M623 364.5H628M624 362.5H627M632 368.5H639M633 366.5H638M633 364.5H638M634 362.5H637M642 368.5H649M643 366.5H648M643 364.5H648M644 362.5H647M572.5 312V319M574.5 313V318M576.5 313V318M578.5 314V317M572.5 322V329M574.5 323V328M576.5 323V328M578.5 324V327M572.5 332V339M574.5 333V338M576.5 333V338M578.5 334V337M572.5 342V349M574.5 343V348M576.5 343V348M578.5 344V347M572.5 352V359M574.5 353V358M576.5 353V358M578.5 354V357M552 308.5H559M553 306.5H558M553 304.5H558M554 302.5H557M562 308.5H569M563 306.5H568M563 304.5H568M564 302.5H567M542.5 232V239M544.5 233V238M546.5 233V238M548.5 234V237M542.5 242V249M544.5 243V248M546.5 243V248M548.5 244V247M542.5 252V259M544.5 253V258M546.5 253V258M548.5 254V257M542.5 262V269M544.5 263V268M546.5 263V268M548.5 264V267M542.5 272V279M544.5 273V278M546.5 273V278M548.5 274V277M542.5 282V289M544.5 283V288M546.5 283V288M548.5 284V287M542.5 292V299M544.5 293V298M546.5 293V298M548.5 294V297M552 222.5H559M553 224.5H558M553 226.5H558M554 228.5H557M562 222.5H569M563 224.5H568M563 226.5H568M564 228.5H567M572.5 202V209M574.5 203V208M576.5 203V208M578.5 204V207M572.5 212V219M574.5 213V218M576.5 213V218M578.5 214V217M762 162.5H769M763 164.5H768M763 166.5H768M764 168.5H767M772 162.5H779M773 164.5H778M773 166.5H778M774 168.5H777M782 162.5H789M783 164.5H788M783 166.5H788M784 168.5H787M792 162.5H799M793 164.5H798M793 166.5H798M794 168.5H797M808.5 172V179M806.5 173V178M804.5 173V178M802.5 174V177M808.5 182V189M806.5 183V188M804.5 183V188M802.5 184V187M808.5 192V199M806.5 193V198M804.5 193V198M802.5 194V197M808.5 202V209M806.5 203V208M804.5 203V208M802.5 204V207M808.5 212V219M806.5 213V218M804.5 213V218M802.5 214V217M808.5 222V229M806.5 223V228M804.5 223V228M802.5 224V227M808.5 232V239M806.5 233V238M804.5 233V238M802.5 234V237M732 248.5H739M733 246.5H738M733 244.5H738M734 242.5H737M742 248.5H749M743 246.5H748M743 244.5H748M744 242.5H747M752 248.5H759M753 246.5H758M753 244.5H758M754 242.5H757M772 248.5H779M773 246.5H778M773 244.5H778M774 242.5H777M782 248.5H789M783 246.5H788M783 244.5H788M784 242.5H787M792 248.5H799M793 246.5H798M793 244.5H798M794 242.5H797M722.5 202V209M724.5 203V208M726.5 203V208M728.5 204V207M722.5 212V219M724.5 213V218M726.5 213V218M728.5 214V217M722.5 222V229M724.5 223V228M726.5 223V228M728.5 224V227M722.5 232V239M724.5 233V238M726.5 233V238M728.5 234V237M732 192.5H739M733 194.5H738M733 196.5H738M734 198.5H737M742 192.5H749M743 194.5H748M743 196.5H748M744 198.5H747M752.5 172V179M754.5 173V178M756.5 173V178M758.5 174V177M752.5 182V189M754.5 183V188M756.5 183V188M758.5 184V187M732 312.5H739M733 314.5H738M733 316.5H738M734 318.5H737M742 312.5H749M743 314.5H748M743 316.5H748M744 318.5H747M752 312.5H759M753 314.5H758M753 316.5H758M754 318.5H757M762 312.5H769M763 314.5H768M763 316.5H768M764 318.5H767M778.5 322V329M776.5 323V328M774.5 323V328M772.5 324V327M778.5 332V339M776.5 333V338M774.5 333V338M772.5 334V337M782 342.5H789M783 344.5H788M783 346.5H788M784 348.5H787M792 342.5H799M793 344.5H798M793 346.5H798M794 348.5H797M808.5 362V369M806.5 363V368M804.5 363V368M802.5 364V367M808.5 372V379M806.5 373V378M804.5 373V378M802.5 374V377M808.5 382V389M806.5 383V388M804.5 383V388M802.5 384V387M762 398.5H769M763 396.5H768M763 394.5H768M764 392.5H767M772 398.5H779M773 396.5H778M773 394.5H778M774 392.5H777M782 398.5H789M783 396.5H788M783 394.5H788M784 392.5H787M792 398.5H799M793 396.5H798M793 394.5H798M794 392.5H797M752.5 372V379M754.5 373V378M756.5 373V378M758.5 374V377M752.5 382V389M754.5 383V388M756.5 383V388M758.5 384V387M732 368.5H739M733 366.5H738M733 364.5H738M734 362.5H737M742 368.5H749M743 366.5H748M743 364.5H748M744 362.5H747M722.5 322V329M724.5 323V328M726.5 323V328M728.5 324V327M722.5 332V339M724.5 333V338M726.5 333V338M728.5 334V337M722.5 342V349M724.5 343V348M726.5 343V348M728.5 344V347M612 422.5H619M613 424.5H618M613 426.5H618M614 428.5H617M622 422.5H629M623 424.5H628M623 426.5H628M624 428.5H627M632 422.5H639M633 424.5H638M633 426.5H638M634 428.5H637M602 478.5H609M603 476.5H608M603 474.5H608M604 472.5H607M612 478.5H619M613 476.5H618M613 474.5H618M614 472.5H617M622 478.5H629M623 476.5H628M623 474.5H628M624 472.5H627M632 478.5H639M633 476.5H638M633 474.5H638M634 472.5H637M592.5 432V439M594.5 433V438M596.5 433V438M598.5 434V437M592.5 442V449M594.5 443V448M596.5 443V448M598.5 444V447M592.5 452V459M594.5 453V458M596.5 453V458M598.5 454V457M592.5 462V469M594.5 463V468M596.5 463V468M598.5 464V467M648.5 432V439M646.5 433V438M644.5 433V438M642.5 434V437M648.5 442V449M646.5 443V448M644.5 443V448M642.5 444V447M648.5 452V459M646.5 453V458M644.5 453V458M642.5 454V457M648.5 462V469M646.5 463V468M644.5 463V468M642.5 464V467M542 452.5H549M543 454.5H548M543 456.5H548M544 458.5H547M552 452.5H559M553 454.5H558M553 456.5H558M554 458.5H557M562 452.5H569M563 454.5H568M563 456.5H568M564 458.5H567M552 508.5H559M553 506.5H558M553 504.5H558M554 502.5H557M562 508.5H569M563 506.5H568M563 504.5H568M564 502.5H567M572 508.5H579M573 506.5H578M573 504.5H578M574 502.5H577M532.5 462V469M534.5 463V468M536.5 463V468M538.5 464V467M532.5 472V479M534.5 473V478M536.5 473V478M538.5 474V477M532.5 482V489M534.5 483V488M536.5 483V488M538.5 484V487M532.5 492V499M534.5 493V498M536.5 493V498M538.5 494V497M588.5 462V469M586.5 463V468M584.5 463V468M582.5 464V467M588.5 472V479M586.5 473V478M584.5 473V478M582.5 474V477M588.5 482V489M586.5 483V488M584.5 483V488M582.5 484V487M588.5 492V499M586.5 493V498M584.5 493V498M582.5 494V497M512 632.5H519M513 634.5H518M513 636.5H518M514 638.5H517M522 632.5H529M523 634.5H528M523 636.5H528M524 638.5H527M532 632.5H539M533 634.5H538M533 636.5H538M534 638.5H537M542 632.5H549M543 634.5H548M543 636.5H548M544 638.5H547M552 632.5H559M553 634.5H558M553 636.5H558M554 638.5H557M562 632.5H569M563 634.5H568M563 636.5H568M564 638.5H567M572 632.5H579M573 634.5H578M573 636.5H578M574 638.5H577M512 718.5H519M513 716.5H518M513 714.5H518M514 712.5H517M522 718.5H529M523 716.5H528M523 714.5H528M524 712.5H527M532 718.5H539M533 716.5H538M533 714.5H538M534 712.5H537M542 718.5H549M543 716.5H548M543 714.5H548M544 712.5H547M552 718.5H559M553 716.5H558M553 714.5H558M554 712.5H557M562 718.5H569M563 716.5H568M563 714.5H568M564 712.5H567M572 718.5H579M573 716.5H578M573 714.5H578M574 712.5H577M502.5 642V649M504.5 643V648M506.5 643V648M508.5 644V647M502.5 652V659M504.5 653V658M506.5 653V658M508.5 654V657M502.5 662V669M504.5 663V668M506.5 663V668M508.5 664V667M502.5 672V679M504.5 673V678M506.5 673V678M508.5 674V677M502.5 682V689M504.5 683V688M506.5 683V688M508.5 684V687M502.5 692V699M504.5 693V698M506.5 693V698M508.5 694V697M502.5 702V709M504.5 703V708M506.5 703V708M508.5 704V707M588.5 652V659M586.5 653V658M584.5 653V658M582.5 654V657M588.5 662V669M586.5 663V668M584.5 663V668M582.5 664V667M588.5 682V689M586.5 683V688M584.5 683V688M582.5 684V687M588.5 692V699M586.5 693V698M584.5 693V698M582.5 694V697M588.5 652V659M586.5 653V658M584.5 653V658M582.5 654V657M588.5 662V669M586.5 663V668M584.5 663V668M582.5 664V667M588.5 682V689M586.5 683V688M584.5 683V688M582.5 684V687M588.5 692V699M586.5 693V698M584.5 693V698M582.5 694V697M702 482.5H709M703 484.5H708M703 486.5H708M704 488.5H707M712 482.5H719M713 484.5H718M713 486.5H718M714 488.5H717M722 482.5H729M723 484.5H728M723 486.5H728M724 488.5H727M738.5 492V499M736.5 493V498M734.5 493V498M732.5 494V497M738.5 502V509M736.5 503V508M734.5 503V508M732.5 504V507M738.5 512V519M736.5 513V518M734.5 513V518M732.5 514V517M738.5 522V529M736.5 523V528M734.5 523V528M732.5 524V527M738.5 532V539M736.5 533V538M734.5 533V538M732.5 534V537M738.5 542V549M736.5 543V548M734.5 543V548M732.5 544V547M738.5 552V559M736.5 553V558M734.5 553V558M732.5 554V557M738.5 562V569M736.5 563V568M734.5 563V568M732.5 564V567M738.5 572V579M736.5 573V578M734.5 573V578M732.5 574V577M738.5 582V589M736.5 583V588M734.5 583V588M732.5 584V587M738.5 592V599M736.5 593V598M734.5 593V598M732.5 594V597M738.5 602V609M736.5 603V608M734.5 603V608M732.5 604V607M738.5 612V619M736.5 613V618M734.5 613V618M732.5 614V617M738.5 622V629M736.5 623V628M734.5 623V628M732.5 624V627M738.5 632V639M736.5 633V638M734.5 633V638M732.5 634V637M738.5 642V649M736.5 643V648M734.5 643V648M732.5 644V647M712 658.5H719M713 656.5H718M713 654.5H718M714 652.5H717M722 658.5H729M723 656.5H728M723 654.5H728M724 652.5H727M708.5 662V669M706.5 663V668M704.5 663V668M702.5 664V667M708.5 672V679M706.5 673V678M704.5 673V678M702.5 674V677M632 688.5H639M633 686.5H638M633 684.5H638M634 682.5H637M642 688.5H649M643 686.5H648M643 684.5H648M644 682.5H647M652 688.5H659M653 686.5H658M653 684.5H658M654 682.5H657M672 688.5H679M673 686.5H678M673 684.5H678M674 682.5H677M682 688.5H689M683 686.5H688M683 684.5H688M684 682.5H687M692 688.5H699M693 686.5H698M693 684.5H698M694 682.5H697M622.5 642V649M624.5 643V648M626.5 643V648M628.5 644V647M622.5 652V659M624.5 653V658M626.5 653V658M628.5 654V657M622.5 662V669M624.5 663V668M626.5 663V668M628.5 664V667M622.5 672V679M624.5 673V678M626.5 673V678M628.5 674V677M642 632.5H649M643 634.5H648M643 636.5H648M644 638.5H647M652 632.5H659M653 634.5H658M653 636.5H658M654 638.5H657M662 632.5H669M663 634.5H668M663 636.5H668M664 638.5H667M672 632.5H679M673 634.5H678M673 636.5H678M674 638.5H677M682.5 492V499M684.5 493V498M686.5 493V498M688.5 494V497M682.5 502V509M684.5 503V508M686.5 503V508M688.5 504V507M682.5 512V519M684.5 513V518M686.5 513V518M688.5 514V517M682.5 522V529M684.5 523V528M686.5 523V528M688.5 524V527M682.5 532V539M684.5 533V538M686.5 533V538M688.5 534V537M682.5 542V549M684.5 543V548M686.5 543V548M688.5 544V547M682.5 562V569M684.5 563V568M686.5 563V568M688.5 564V567M682.5 572V579M684.5 573V578M686.5 573V578M688.5 574V577M682.5 582V589M684.5 583V588M686.5 583V588M688.5 584V587M682.5 592V599M684.5 593V598M686.5 593V598M688.5 594V597M682.5 602V609M684.5 603V608M686.5 603V608M688.5 604V607M682.5 612V619M684.5 613V618M686.5 613V618M688.5 614V617M682.5 622V629M684.5 623V628M686.5 623V628M688.5 624V627M832 632.5H839M833 634.5H838M833 636.5H838M834 638.5H837M842 632.5H849M843 634.5H848M843 636.5H848M844 638.5H847M852 632.5H859M853 634.5H858M853 636.5H858M854 638.5H857M862 632.5H869M863 634.5H868M863 636.5H868M864 638.5H867M878.5 642V649M876.5 643V648M874.5 643V648M872.5 644V647M878.5 652V659M876.5 653V658M874.5 653V658M872.5 654V657M882 662.5H889M883 664.5H888M883 666.5H888M884 668.5H887M892 662.5H899M893 664.5H898M893 666.5H898M894 668.5H897M908.5 672V679M906.5 673V678M904.5 673V678M902.5 674V677M908.5 682V689M906.5 683V688M904.5 683V688M902.5 684V687M908.5 692V699M906.5 693V698M904.5 693V698M902.5 694V697M908.5 702V709M906.5 703V708M904.5 703V708M902.5 704V707M908.5 712V719M906.5 713V718M904.5 713V718M902.5 714V717M908.5 722V729M906.5 723V728M904.5 723V728M902.5 724V727M908.5 732V739M906.5 733V738M904.5 733V738M902.5 734V737M882 748.5H889M883 746.5H888M883 744.5H888M884 742.5H887M892 748.5H899M893 746.5H898M893 744.5H898M894 742.5H897M878.5 752V759M876.5 753V758M874.5 753V758M872.5 754V757M878.5 762V769M876.5 763V768M874.5 763V768M872.5 764V767M832 778.5H839M833 776.5H838M833 774.5H838M834 772.5H837M842 778.5H849M843 776.5H848M843 774.5H848M844 772.5H847M852 778.5H859M853 776.5H858M853 774.5H858M854 772.5H857M862 778.5H869M863 776.5H868M863 774.5H868M864 772.5H867M822.5 752V759M824.5 753V758M826.5 753V758M828.5 754V757M822.5 762V769M824.5 763V768M826.5 763V768M828.5 764V767M802 748.5H809M803 746.5H808M803 744.5H808M804 742.5H807M812 748.5H819M813 746.5H818M813 744.5H818M814 742.5H817M792.5 682V689M794.5 683V688M796.5 683V688M798.5 684V687M792.5 692V699M794.5 693V698M796.5 693V698M798.5 694V697M792.5 702V709M794.5 703V708M796.5 703V708M798.5 704V707M792.5 712V719M794.5 713V718M796.5 713V718M798.5 714V717M792.5 722V729M794.5 723V728M796.5 723V728M798.5 724V727M792.5 732V739M794.5 733V738M796.5 733V738M798.5 734V737M802 662.5H809M803 664.5H808M803 666.5H808M804 668.5H807M812 662.5H819M813 664.5H818M813 666.5H818M814 668.5H817M822.5 642V649M824.5 643V648M826.5 643V648M828.5 644V647M822.5 652V659M824.5 653V658M826.5 653V658M828.5 654V657M772 472.5H779M773 474.5H778M773 476.5H778M774 478.5H777M782 472.5H789M783 474.5H788M783 476.5H788M784 478.5H787M792 472.5H799M793 474.5H798M793 476.5H798M794 478.5H797M772 528.5H779M773 526.5H778M773 524.5H778M774 522.5H777M782 528.5H789M783 526.5H788M783 524.5H788M784 522.5H787M792 528.5H799M793 526.5H798M793 524.5H798M794 522.5H797M802 528.5H809M803 526.5H808M803 524.5H808M804 522.5H807M762.5 482V489M764.5 483V488M766.5 483V488M768.5 484V487M762.5 492V499M764.5 493V498M766.5 493V498M768.5 494V497M762.5 502V509M764.5 503V508M766.5 503V508M768.5 504V507M762.5 512V519M764.5 513V518M766.5 513V518M768.5 514V517M818.5 482V489M816.5 483V488M814.5 483V488M812.5 484V487M818.5 492V499M816.5 493V498M814.5 493V498M812.5 494V497M818.5 502V509M816.5 503V508M814.5 503V508M812.5 504V507M818.5 512V519M816.5 513V518M814.5 513V518M812.5 514V517M912 462.5H919M913 464.5H918M913 466.5H918M914 468.5H917M922 462.5H929M923 464.5H928M923 466.5H928M924 468.5H927M932 462.5H939M933 464.5H938M933 466.5H938M934 468.5H937M952 462.5H959M953 464.5H958M953 466.5H958M954 468.5H957M962 462.5H969M963 464.5H968M963 466.5H968M964 468.5H967M988.5 472V479M986.5 473V478M984.5 473V478M982.5 474V477M988.5 482V489M986.5 483V488M984.5 483V488M982.5 484V487M988.5 492V499M986.5 493V498M984.5 493V498M982.5 494V497M988.5 502V509M986.5 503V508M984.5 503V508M982.5 504V507M962 518.5H969M963 516.5H968M963 514.5H968M964 512.5H967M972 518.5H979M973 516.5H978M973 514.5H978M974 512.5H977M958.5 522V529M956.5 523V528M954.5 523V528M952.5 524V527M958.5 532V539M956.5 533V538M954.5 533V538M952.5 534V537M912 548.5H919M913 546.5H918M913 544.5H918M914 542.5H917M922 548.5H929M923 546.5H928M923 544.5H928M924 542.5H927M932 548.5H939M933 546.5H938M933 544.5H938M934 542.5H937M942 548.5H949M943 546.5H948M943 544.5H948M944 542.5H947M902.5 472V479M904.5 473V478M906.5 473V478M908.5 474V477M902.5 482V489M904.5 483V488M906.5 483V488M908.5 484V487M902.5 492V499M904.5 493V498M906.5 493V498M908.5 494V497M902.5 502V509M904.5 503V508M906.5 503V508M908.5 504V507M902.5 512V519M904.5 513V518M906.5 513V518M908.5 514V517M902.5 522V529M904.5 523V528M906.5 523V528M908.5 524V527M902.5 532V539M904.5 533V538M906.5 533V538M908.5 534V537M1042 612.5H1049M1043 614.5H1048M1043 616.5H1048M1044 618.5H1047M1052 612.5H1059M1053 614.5H1058M1053 616.5H1058M1054 618.5H1057M1062 612.5H1069M1063 614.5H1068M1063 616.5H1068M1064 618.5H1067M1072 612.5H1079M1073 614.5H1078M1073 616.5H1078M1074 618.5H1077M1082 612.5H1089M1083 614.5H1088M1083 616.5H1088M1084 618.5H1087M1092 612.5H1099M1093 614.5H1098M1093 616.5H1098M1094 618.5H1097M1108.5 622V629M1106.5 623V628M1104.5 623V628M1102.5 624V627M1108.5 632V639M1106.5 633V638M1104.5 633V638M1102.5 634V637M1108.5 642V649M1106.5 643V648M1104.5 643V648M1102.5 644V647M1108.5 652V659M1106.5 653V658M1104.5 653V658M1102.5 654V657M1108.5 662V669M1106.5 663V668M1104.5 663V668M1102.5 664V667M1108.5 672V679M1106.5 673V678M1104.5 673V678M1102.5 674V677M1108.5 682V689M1106.5 683V688M1104.5 683V688M1102.5 684V687M1062 698.5H1069M1063 696.5H1068M1063 694.5H1068M1064 692.5H1067M1072 698.5H1079M1073 696.5H1078M1073 694.5H1078M1074 692.5H1077M1082 698.5H1089M1083 696.5H1088M1083 694.5H1088M1084 692.5H1087M1092 698.5H1099M1093 696.5H1098M1093 694.5H1098M1094 692.5H1097M1052.5 672V679M1054.5 673V678M1056.5 673V678M1058.5 674V677M1052.5 682V689M1054.5 683V688M1056.5 683V688M1058.5 684V687M1032 668.5H1039M1033 666.5H1038M1033 664.5H1038M1034 662.5H1037M1042 668.5H1049M1043 666.5H1048M1043 664.5H1048M1044 662.5H1047M1022.5 622V629M1024.5 623V628M1026.5 623V628M1028.5 624V627M1022.5 632V639M1024.5 633V638M1026.5 633V638M1028.5 634V637M1022.5 642V649M1024.5 643V648M1026.5 643V648M1028.5 644V647M1022.5 652V659M1024.5 653V658M1026.5 653V658M1028.5 654V657" stroke="#000" stroke-width="1"/>
<path d="M150 140.5H160" stroke="#000" stroke-width="1" stroke-dasharray="1 1"/>
<path d="M150 150.5H160" stroke="#000" stroke-width="1" stroke-dasharray="1 1"/>
<path d="M491 140.5H501" stroke="#000" stroke-width="1" stroke-dasharray="1 1"/>
<path d="M491 150.5H501" stroke="#000" stroke-width="1" stroke-dasharray="1 1"/>
<path d="M150 380.5H160" stroke="#000" stroke-width="1" stroke-dasharray="1 1"/>
<path d="M150 390.5H160" stroke="#000" stroke-width="1" stroke-dasharray="1 1"/>
<path d="M491 380.5H501" stroke="#000" stroke-width="1" stroke-dasharray="1 1"/>
<path d="M491 390.5H501" stroke="#000" stroke-width="1" stroke-dasharray="1 1"/>
<path d="M221.5 172V209M223.5 173.04V207.96M225.5 174.07V206.93M227.5 175.11V205.89M229.5 176.14V204.86M231.5 177.18V203.82M233.5 178.21V202.79M235.5 179.25V201.75M237.5 180.29V200.71M239.5 181.32V199.68M241.5 182.36V198.64M243.5 183.39V197.61M245.5 184.43V196.57M247.5 185.46V195.54M249.5 186.5V194.5" stroke="#000" stroke-width="1"/>
<path d="M430.5 172V209M428.5 173.04V207.96M426.5 174.07V206.93M424.5 175.11V205.89M422.5 176.14V204.86M420.5 177.18V203.82M418.5 178.21V202.79M416.5 179.25V201.75M414.5 180.29V200.71M412.5 181.32V199.68M410.5 182.36V198.64M408.5 183.39V197.61M406.5 184.43V196.57M404.5 185.46V195.54M402.5 186.5V194.5" stroke="#000" stroke-width="1"/>
<path d="M430.5 322V359M428.5 323.04V357.96M426.5 324.07V356.93M424.5 325.11V355.89M422.5 326.14V354.86M420.5 327.18V353.82M418.5 328.21V352.79M416.5 329.25V351.75M414.5 330.29V350.71M412.5 331.32V349.68M410.5 332.36V348.64M408.5 333.39V347.61M406.5 334.43V346.57M404.5 335.46V345.54M402.5 336.5V344.5" stroke="#000" stroke-width="1"/>
<path d="M221.5 322.5V338.5M223.5 322.79V338.21M225.5 323.07V337.93M227.5 323.36V337.64M229.5 323.64V337.36M231.5 323.93V337.07M233.5 324.21V336.79M235.5 324.5V336.5M237.5 324.79V336.21M239.5 325.07V335.93M241.5 325.36V335.64M243.5 325.64V335.36M245.5 325.93V335.07M247.5 326.21V334.79M249.5 326.5V334.5" stroke="#000" stroke-width="1"/>
<path d="M321 312.5H330 M324.5 311V314 M326.5 311V314" stroke="#000" stroke-width="1"/>
<path d="M324 282.5H327M324 284.5H327M323.5 286.5H327.5M323.5 288.5H327.5M323.5 290.5H327.5M323 292.5H328M323 294.5H328M323 296.5H328M323 298.5H328M322.5 300.5H328.5M322.5 302.5H328.5M322.5 304.5H328.5M322 306.5H329M322 308.5H329" stroke="#000" stroke-width="1"/>
<path d="M290.5 161V171" stroke="#000" stroke-width="1" stroke-dasharray="1 1"/>
<path d="M300.5 161V171" stroke="#000" stroke-width="1" stroke-dasharray="1 1"/>
<path d="M350.5 161V171" stroke="#000" stroke-width="1" stroke-dasharray="1 1"/>
<path d="M360.5 161V171" stroke="#000" stroke-width="1" stroke-dasharray="1 1"/>
<path d="M290.5 360V370" stroke="#000" stroke-width="1" stroke-dasharray="1 1"/>
<path d="M300.5 360V370" stroke="#000" stroke-width="1" stroke-dasharray="1 1"/>
<path d="M350.5 360V370" stroke="#000" stroke-width="1" stroke-dasharray="1 1"/>
<path d="M360.5 360V370" stroke="#000" stroke-width="1" stroke-dasharray="1 1"/>
<path d="M191 170.5H201" stroke="#000" stroke-width="1" stroke-dasharray="1 1"/>
<path d="M191 180.5H201" stroke="#000" stroke-width="1" stroke-dasharray="1 1"/>
<path d="M450 170.5H460" stroke="#000" stroke-width="1" stroke-dasharray="1 1"/>
<path d="M450 180.5H460" stroke="#000" stroke-width="1" stroke-dasharray="1 1"/>
<path d="M191 350.5H201" stroke="#000" stroke-width="1" stroke-dasharray="1 1"/>
<path d="M191 360.5H201" stroke="#000" stroke-width="1" stroke-dasharray="1 1"/>
<path d="M450 350.5H460" stroke="#000" stroke-width="1" stroke-dasharray="1 1"/>
<path d="M450 360.5H460" stroke="#000" stroke-width="1" stroke-dasharray="1 1"/>
<path d="M321 100.5H330" stroke="#000" stroke-width="1" stroke-dasharray="1 1"/>
<path d="M290.5 156L290.5 161" stroke="#000" stroke-width="1" />
<path d="M290.5 370L290.5 377" stroke="#000" stroke-width="1" />
<path d="M300.5 156L300.5 161" stroke="#000" stroke-width="1" />
<path d="M300.5 370L300.5 377" stroke="#000" stroke-width="1" />
<path d="M350.5 156L350.5 161" stroke="#000" stroke-width="1" />
<path d="M350.5 370L350.5 377" stroke="#000" stroke-width="1" />
<path d="M360.5 156L360.5 161" stroke="#000" stroke-width="1" />
<path d="M360.5 370L360.5 377" stroke="#000" stroke-width="1" />
<path d="M252.5 234V237M254.5 233.5V237.5M256.5 233.5V237.5M258.5 233.5V237.5M260.5 233V238M262.5 232.5V238.5M264.5 232.5V238.5M266.5 232.5V238.5M268.5 232V239M270.5 231.5V239.5M272.5 231.5V239.5" stroke="#000" stroke-width="1"/>
<path d="M100.5 264V267M102.5 264V267M104.5 264V267M106.5 264V267M108.5 264V267M110.5 264V267M112.5 263.5V267.5M114.5 263.5V267.5M116.5 263.5V267.5M118.5 263.5V267.5M120.5 263.5V267.5M122.5 263.5V267.5M124.5 263.5V267.5M126.5 263.5V267.5M128.5 263.5V267.5M130.5 263.5V267.5M132.5 263.5V267.5M134.5 263.5V267.5M136.5 263.5V267.5M138.5 263V268M140.5 263V268M142.5 263V268M144.5 263V268M146.5 263V268M148.5 263V268M150.5 263V268M152.5 263V268M154.5 263V268M156.5 263V268M158.5 263V268M160.5 262.5V268.5M162.5 262.5V268.5M164.5 262.5V268.5M166.5 262.5V268.5M168.5 262.5V268.5M170.5 262.5V268.5M172.5 262.5V268.5M174.5 262.5V268.5M176.5 262.5V268.5M178.5 262.5V268.5M180.5 262.5V268.5M182.5 262.5V268.5M184.5 262.5V268.5M186.5 262V269M188.5 262V269M190.5 262V269M192.5 262V269M194.5 262V269M196.5 262V269M198.5 262V269M200.5 262V269M202.5 262V269M204.5 262V269M206.5 262V269M208.5 261.5V269.5M210.5 261.5V269.5M212.5 261.5V269.5M214.5 261.5V269.5M216.5 261.5V269.5M218.5 261.5V269.5M220.5 261.5V269.5" stroke="#000" stroke-width="1"/>
<path d="M21 220.5H30 M24.5 219V222 M26.5 219V222" stroke="#000" stroke-width="1"/>
<path d="M21 280.5H30 M24.5 279V282 M26.5 279V282" stroke="#000" stroke-width="1"/>
<path d="M40.5 231V240" stroke="#000" stroke-width="1" stroke-dasharray="1 1"/>
<path d="M40.5 291V300" stroke="#000" stroke-width="1" stroke-dasharray="1 1"/>
<path d="M101.5 174V177M103.5 174V177M105.5 173.5V177.5M107.5 173.5V177.5M109.5 173.5V177.5M111.5 173.5V177.5M113.5 173V178M115.5 173V178M117.5 173V178M119.5 172.5V178.5M121.5 172.5V178.5M123.5 172.5V178.5M125.5 172.5V178.5M127.5 172V179M129.5 172V179" stroke="#000" stroke-width="1"/>
<path d="M111 510.5H120 M114.5 509V512 M116.5 509V512" stroke="#000" stroke-width="1"/>
<path d="M140.5 511V521" stroke="#000" stroke-width="1" stroke-dasharray="1 1"/>
<path d="M150.5 511V521" stroke="#000" stroke-width="1" stroke-dasharray="1 1"/>
<path d="M324 440.5H327M324 438.5H327M323.5 436.5H327.5M323.5 434.5H327.5M323.5 432.5H327.5M323.5 430.5H327.5M323 428.5H328M323 426.5H328M323 424.5H328M322.5 422.5H328.5M322.5 420.5H328.5M322.5 418.5H328.5M322.5 416.5H328.5M322 414.5H329M322 412.5H329" stroke="#000" stroke-width="1"/>
<path d="M324 590.5H327M324 592.5H327M323.5 594.5H327.5M323.5 596.5H327.5M323.5 598.5H327.5M323.5 600.5H327.5M323 602.5H328M323 604.5H328M323 606.5H328M323 608.5H328M322.5 610.5H328.5M322.5 612.5H328.5M322.5 614.5H328.5M322.5 616.5H328.5M322 618.5H329M322 620.5H329" stroke="#000" stroke-width="1"/>
<path d="M320.5 471V481" stroke="#000" stroke-width="1" stroke-dasharray="1 1"/>
<path d="M330.5 471V481" stroke="#000" stroke-width="1" stroke-dasharray="1 1"/>
<path d="M320.5 550V560" stroke="#000" stroke-width="1" stroke-dasharray="1 1"/>
<path d="M330.5 550V560" stroke="#000" stroke-width="1" stroke-dasharray="1 1"/>
<path d="M321 500.5H330M322 502.5H329M323 504.5H328M324 506.5H327M325 508.5H326" stroke="#000" stroke-width="1"/>
<path d="M321 500V504 M330 500V504" stroke="#000" stroke-width="1"/>
<path d="M322.5 510.5H328.5M322.5 512.5H328.5M322.5 514.5H328.5M322.5 516.5H328.5M322.5 518.5H328.5M322.5 520.5H328.5M322.5 522.5H328.5M322.5 524.5H328.5M322.5 526.5H328.5M322.5 528.5H328.5 M321 506V530 M330 506V530" stroke="#BBB" stroke-width="1"/>
<path d="M659.5 202.5V238.5M657.5 203.71V237.29M655.5 204.93V236.07M653.5 206.14V234.86M651.5 207.36V233.64M649.5 208.57V232.43M647.5 209.79V231.21M645.5 211V230M643.5 212.21V228.79M641.5 213.43V227.57M639.5 214.64V226.36M637.5 215.86V225.14M635.5 217.07V223.93M633.5 218.29V222.71M631.5 219.5V221.5" stroke="#000" stroke-width="1"/>
<path d="M611 311.5H620M612 313.5H619M613 315.5H618M614 317.5H617M615 319.5H616" stroke="#000" stroke-width="1"/>
<path d="M611 311V315 M620 311V315" stroke="#000" stroke-width="1"/>
<path d="M612.5 321.5H618.5M612.5 323.5H618.5M612.5 325.5H618.5M612.5 327.5H618.5M612.5 329.5H618.5M612.5 331.5H618.5M612.5 333.5H618.5M612.5 335.5H618.5M612.5 337.5H618.5M612.5 339.5H618.5 M611 317V340 M620 317V340" stroke="#BBB" stroke-width="1"/>
<path d="M760.5 240V250" stroke="#000" stroke-width="1" stroke-dasharray="1 1"/>
<path d="M770.5 240V250" stroke="#000" stroke-width="1" stroke-dasharray="1 1"/>
<path d="M662.5 324V327M664.5 324V327M666.5 323.5V327.5M668.5 323.5V327.5M670.5 323.5V327.5M672.5 323.5V327.5M674.5 323V328M676.5 323V328M678.5 323V328M680.5 322.5V328.5M682.5 322.5V328.5M684.5 322.5V328.5M686.5 322.5V328.5M688.5 322V329M690.5 322V329" stroke="#000" stroke-width="1"/>
<path d="M720.5 351V360 M719 354.5H722 M719 356.5H722" stroke="#000" stroke-width="1"/>
<path d="M810.5 351V360 M809 354.5H812 M809 356.5H812" stroke="#000" stroke-width="1"/>
<path d="M711 260.5H720" stroke="#000" stroke-width="1" stroke-dasharray="1 1"/>
<path d="M711 270.5H720" stroke="#000" stroke-width="1" stroke-dasharray="1 1"/>
<path d="M651 320.5H660" stroke="#000" stroke-width="1" stroke-dasharray="1 1"/>
<path d="M651 330.5H660" stroke="#000" stroke-width="1" stroke-dasharray="1 1"/>
<path d="M721 350.5H731" stroke="#000" stroke-width="1" stroke-dasharray="1 1"/>
<path d="M721 360.5H731" stroke="#000" stroke-width="1" stroke-dasharray="1 1"/>
<path d="M824 192.5H827M824 194.5H827M823.5 196.5H827.5M823.5 198.5H827.5M823.5 200.5H827.5M823 202.5H828M823 204.5H828M823 206.5H828M822.5 208.5H828.5M822.5 210.5H828.5M822.5 212.5H828.5M822 214.5H829M822 216.5H829" stroke="#000" stroke-width="1"/>
<path d="M958.5 384V387M956.5 384V387M954.5 383.5V387.5M952.5 383.5V387.5M950.5 383.5V387.5M948.5 383.5V387.5M946.5 383V388M944.5 383V388M942.5 383V388M940.5 382.5V388.5M938.5 382.5V388.5M936.5 382.5V388.5M934.5 382.5V388.5M932.5 382V389M930.5 382V389" stroke="#000" stroke-width="1"/>
<path d="M911 311.5H920 M914.5 310V313 M916.5 310V313" stroke="#000" stroke-width="1"/>
<path d="M1020.5 381V390 M1019 384.5H1022 M1019 386.5H1022" stroke="#000" stroke-width="1"/>
<path d="M1079.5 264V267M1077.5 264V267M1075.5 263.5V267.5M1073.5 263.5V267.5M1071.5 263.5V267.5M1069.5 263.5V267.5M1067.5 263V268M1065.5 263V268M1063.5 263V268M1061.5 262.5V268.5M1059.5 262.5V268.5M1057.5 262.5V268.5M1055.5 262.5V268.5M1053.5 262V269M1051.5 262V269" stroke="#000" stroke-width="1"/>
<path d="M1048.5 414V417M1046.5 414V417M1044.5 413.5V417.5M1042.5 413.5V417.5M1040.5 413.5V417.5M1038.5 413.5V417.5M1036.5 413V418M1034.5 413V418M1032.5 413V418M1030.5 412.5V418.5M1028.5 412.5V418.5M1026.5 412.5V418.5M1024.5 412.5V418.5M1022.5 412V419M1020.5 412V419" stroke="#000" stroke-width="1"/>
<path d="M1064 368.5H1067M1064 366.5H1067M1063.5 364.5H1067.5M1063.5 362.5H1067.5M1063.5 360.5H1067.5M1063 358.5H1068M1063 356.5H1068M1063 354.5H1068M1063 352.5H1068M1062.5 350.5H1068.5M1062.5 348.5H1068.5M1062.5 346.5H1068.5M1062 344.5H1069M1062 342.5H1069" stroke="#000" stroke-width="1"/>
<path d="M1020.5 321V330 M1019 324.5H1022 M1019 326.5H1022" stroke="#000" stroke-width="1"/>
<path d="M1004 216.5H1007M1004 214.5H1007M1003.5 212.5H1007.5M1003.5 210.5H1007.5M1003.5 208.5H1007.5M1003 206.5H1008M1003 204.5H1008M1003 202.5H1008M1003 200.5H1008M1002.5 198.5H1008.5M1002.5 196.5H1008.5M1002.5 194.5H1008.5M1002 192.5H1009M1002 190.5H1009" stroke="#000" stroke-width="1"/>
<path d="M1004 282.5H1007M1004 280.5H1007M1003.5 278.5H1007.5M1003.5 276.5H1007.5M1003.5 274.5H1007.5M1003 272.5H1008M1003 270.5H1008M1003 268.5H1008M1002.5 266.5H1008.5M1002.5 264.5H1008.5M1002.5 262.5H1008.5M1002 260.5H1009M1002 258.5H1009" stroke="#000" stroke-width="1"/>
<path d="M1034 248.5H1037M1034 246.5H1037M1033.5 244.5H1037.5M1033.5 242.5H1037.5M1033.5 240.5H1037.5M1033.5 238.5H1037.5M1033 236.5H1038M1033 234.5H1038M1033 232.5H1038M1032.5 230.5H1038.5M1032.5 228.5H1038.5M1032.5 226.5H1038.5M1032.5 224.5H1038.5M1032 222.5H1039M1032 220.5H1039" stroke="#000" stroke-width="1"/>
<path d="M1001 284.5H1010 M1004.5 283V286 M1006.5 283V286" stroke="#000" stroke-width="1"/>
<path d="M1001 100.5H1010 M1004.5 99V102 M1006.5 99V102" stroke="#000" stroke-width="1"/>
<path d="M1001 251H1011M1001 253H1011M1001 255H1011M1001 257H1011" stroke="#C8C0B0" stroke-width="1"/>
<path d="M990.5 81V90 M989 84.5H992 M989 86.5H992" stroke="#000" stroke-width="1"/>
<path d="M971 100.5H981" stroke="#000" stroke-width="1" stroke-dasharray="1 1"/>
<path d="M990.5 110V121" stroke="#000" stroke-width="1" stroke-dasharray="1 1"/>
<path d="M941 251.5H950 M944.5 250V253 M946.5 250V253" stroke="#000" stroke-width="1"/>
<path d="M930.5 261V270 M929 264.5H932 M929 266.5H932" stroke="#000" stroke-width="1"/>
<path d="M944 166.5H947M944 168.5H947M943.5 170.5H947.5M943.5 172.5H947.5M943.5 174.5H947.5M943 176.5H948M943 178.5H948M943 180.5H948M943 182.5H948M942.5 184.5H948.5M942.5 186.5H948.5M942.5 188.5H948.5M942 190.5H949M942 192.5H949" stroke="#000" stroke-width="1"/>
<path d="M590.5 401V410 M589 404.5H592 M589 406.5H592" stroke="#000" stroke-width="1"/>
<path d="M574 448.5H577M574 446.5H577M573.5 444.5H577.5M573.5 442.5H577.5M573.5 440.5H577.5M573 438.5H578M573 436.5H578M573 434.5H578M573 432.5H578M572.5 430.5H578.5M572.5 428.5H578.5M572.5 426.5H578.5M572 424.5H579M572 422.5H579" stroke="#000" stroke-width="1"/>
<path d="M600.5 421V431" stroke="#000" stroke-width="1" stroke-dasharray="1 1"/>
<path d="M610.5 421V431" stroke="#000" stroke-width="1" stroke-dasharray="1 1"/>
<path d="M570.5 451V461" stroke="#000" stroke-width="1" stroke-dasharray="1 1"/>
<path d="M580.5 451V461" stroke="#000" stroke-width="1" stroke-dasharray="1 1"/>
<path d="M540.5 500V510" stroke="#000" stroke-width="1" stroke-dasharray="1 1"/>
<path d="M550.5 500V510" stroke="#000" stroke-width="1" stroke-dasharray="1 1"/>
<path d="M541 510.5H550 M544.5 509V512 M546.5 509V512" stroke="#000" stroke-width="1"/>
<path d="M661 691.5H670 M664.5 690V693 M666.5 690V693" stroke="#000" stroke-width="1"/>
<path d="M631 629.5H640 M634.5 628V631 M636.5 628V631" stroke="#000" stroke-width="1"/>
<path d="M580 640.5H590" stroke="#000" stroke-width="1" stroke-dasharray="1 1"/>
<path d="M580 650.5H590" stroke="#000" stroke-width="1" stroke-dasharray="1 1"/>
<path d="M580 670.5H590" stroke="#000" stroke-width="1" stroke-dasharray="1 1"/>
<path d="M580 680.5H590" stroke="#000" stroke-width="1" stroke-dasharray="1 1"/>
<path d="M580 700.5H590" stroke="#000" stroke-width="1" stroke-dasharray="1 1"/>
<path d="M580 710.5H590" stroke="#000" stroke-width="1" stroke-dasharray="1 1"/>
<path d="M530.5 671V680M532.5 672V679M534.5 673V678M536.5 674V677M538.5 675V676" stroke="#000" stroke-width="1"/>
<path d="M530 671H534 M530 680H534" stroke="#000" stroke-width="1"/>
<path d="M540.5 672.5V678.5M542.5 672.5V678.5M544.5 672.5V678.5M546.5 672.5V678.5M548.5 672.5V678.5M550.5 672.5V678.5M552.5 672.5V678.5M554.5 672.5V678.5M556.5 672.5V678.5M558.5 672.5V678.5 M536 671H560 M536 680H560" stroke="#BBB" stroke-width="1"/>
<path d="M692.5 511.5H728.5M693.57 513.5H727.43M694.64 515.5H726.36M695.71 517.5H725.29M696.79 519.5H724.21M697.86 521.5H723.14M698.93 523.5H722.07M700 525.5H721M701.07 527.5H719.93M702.14 529.5H718.86M703.21 531.5H717.79M704.29 533.5H716.71M705.36 535.5H715.64M706.43 537.5H714.57M707.5 539.5H713.5" stroke="#000" stroke-width="1"/>
<path d="M692.5 571.5H728.5M693.57 573.5H727.43M694.64 575.5H726.36M695.71 577.5H725.29M696.79 579.5H724.21M697.86 581.5H723.14M698.93 583.5H722.07M700 585.5H721M701.07 587.5H719.93M702.14 589.5H718.86M703.21 591.5H717.79M704.29 593.5H716.71M705.36 595.5H715.64M706.43 597.5H714.57M707.5 599.5H713.5" stroke="#000" stroke-width="1"/>
<path d="M690.5 481V491" stroke="#000" stroke-width="1" stroke-dasharray="1 1"/>
<path d="M700.5 481V491" stroke="#000" stroke-width="1" stroke-dasharray="1 1"/>
<path d="M681 550.5H691" stroke="#000" stroke-width="1" stroke-dasharray="1 1"/>
<path d="M681 560.5H691" stroke="#000" stroke-width="1" stroke-dasharray="1 1"/>
<path d="M630.5 631V641" stroke="#000" stroke-width="1" stroke-dasharray="1 1"/>
<path d="M640.5 631V641" stroke="#000" stroke-width="1" stroke-dasharray="1 1"/>
<path d="M660.5 680V690" stroke="#000" stroke-width="1" stroke-dasharray="1 1"/>
<path d="M670.5 680V690" stroke="#000" stroke-width="1" stroke-dasharray="1 1"/>
<path d="M790.5 674V677M788.5 674V677M786.5 674V677M784.5 673.5V677.5M782.5 673.5V677.5M780.5 673.5V677.5M778.5 673.5V677.5M776.5 673.5V677.5M774.5 673V678M772.5 673V678M770.5 673V678M768.5 673V678M766.5 673V678M764.5 672.5V678.5M762.5 672.5V678.5M760.5 672.5V678.5M758.5 672.5V678.5M756.5 672.5V678.5M754.5 672V679M752.5 672V679M750.5 672V679M748.5 672V679M746.5 672V679M744.5 671.5V679.5M742.5 671.5V679.5M740.5 671.5V679.5" stroke="#000" stroke-width="1"/>
<path d="M731.5 671V680M733.5 671V680M735.5 671V680M737.5 671V680" stroke="#C8C0B0" stroke-width="1"/>
<path d="M791 670.5H801" stroke="#000" stroke-width="1" stroke-dasharray="1 1"/>
<path d="M791 680.5H801" stroke="#000" stroke-width="1" stroke-dasharray="1 1"/>
<path d="M861 730.5H870M862 728.5H869M863 726.5H868M864 724.5H867M865 722.5H866" stroke="#000" stroke-width="1"/>
<path d="M861 731V726 M870 731V726" stroke="#000" stroke-width="1"/>
<path d="M862.5 700.5H868.5M862.5 702.5H868.5M862.5 704.5H868.5M862.5 706.5H868.5M862.5 708.5H868.5M862.5 710.5H868.5M862.5 712.5H868.5M862.5 714.5H868.5M862.5 716.5H868.5M862.5 718.5H868.5M862.5 720.5H868.5 M861 724V700 M870 724V700" stroke="#D8C8B0" stroke-width="1"/>
<path d="M861 561.5H870 M864.5 560V563 M866.5 560V563" stroke="#000" stroke-width="1"/>
<path d="M864 610.5H867M864 608.5H867M863.5 606.5H867.5M863.5 604.5H867.5M863.5 602.5H867.5M863 600.5H868M863 598.5H868M863 596.5H868M863 594.5H868M862.5 592.5H868.5M862.5 590.5H868.5M862.5 588.5H868.5M862 586.5H869M862 584.5H869" stroke="#000" stroke-width="1"/>
<path d="M861 613H871M861 615H871M861 617H871M861 619H871" stroke="#E8C8A0" stroke-width="1"/>
<path d="M834 440.5H837M834 438.5H837M833.5 436.5H837.5M833.5 434.5H837.5M833.5 432.5H837.5M833 430.5H838M833 428.5H838M833 426.5H838M832.5 424.5H838.5M832.5 422.5H838.5M832.5 420.5H838.5M832 418.5H839M832 416.5H839" stroke="#000" stroke-width="1"/>
<path d="M831 411H841M831 413H841M831 415H841" stroke="#C8C0B0" stroke-width="1"/>
<path d="M801 470.5H810 M804.5 469V472 M806.5 469V472" stroke="#000" stroke-width="1"/>
<path d="M800.5 471V481" stroke="#000" stroke-width="1" stroke-dasharray="1 1"/>
<path d="M810.5 471V481" stroke="#000" stroke-width="1" stroke-dasharray="1 1"/>
<path d="M940.5 461V471" stroke="#000" stroke-width="1" stroke-dasharray="1 1"/>
<path d="M950.5 461V471" stroke="#000" stroke-width="1" stroke-dasharray="1 1"/>
<path d="M970.5 461V471" stroke="#000" stroke-width="1" stroke-dasharray="1 1"/>
<path d="M980.5 461V471" stroke="#000" stroke-width="1" stroke-dasharray="1 1"/>
<path d="M1030.5 611V621" stroke="#000" stroke-width="1" stroke-dasharray="1 1"/>
<path d="M1040.5 611V621" stroke="#000" stroke-width="1" stroke-dasharray="1 1"/>
<path d="M310.5 111V121" stroke="#000" stroke-width="1" stroke-dasharray="1 1"/>
</g>
<path d="M104 109L109 104M106 110L110 106M108 111L111 108M157 109L152 104M155 110L151 106M153 111L150 108M104 152L109 157M106 151L110 155M108 150L111 153M157 152L152 157M155 151L151 155M153 150L150 153M494 109L499 104M496 110L500 106M498 111L501 108M547 109L542 104M545 110L541 106M543 111L540 108M494 152L499 157M496 151L500 155M498 150L501 153M547 152L542 157M545 151L541 155M543 150L540 153M104 379L109 374M106 380L110 376M108 381L111 378M157 379L152 374M155 380L151 376M153 381L150 378M104 422L109 427M106 421L110 425M108 420L111 423M157 422L152 427M155 421L151 425M153 420L150 423M494 379L499 374M496 380L500 376M498 381L501 378M547 379L542 374M545 380L541 376M543 381L540 378M494 422L499 427M496 421L500 425M498 420L501 423M547 422L542 427M545 421L541 425M543 420L540 423M194 169L199 164M196 170L200 166M198 171L201 168M307 169L302 164M305 170L301 166M303 171L300 168M194 212L199 217M196 211L200 215M198 210L201 213M307 212L302 217M305 211L301 215M303 210L300 213M344 169L349 164M346 170L350 166M348 171L351 168M457 169L452 164M455 170L451 166M453 171L450 168M344 212L349 217M346 211L350 215M348 210L351 213M457 212L452 217M455 211L451 215M453 210L450 213M194 319L199 314M196 320L200 316M198 321L201 318M307 319L302 314M305 320L301 316M303 321L300 318M194 362L199 367M196 361L200 365M198 360L201 363M307 362L302 367M305 361L301 365M303 360L300 363M344 319L349 314M346 320L350 316M348 321L351 318M457 319L452 314M455 320L451 316M453 321L450 318M344 362L349 367M346 361L350 365M348 360L351 363M457 362L452 367M455 361L451 365M453 360L450 363M134 519L139 514M136 520L140 516M138 521L141 518M187 519L182 514M185 520L181 516M183 521L180 518M187 592L182 597M185 591L181 595M183 590L180 593M157 592L152 597M155 591L151 595M153 590L150 593M157 622L152 627M155 621L151 625M153 620L150 623M104 622L109 627M106 621L110 625M108 620L111 623M104 549L109 544M106 550L110 546M108 551L111 548M134 549L139 544M136 550L140 546M138 551L141 548M284 479L289 474M286 480L290 476M288 481L291 478M367 479L362 474M365 480L361 476M363 481L360 478M284 552L289 557M286 551L290 555M288 550L291 553M367 552L362 557M365 551L361 555M363 550L360 553M574 199L579 194M576 200L580 196M578 201L581 198M687 199L682 194M685 200L681 196M683 201L680 198M717 229L712 224M715 230L711 226M713 231L710 228M717 272L712 277M715 271L711 275M713 270L710 273M664 272L669 277M666 271L670 275M668 270L671 273M657 289L652 284M655 290L651 286M653 291L650 288M657 362L652 367M655 361L651 365M653 360L650 363M574 362L579 367M576 361L580 365M578 360L581 363M544 302L549 307M546 301L550 305M548 300L551 303M544 229L549 224M546 230L550 226M548 231L551 228M754 169L759 164M756 170L760 166M758 171L761 168M807 169L802 164M805 170L801 166M803 171L800 168M807 242L802 247M805 241L801 245M803 240L800 243M724 242L729 247M726 241L730 245M728 240L731 243M724 199L729 194M726 200L730 196M728 201L731 198M724 319L729 314M726 320L730 316M728 321L731 318M777 319L772 314M775 320L771 316M773 321L770 318M807 349L802 344M805 350L801 346M803 351L800 348M807 392L802 397M805 391L801 395M803 390L800 393M754 392L759 397M756 391L760 395M758 390L761 393M724 362L729 367M726 361L730 365M728 360L731 363M594 429L599 424M596 430L600 426M598 431L601 428M647 429L642 424M645 430L641 426M643 431L640 428M594 472L599 477M596 471L600 475M598 470L601 473M647 472L642 477M645 471L641 475M643 470L640 473M534 459L539 454M536 460L540 456M538 461L541 458M587 459L582 454M585 460L581 456M583 461L580 458M534 502L539 507M536 501L540 505M538 500L541 503M587 502L582 507M585 501L581 505M583 500L580 503M613 444.5L614.5 443M613.5 446.5L616.5 443.5M614.5 448.5L618.5 444.5M613 456.5L614.5 458M613.5 454.5L616.5 457.5M614.5 452.5L618.5 456.5M628 444.5L626.5 443M627.5 446.5L624.5 443.5M626.5 448.5L622.5 444.5M628 456.5L626.5 458M627.5 454.5L624.5 457.5M626.5 452.5L622.5 456.5M504 639L509 634M506 640L510 636M508 641L511 638M587 639L582 634M585 640L581 636M583 641L580 638M504 712L509 717M506 711L510 715M508 710L511 713M587 712L582 717M585 711L581 715M583 710L580 713M684 489L689 484M686 490L690 486M688 491L691 488M737 489L732 484M735 490L731 486M733 491L730 488M737 652L732 657M735 651L731 655M733 650L730 653M707 652L702 657M705 651L701 655M703 650L700 653M707 682L702 687M705 681L701 685M703 680L700 683M624 682L629 687M626 681L630 685M628 680L631 683M624 639L629 634M626 640L630 636M628 641L631 638M684 639L689 634M686 640L690 636M688 641L691 638M643 654.5L644.5 653M643.5 656.5L646.5 653.5M644.5 658.5L648.5 654.5M643 666.5L644.5 668M643.5 664.5L646.5 667.5M644.5 662.5L648.5 666.5M658 654.5L656.5 653M657.5 656.5L654.5 653.5M656.5 658.5L652.5 654.5M658 666.5L656.5 668M657.5 664.5L654.5 667.5M656.5 662.5L652.5 666.5M824 639L829 634M826 640L830 636M828 641L831 638M877 639L872 634M875 640L871 636M873 641L870 638M907 669L902 664M905 670L901 666M903 671L900 668M907 742L902 747M905 741L901 745M903 740L900 743M877 772L872 777M875 771L871 775M873 770L870 773M824 772L829 777M826 771L830 775M828 770L831 773M794 742L799 747M796 741L800 745M798 740L801 743M794 669L799 664M796 670L800 666M798 671L801 668M764 479L769 474M766 480L770 476M768 481L771 478M817 479L812 474M815 480L811 476M813 481L810 478M764 522L769 527M766 521L770 525M768 520L771 523M817 522L812 527M815 521L811 525M813 520L810 523M904 469L909 464M906 470L910 466M908 471L911 468M987 469L982 464M985 470L981 466M983 471L980 468M987 512L982 517M985 511L981 515M983 510L980 513M957 542L952 547M955 541L951 545M953 540L950 543M904 542L909 547M906 541L910 545M908 540L911 543M923 484.5L924.5 483M923.5 486.5L926.5 483.5M924.5 488.5L928.5 484.5M923 496.5L924.5 498M923.5 494.5L926.5 497.5M924.5 492.5L928.5 496.5M938 484.5L936.5 483M937.5 486.5L934.5 483.5M936.5 488.5L932.5 484.5M938 496.5L936.5 498M937.5 494.5L934.5 497.5M936.5 492.5L932.5 496.5M1024 619L1029 614M1026 620L1030 616M1028 621L1031 618M1107 619L1102 614M1105 620L1101 616M1103 621L1100 618M1107 692L1102 697M1105 691L1101 695M1103 690L1100 693M1054 692L1059 697M1056 691L1060 695M1058 690L1061 693M1024 662L1029 667M1026 661L1030 665M1028 660L1031 663M1073 634.5L1074.5 633M1073.5 636.5L1076.5 633.5M1074.5 638.5L1078.5 634.5M1073 646.5L1074.5 648M1073.5 644.5L1076.5 647.5M1074.5 642.5L1078.5 646.5M1088 634.5L1086.5 633M1087.5 636.5L1084.5 633.5M1086.5 638.5L1082.5 634.5M1088 646.5L1086.5 648M1087.5 644.5L1084.5 647.5M1086.5 642.5L1082.5 646.5" stroke="#000" stroke-width="1" fill="none"/>
<g><g shape-rendering="crispEdges" fill="none" stroke="#000" stroke-width="1"><path d="M0 0.5H1121M0.5 0V821M1120.5 0V821M0 60.5H1121M0 790.5H1121M0 820.5H1121"/></g>
<path d="M160.5 140.5L180.5 160.5" stroke="#000" stroke-width="1" fill="none"/>
<path d="M160.5 150.5L170.5 160.5" stroke="#000" stroke-width="1" fill="none"/>
<path d="M490.5 140.5L470.5 160.5" stroke="#000" stroke-width="1" fill="none"/>
<path d="M490.5 150.5L480.5 160.5" stroke="#000" stroke-width="1" fill="none"/>
<path d="M160.5 390.5L180.5 370.5" stroke="#000" stroke-width="1" fill="none"/>
<path d="M160.5 380.5L170.5 370.5" stroke="#000" stroke-width="1" fill="none"/>
<path d="M490.5 390.5L470.5 370.5" stroke="#000" stroke-width="1" fill="none"/>
<path d="M490.5 380.5L480.5 370.5" stroke="#000" stroke-width="1" fill="none"/>
<path d="M400.5 230.5L370.5 260.5" stroke="#000" stroke-width="1" fill="none"/>
<path d="M400.5 240.5L370.5 270.5" stroke="#000" stroke-width="1" fill="none"/>
<path d="M430.5 260.5L460.5 290.5" stroke="#000" stroke-width="1" fill="none"/>
<path d="M430.5 270.5L460.5 300.5" stroke="#000" stroke-width="1" fill="none"/>
<path d="M320.5 80L325.5 85L330.5 80" fill="#fff" stroke="none"/><path d="M320.5 80.5L325.5 85.5L330.5 80.5" fill="none" stroke="#000"/>
<path d="M320.5 140.5L325.5 145.5L330.5 140.5" fill="none" stroke="#000"/><path d="M321 140L325.5 144.5L330 140Z" fill="#fff"/>
<rect x="1001.5" y="291.5" width="8" height="8" fill="none" stroke="#1010D0" stroke-width="1" stroke-dasharray="1 1" shape-rendering="crispEdges"/>
<path d="M940.5 290.5L950.5 290.5" stroke="#000" stroke-width="1" />
<path d="M940.5 250V255.5H950.5V250" fill="none" stroke="#000" stroke-width="1"/>
<path d="M1005 325L997 350" stroke="#108010" stroke-width="1" />
<path d="M649.5 610.5L654.5 615.5L649.5 620.5" fill="#F2A233" stroke="#000" stroke-width="1"/>
<path d="M590.5 710.5H607" stroke="#000" stroke-width="1"/>
<path d="M590.5 630.5A10 10 0 0 0 600.5 640.5V630.5Z" fill="#fff"/><path d="M590.5 630.5A10 10 0 0 0 600.5 640.5" fill="none" stroke="#000"/>
<path d="M620.5 540.5L620.5 611" stroke="#000" stroke-width="1" />
<path d="M620.5 540.5H630.5V544.5A6 6 0 0 1 624.5 550.5H620.5Z" fill="#fff" stroke="#000" stroke-width="1"/>
<path d="M620.5 560.5H624.5A6 10 0 0 1 624.5 580.5H620.5Z" fill="#fff" stroke="#000" stroke-width="1"/>
<path d="M620.5 590.5H624.5A6 10 0 0 1 624.5 610.5H620.5Z" fill="#fff" stroke="#000" stroke-width="1"/>
<path d="M620.5 600.5V610.5" stroke="#000" stroke-width="1"/>
<path d="M590.5 650.5H594.5A6 10 0 0 1 594.5 670.5H590.5Z" fill="#fff" stroke="#000" stroke-width="1"/>
<path d="M590.5 680.5H594.5A6 10 0 0 1 594.5 700.5H590.5Z" fill="#fff" stroke="#000" stroke-width="1"/>
<path d="M690.5 476L690.5 481" stroke="#000" stroke-width="1" />
<path d="M700.5 476L700.5 481" stroke="#000" stroke-width="1" />
<path d="M676 550.5L681 550.5" stroke="#000" stroke-width="1" />
<path d="M676 560.5L681 560.5" stroke="#000" stroke-width="1" />
<path d="M600.5 620V640.5" stroke="#000" stroke-width="1"/>
<path d="M15.5 25L10.8 31.8H20.2Z" fill="#000"/><rect x="13.3" y="31" width="4.5" height="14.5" fill="#000"/><path d="M9 45.5H22M13.5 45V49M15.5 45V51M17.5 45V49" stroke="#000" stroke-width="1" fill="none"/>
<path d="M9.5 652.5H59" stroke="#E00000" stroke-width="1" shape-rendering="crispEdges"/>
<path d="M9.5 727.5H50" stroke="#E00000" stroke-width="1" shape-rendering="crispEdges"/>
<path d="M109.5 697.5H140.5" stroke="#E00000" stroke-width="1" shape-rendering="crispEdges"/>
<path d="M109.5 742.5H174" stroke="#E00000" stroke-width="1" shape-rendering="crispEdges"/>
<path d="M239.5 712.5H288" stroke="#E00000" stroke-width="1" shape-rendering="crispEdges"/>
<path d="M239.5 757.5H279" stroke="#E00000" stroke-width="1" shape-rendering="crispEdges"/>
<path d="M400 805.5H408M402.5 803V808M405.5 803V808" stroke="#000" stroke-width="1" fill="none" shape-rendering="crispEdges"/>
<path d="M634.5 797V805M632.5 805.5H637M633 799.5L634.5 797L636 799.5" stroke="#0808F0" stroke-width="1" fill="none"/>
<rect x="634.5" y="807.5" width="6" height="7" fill="none" stroke="#555" stroke-width="1" stroke-dasharray="1 1" shape-rendering="crispEdges"/>
<path d="M744 805.5H750M744.5 805V808 M746.5 805V807" stroke="#F00000" stroke-width="1" fill="none" shape-rendering="crispEdges"/><rect x="749" y="804" width="3" height="3" fill="#F00000"/>
<path d="M816.5 805V807M818.5 804V808M820.5 803V809M822.5 802V810M824.5 802V810" stroke="#000" stroke-width="1" fill="none" shape-rendering="crispEdges"/>
<path d="M945.5 278V286M943.5 286.5H948M944 280.5L945.5 278L947 280.5" stroke="#0808F0" stroke-width="1" fill="none"/>
<path d="M907 244.5H913M907.5 244V247 M909.5 244V246" stroke="#F00000" stroke-width="1" fill="none" shape-rendering="crispEdges"/><rect x="912" y="243" width="3" height="3" fill="#F00000"/>
<path d="M1022 336.5H1028M1022.5 336V339 M1024.5 336V338" stroke="#F00000" stroke-width="1" fill="none" shape-rendering="crispEdges"/><rect x="1027" y="335" width="3" height="3" fill="#F00000"/>
<path d="M332 305.5H338M332.5 305V308 M334.5 305V307" stroke="#F00000" stroke-width="1" fill="none" shape-rendering="crispEdges"/><rect x="337" y="304" width="3" height="3" fill="#F00000"/>
<path d="M872 565.5H878M872.5 565V568 M874.5 565V567" stroke="#F00000" stroke-width="1" fill="none" shape-rendering="crispEdges"/><rect x="877" y="564" width="3" height="3" fill="#F00000"/>
<path d="M305 103.3Q308.5 107 310.3 111M310.3 121Q308.5 125 305 128.3M995.8 103.3Q993 106.5 991.3 110M991.3 121.6Q993 125 995.8 127.4" stroke="#B0B0B0" stroke-width="1" fill="none"/>
<path d="M999.5 137H1000.5L1004.5 145.5L1000.5 154H999.5Z" fill="#fff"/><path d="M1000.5 137L1004.5 145.5L1000.5 154" fill="none" stroke="#000" stroke-width="1"/></g>
<g fill="none" shape-rendering="crispEdges" transform="translate(-1 0)"><circle cx="223.5" cy="357.5" r="3" fill="#B8B8F8" stroke="#303060" stroke-width="1"/>
<circle cx="231.5" cy="365.5" r="3" fill="#B8B8F8" stroke="#303060" stroke-width="1"/>
<rect x="87" y="176" width="5" height="5" fill="#F00000"/>
<rect x="134" y="174" width="5" height="5" fill="#F00000"/>
<rect x="104" y="204" width="5" height="5" fill="#F00000"/>
<circle cx="145.5" cy="455.5" r="2" fill="none" stroke="#F00000" stroke-width="1.3" shape-rendering="auto"/>
<circle cx="145.5" cy="465.5" r="2" fill="none" stroke="#F00000" stroke-width="1.3" shape-rendering="auto"/>
<circle cx="145.5" cy="485.5" r="2" fill="none" stroke="#F00000" stroke-width="1.3" shape-rendering="auto"/>
<circle cx="44.5" cy="495.5" r="2" fill="none" stroke="#F00000" stroke-width="1.3" shape-rendering="auto"/>
<circle cx="55.5" cy="505.5" r="2" fill="none" stroke="#F00000" stroke-width="1.3" shape-rendering="auto"/>
<circle cx="85.5" cy="525.5" r="2" fill="none" stroke="#F00000" stroke-width="1.3" shape-rendering="auto"/>
<rect x="93" y="523" width="5" height="5" fill="#F00000"/>
<rect x="158" y="546" width="5" height="5" fill="#F00000"/>
<rect x="136" y="555" width="5" height="5" fill="#F00000"/>
<rect x="170" y="556" width="5" height="5" fill="#F00000"/>
<rect x="126" y="570" width="5" height="5" fill="#F00000"/>
<rect x="166" y="576" width="5" height="5" fill="#F00000"/>
<rect x="144" y="590" width="5" height="5" fill="#F00000"/>
<rect x="123" y="596" width="5" height="5" fill="#F00000"/>
<rect x="148.5" y="570.5" width="4" height="4" fill="none" stroke="#F00000" stroke-width="1"/><rect x="150" y="572" width="1" height="1" fill="#F00000"/><rect x="149" y="573" width="1" height="1" fill="#F00000"/><rect x="151" y="571" width="1" height="1" fill="#F00000"/>
<path d="M333 395.5H336 M334.5 394V397" stroke="#F00000" stroke-width="1"/>
<path d="M344 395.5H347 M345.5 394V397" stroke="#F00000" stroke-width="1"/>
<path d="M314 495.5H317 M315.5 494V497" stroke="#F00000" stroke-width="1"/>
<path d="M344 505.5H347 M345.5 504V507" stroke="#F00000" stroke-width="1"/>
<path d="M302 515.5H305 M303.5 514V517" stroke="#F00000" stroke-width="1"/>
<path d="M344 535.5H347 M345.5 534V537" stroke="#F00000" stroke-width="1"/>
<rect x="602" y="205" width="5" height="5" fill="#F00000"/>
<rect x="666" y="205" width="5" height="5" fill="#F00000"/>
<rect x="559" y="235" width="5" height="5" fill="#F00000"/>
<rect x="591" y="232" width="5" height="5" fill="#F00000"/>
<rect x="609" y="230" width="5" height="5" fill="#F00000"/>
<rect x="667" y="233" width="5" height="5" fill="#F00000"/>
<rect x="676" y="246" width="5" height="5" fill="#F00000"/>
<circle cx="697.5" cy="238.5" r="2" fill="none" stroke="#F00000" stroke-width="1.3" shape-rendering="auto"/>
<circle cx="688.5" cy="258.5" r="2" fill="none" stroke="#F00000" stroke-width="1.3" shape-rendering="auto"/>
<circle cx="586.5" cy="295.5" r="2" fill="none" stroke="#F00000" stroke-width="1.3" shape-rendering="auto"/>
<rect x="614" y="297" width="5" height="5" fill="#F00000"/>
<rect x="594" y="313" width="5" height="5" fill="#F00000"/>
<rect x="630" y="312" width="5" height="5" fill="#F00000"/>
<rect x="587" y="332" width="5" height="5" fill="#F00000"/>
<circle cx="601.5" cy="332.5" r="2" fill="none" stroke="#F00000" stroke-width="1.3" shape-rendering="auto"/>
<rect x="640" y="340" width="5" height="5" fill="#F00000"/>
<circle cx="791.5" cy="180.5" r="2" fill="none" stroke="#F00000" stroke-width="1.3" shape-rendering="auto"/>
<circle cx="762.5" cy="196.5" r="2" fill="none" stroke="#F00000" stroke-width="1.3" shape-rendering="auto"/>
<circle cx="768.5" cy="227.5" r="2" fill="none" stroke="#F00000" stroke-width="1.3" shape-rendering="auto"/>
<rect x="744" y="232" width="5" height="5" fill="#F00000"/>
<circle cx="766.5" cy="180.5" r="3" fill="#B8B8F8" stroke="#303060" stroke-width="1"/>
<circle cx="774.5" cy="180.5" r="3" fill="#B8B8F8" stroke="#303060" stroke-width="1"/>
<circle cx="770.5" cy="177.5" r="3" fill="#B8B8F8" stroke="#303060" stroke-width="1"/>
<circle cx="770.5" cy="184.5" r="3" fill="#B8B8F8" stroke="#303060" stroke-width="1"/>
<circle cx="753.5" cy="331.5" r="2" fill="none" stroke="#F00000" stroke-width="1.3" shape-rendering="auto"/>
<rect x="739" y="333" width="5" height="5" fill="#F00000"/>
<rect x="741" y="349" width="5" height="5" fill="#F00000"/>
<rect x="768" y="347" width="5" height="5" fill="#F00000"/>
<circle cx="786.5" cy="355.5" r="2" fill="none" stroke="#F00000" stroke-width="1.3" shape-rendering="auto"/>
<rect x="793" y="354" width="5" height="5" fill="#F00000"/>
<rect x="781" y="369" width="5" height="5" fill="#F00000"/>
<rect x="768" y="382" width="5" height="5" fill="#F00000"/>
<rect x="793" y="383" width="5" height="5" fill="#F00000"/>
<circle cx="919.5" cy="322.5" r="2" fill="none" stroke="#F00000" stroke-width="1.3" shape-rendering="auto"/>
<circle cx="959.5" cy="445.5" r="2" fill="none" stroke="#F00000" stroke-width="1.3" shape-rendering="auto"/>
<rect x="983" y="443" width="5" height="5" fill="#F00000"/>
<circle cx="1065.5" cy="325.5" r="2" fill="none" stroke="#F00000" stroke-width="1.3" shape-rendering="auto"/>
<rect x="1033" y="293" width="5" height="5" fill="#F00000"/>
<circle cx="1005.5" cy="115.5" r="2" fill="none" stroke="#F00000" stroke-width="1.3" shape-rendering="auto"/>
<path d="M924 145.5H927 M925.5 144V147" stroke="#F00000" stroke-width="1"/>
<path d="M914 155.5H917 M915.5 154V157" stroke="#F00000" stroke-width="1"/>
<circle cx="606.5" cy="451.5" r="2" fill="none" stroke="#F00000" stroke-width="1.3" shape-rendering="auto"/>
<circle cx="625.5" cy="464.5" r="2" fill="none" stroke="#F00000" stroke-width="1.3" shape-rendering="auto"/>
<rect x="633" y="440" width="5" height="5" fill="#F00000"/>
<rect x="544" y="473" width="5" height="5" fill="#F00000"/>
<circle cx="564.5" cy="469.5" r="2" fill="none" stroke="#F00000" stroke-width="1.3" shape-rendering="auto"/>
<circle cx="559.5" cy="482.5" r="2" fill="none" stroke="#F00000" stroke-width="1.3" shape-rendering="auto"/>
<rect x="566" y="489" width="5" height="5" fill="#F00000"/>
<rect x="543" y="523" width="5" height="5" fill="#F00000"/>
<rect x="543" y="543" width="5" height="5" fill="#F00000"/>
<rect x="613" y="613" width="5" height="5" fill="#F00000"/>
<rect x="603" y="633" width="5" height="5" fill="#F00000"/>
<rect x="603" y="703" width="5" height="5" fill="#F00000"/>
<circle cx="639.5" cy="521.5" r="2" fill="none" stroke="#F00000" stroke-width="1.3" shape-rendering="auto"/>
<circle cx="604.5" cy="549.5" r="2" fill="none" stroke="#F00000" stroke-width="1.3" shape-rendering="auto"/>
<circle cx="564.5" cy="652.5" r="2" fill="none" stroke="#F00000" stroke-width="1.3" shape-rendering="auto"/>
<circle cx="563.5" cy="701.5" r="2" fill="none" stroke="#F00000" stroke-width="1.3" shape-rendering="auto"/>
<rect x="720" y="554" width="5" height="5" fill="#F00000"/>
<circle cx="704.5" cy="564.5" r="2" fill="none" stroke="#F00000" stroke-width="1.3" shape-rendering="auto"/>
<circle cx="726.5" cy="608.5" r="2" fill="none" stroke="#F00000" stroke-width="1.3" shape-rendering="auto"/>
<circle cx="700.5" cy="619.5" r="2" fill="none" stroke="#F00000" stroke-width="1.3" shape-rendering="auto"/>
<rect x="674" y="657" width="5" height="5" fill="#F00000"/>
<circle cx="636.5" cy="667.5" r="2" fill="none" stroke="#F00000" stroke-width="1.3" shape-rendering="auto"/>
<rect x="834" y="652" width="5" height="5" fill="#F00000"/>
<circle cx="848.5" cy="658.5" r="2" fill="none" stroke="#F00000" stroke-width="1.3" shape-rendering="auto"/>
<rect x="813" y="674" width="5" height="5" fill="#F00000"/>
<rect x="857.5" y="673.5" width="4" height="4" fill="none" stroke="#F00000" stroke-width="1"/><rect x="859" y="675" width="1" height="1" fill="#F00000"/>
<rect x="875" y="676" width="5" height="5" fill="#F00000"/>
<rect x="890" y="688" width="5" height="5" fill="#F00000"/>
<rect x="835.5" y="687.5" width="4" height="4" fill="none" stroke="#F00000" stroke-width="1"/><rect x="837" y="689" width="1" height="1" fill="#F00000"/>
<circle cx="881.5" cy="701.5" r="2" fill="none" stroke="#F00000" stroke-width="1.3" shape-rendering="auto"/>
<rect x="814.5" y="702.5" width="4" height="4" fill="none" stroke="#F00000" stroke-width="1"/><rect x="816" y="704" width="1" height="1" fill="#F00000"/>
<rect x="828" y="719" width="5" height="5" fill="#F00000"/>
<rect x="844.5" y="724.5" width="4" height="4" fill="none" stroke="#F00000" stroke-width="1"/><rect x="846" y="726" width="1" height="1" fill="#F00000"/>
<rect x="811.5" y="730.5" width="4" height="4" fill="none" stroke="#F00000" stroke-width="1"/><rect x="813" y="732" width="1" height="1" fill="#F00000"/><rect x="812" y="733" width="1" height="1" fill="#F00000"/><rect x="814" y="731" width="1" height="1" fill="#F00000"/>
<rect x="882.5" y="727.5" width="4" height="4" fill="none" stroke="#F00000" stroke-width="1"/><rect x="884" y="729" width="1" height="1" fill="#F00000"/><rect x="883" y="730" width="1" height="1" fill="#F00000"/><rect x="885" y="728" width="1" height="1" fill="#F00000"/>
<circle cx="850.5" cy="754.5" r="2" fill="none" stroke="#F00000" stroke-width="1.3" shape-rendering="auto"/>
<rect x="775" y="488" width="5" height="5" fill="#F00000"/>
<rect x="800" y="487" width="5" height="5" fill="#F00000"/>
<rect x="774" y="509" width="5" height="5" fill="#F00000"/>
<rect x="799" y="509" width="5" height="5" fill="#F00000"/>
<rect x="787.5" y="498.5" width="4" height="4" fill="none" stroke="#F00000" stroke-width="1"/><rect x="789" y="500" width="1" height="1" fill="#F00000"/><rect x="788" y="501" width="1" height="1" fill="#F00000"/><rect x="790" y="499" width="1" height="1" fill="#F00000"/>
<rect x="927" y="473" width="5" height="5" fill="#F00000"/>
<rect x="969" y="485" width="5" height="5" fill="#F00000"/>
<circle cx="915.5" cy="487.5" r="2" fill="none" stroke="#F00000" stroke-width="1.3" shape-rendering="auto"/>
<circle cx="946.5" cy="492.5" r="2" fill="none" stroke="#F00000" stroke-width="1.3" shape-rendering="auto"/>
<circle cx="933.5" cy="508.5" r="2" fill="none" stroke="#F00000" stroke-width="1.3" shape-rendering="auto"/>
<circle cx="948.5" cy="520.5" r="2" fill="none" stroke="#F00000" stroke-width="1.3" shape-rendering="auto"/>
<circle cx="918.5" cy="526.5" r="2" fill="none" stroke="#F00000" stroke-width="1.3" shape-rendering="auto"/>
<circle cx="935.5" cy="534.5" r="2" fill="none" stroke="#F00000" stroke-width="1.3" shape-rendering="auto"/>
<circle cx="995.5" cy="535.5" r="2" fill="none" stroke="#F00000" stroke-width="1.3" shape-rendering="auto"/>
<circle cx="1005.5" cy="545.5" r="2" fill="none" stroke="#F00000" stroke-width="1.3" shape-rendering="auto"/>
<circle cx="995.5" cy="595.5" r="2" fill="none" stroke="#F00000" stroke-width="1.3" shape-rendering="auto"/>
<circle cx="1005.5" cy="595.5" r="2" fill="none" stroke="#F00000" stroke-width="1.3" shape-rendering="auto"/>
<circle cx="1015.5" cy="595.5" r="2" fill="none" stroke="#F00000" stroke-width="1.3" shape-rendering="auto"/>
<circle cx="1045.5" cy="632.5" r="2" fill="none" stroke="#F00000" stroke-width="1.3" shape-rendering="auto"/>
<rect x="1063" y="634" width="5" height="5" fill="#F00000"/>
<rect x="1036" y="645" width="5" height="5" fill="#F00000"/>
<circle cx="1060.5" cy="652.5" r="2" fill="none" stroke="#F00000" stroke-width="1.3" shape-rendering="auto"/>
<circle cx="1089.5" cy="663.5" r="2" fill="none" stroke="#F00000" stroke-width="1.3" shape-rendering="auto"/>
<circle cx="1075.5" cy="676.5" r="2" fill="none" stroke="#F00000" stroke-width="1.3" shape-rendering="auto"/>
<path d="M13.5 660.5L15.5 662.5L13.5 664.5L11.5 662.5Z" fill="none" stroke="#F00000" stroke-width="1"/>
<path d="M11 677.5H16 M13.5 675V680" stroke="#F00000" stroke-width="1"/>
<rect x="11" y="689" width="6" height="6" fill="url(#chk)"/>
<rect x="11.5" y="735.5" width="4" height="4" fill="none" stroke="#F00000" stroke-width="1"/><rect x="13" y="737" width="1" height="1" fill="#F00000"/><rect x="12" y="738" width="1" height="1" fill="#F00000"/><rect x="14" y="736" width="1" height="1" fill="#F00000"/>
<rect x="11.5" y="750.5" width="4" height="4" fill="none" stroke="#F00000" stroke-width="1"/><rect x="13" y="752" width="1" height="1" fill="#F00000"/>
<rect x="11" y="765" width="5" height="5" fill="#F00000"/>
<circle cx="13.5" cy="782.5" r="2" fill="none" stroke="#F00000" stroke-width="1.3" shape-rendering="auto"/>
<path d="M112 707.5H115 M113.5 706V709" stroke="#F00000" stroke-width="1"/>
<rect x="111.5" y="750.5" width="4" height="4" fill="none" stroke="#F00000" stroke-width="1"/><rect x="113" y="752" width="1" height="1" fill="#F00000"/>
<path d="M113.5 765.5L115.5 767.5L113.5 769.5L111.5 767.5Z" fill="#F00000" stroke="#F00000" stroke-width="1"/>
<rect x="111.5" y="780.5" width="4" height="4" fill="none" stroke="#F00000" stroke-width="1"/><path d="M111.5 782.5H115.5" stroke="#F00000" stroke-width="1"/>
<rect x="241.5" y="720.5" width="4" height="4" fill="none" stroke="#F00000" stroke-width="1"/>
<path d="M241 765L246 770 M241 770L246 765" stroke="#F00000" stroke-width="1"/><rect x="242.5" y="766.5" width="2" height="2" fill="#F00000"/>
<path d="M241 782.5H246 M243.5 780V785 M241.5 780.5L245.5 784.5 M241.5 784.5L245.5 780.5" stroke="#F00000" stroke-width="1"/>
<rect x="201.5" y="173.5" width="4" height="4" fill="none" stroke="#F00000" stroke-width="1"/><path d="M201.5 175.5H205.5" stroke="#F00000" stroke-width="1"/>
<rect x="208.5" y="203.5" width="4" height="4" fill="none" stroke="#F00000" stroke-width="1"/><rect x="210" y="205" width="1" height="1" fill="#F00000"/>
<path d="M285.5 174.5L287.5 176.5L285.5 178.5L283.5 176.5Z" fill="#F00000" stroke="#F00000" stroke-width="1"/>
<path d="M295.5 193.5L297.5 195.5L295.5 197.5L293.5 195.5Z" fill="#F00000" stroke="#F00000" stroke-width="1"/>
<path d="M323 174.5H328 M325.5 172V177 M323.5 172.5L327.5 176.5 M323.5 176.5L327.5 172.5" stroke="#F00000" stroke-width="1"/>
<path d="M323 233L328 238 M323 238L328 233" stroke="#F00000" stroke-width="1"/><rect x="324.5" y="234.5" width="2" height="2" fill="#F00000"/>
<path d="M363 225.5H368 M365.5 223V228" stroke="#F00000" stroke-width="1"/>
<path d="M343 245.5H348 M345.5 243V248" stroke="#F00000" stroke-width="1"/>
<path d="M373 184.5H378 M375.5 182V187 M373.5 182.5L377.5 186.5 M373.5 186.5L377.5 182.5" stroke="#F00000" stroke-width="1"/>
<path d="M383 193L388 198 M383 198L388 193" stroke="#F00000" stroke-width="1"/><rect x="384.5" y="194.5" width="2" height="2" fill="#F00000"/>
<path d="M384 250.5H387 M385.5 249V252" stroke="#F00000" stroke-width="1"/>
<path d="M446 282.5H449 M447.5 281V284" stroke="#F00000" stroke-width="1"/>
<rect x="512.5" y="123.5" width="4" height="4" fill="none" stroke="#F00000" stroke-width="1"/>
<rect x="522.5" y="133.5" width="4" height="4" fill="none" stroke="#F00000" stroke-width="1"/>
<path d="M325.5 93.5L327.5 95.5L325.5 97.5L323.5 95.5Z" fill="none" stroke="#F00000" stroke-width="1"/>
<path d="M294 285.5H297 M295.5 284V287" stroke="#F00000" stroke-width="1"/>
<path d="M233 265.5H238 M235.5 263V268 M233.5 263.5L237.5 267.5 M233.5 267.5L237.5 263.5" stroke="#F00000" stroke-width="1"/>
<path d="M264 286.5H267 M265.5 285V288" stroke="#F00000" stroke-width="1"/>
<path d="M284 306.5H287 M285.5 305V308" stroke="#F00000" stroke-width="1"/>
<rect x="273" y="293" width="6" height="6" fill="url(#chk)"/>
<circle cx="295.5" cy="295.5" r="3" fill="#B8B8F8" stroke="#303060" stroke-width="1"/>
<rect x="253.5" y="303.5" width="4" height="4" fill="none" stroke="#F00000" stroke-width="1"/><rect x="255" y="305" width="1" height="1" fill="#F00000"/>
<path d="M324 335.5H327 M325.5 334V337" stroke="#F00000" stroke-width="1"/>
<path d="M323 346.5H328 M325.5 344V349 M323.5 344.5L327.5 348.5 M323.5 348.5L327.5 344.5" stroke="#F00000" stroke-width="1"/>
<circle cx="325.5" cy="355.5" r="3" fill="#B8B8F8" stroke="#303060" stroke-width="1"/>
<path d="M374 295.5H377 M375.5 294V297" stroke="#F00000" stroke-width="1"/>
<path d="M394 295.5H397 M395.5 294V297" stroke="#F00000" stroke-width="1"/>
<path d="M374 335.5H377 M375.5 334V337" stroke="#F00000" stroke-width="1"/>
<path d="M384 347.5H387 M385.5 346V349" stroke="#F00000" stroke-width="1"/>
<path d="M433 335.5H436 M434.5 334V337" stroke="#F00000" stroke-width="1"/>
<rect x="143.5" y="403.5" width="4" height="4" fill="none" stroke="#F00000" stroke-width="1"/>
<rect x="143.5" y="413.5" width="4" height="4" fill="none" stroke="#F00000" stroke-width="1"/></g>
<g><text x="266" y="75" font-size="11" fill="#000" font-weight="bold" textLength="119" lengthAdjust="spacing" font-family="'Liberation Sans',sans-serif"  stroke="#000" stroke-width="0.3">LVL+1,-0,-1,-2,-3,-4,-5</text>
<text x="90" y="480" font-size="11" fill="#000" font-weight="bold" textLength="30" lengthAdjust="spacing" font-family="'Liberation Sans',sans-serif"  stroke="#000" stroke-width="0.3">LVL-5</text>
<text x="252" y="460" font-size="11" fill="#000" font-weight="bold" textLength="58.5" lengthAdjust="spacing" font-family="'Liberation Sans',sans-serif"  stroke="#000" stroke-width="0.3">LVL-1,-2,-3</text>
<text x="750" y="150.5" font-size="11" fill="#000" font-weight="bold" textLength="72.5" lengthAdjust="spacing" font-family="'Liberation Sans',sans-serif"  stroke="#000" stroke-width="0.3">LVL-2,-3,-4,-5</text>
<text x="882" y="136" font-size="11" fill="#000" font-weight="bold" textLength="44" lengthAdjust="spacing" font-family="'Liberation Sans',sans-serif"  stroke="#000" stroke-width="0.3">LVL-2,-3</text>
<text x="621" y="410" font-size="11" fill="#000" font-weight="bold" textLength="72.5" lengthAdjust="spacing" font-family="'Liberation Sans',sans-serif"  stroke="#000" stroke-width="0.3">LVL-4,-5,-6,-7</text>
<text x="776" y="440" font-size="11" fill="#000" font-weight="bold" textLength="44.5" lengthAdjust="spacing" font-family="'Liberation Sans',sans-serif"  stroke="#000" stroke-width="0.3">LVL-4,-5</text>
<text x="796" y="579.5" font-size="11" fill="#000" font-weight="bold" textLength="58.5" lengthAdjust="spacing" font-family="'Liberation Sans',sans-serif"  stroke="#000" stroke-width="0.3">LVL-7,-8,-9</text>
<text x="765" y="631.5" font-size="11" fill="#000" font-weight="bold" textLength="58" lengthAdjust="spacing" font-family="'Liberation Sans',sans-serif"  stroke="#000" stroke-width="0.3">LVL-6,-7,-8</text>
<text x="1021.5" y="580" font-size="11" fill="#000" font-weight="bold" textLength="30" lengthAdjust="spacing" font-family="'Liberation Sans',sans-serif"  stroke="#000" stroke-width="0.3">LVL-3</text>
<text x="478.5" y="29" font-size="20" fill="#000" font-weight="bold" textLength="222.5" lengthAdjust="spacing" font-family="'Liberation Sans',sans-serif" stroke="#000" stroke-width="1.6">Aerlinthe Reservoir</text>
<text x="544" y="47" font-size="13.5" fill="#000" font-weight="bold" textLength="92.5" lengthAdjust="spacing" font-family="'Liberation Sans',sans-serif" stroke="#000" stroke-width="0.8">85.3N - 43.5E</text>
<text x="1028.5" y="18.6" font-size="10.7" fill="#000" font-weight="bold" textLength="78" lengthAdjust="spacing" font-family="'Liberation Sans',sans-serif"  stroke="#000" stroke-width="0.3">Designed by:</text>
<text x="1042" y="33.7" font-size="10.7" fill="#0808F0" font-weight="bold" textLength="51.5" lengthAdjust="spacing" font-family="'Liberation Sans',sans-serif"  stroke="#0808F0" stroke-width="0.3">Eskarina</text>
<text x="1025" y="48.6" font-size="10.7" fill="#000" font-weight="bold" textLength="85.5" lengthAdjust="spacing" font-family="'Liberation Sans',sans-serif"  stroke="#000" stroke-width="0.3">(Morningthaw)</text>
<text x="589.5" y="80.7" font-size="10.7" fill="#000" font-weight="bold" textLength="93" lengthAdjust="spacing" font-family="'Liberation Sans',sans-serif"  stroke="#000" stroke-width="0.3">Lvl Restriction:</text>
<text x="689" y="80.7" font-size="10.7" fill="#0808F0" font-weight="bold" textLength="20" lengthAdjust="spacing" font-family="'Liberation Sans',sans-serif"  stroke="#0808F0" stroke-width="0.3">N/A</text>
<text x="589.5" y="95.7" font-size="10.7" fill="#000" font-weight="bold" textLength="80" lengthAdjust="spacing" font-family="'Liberation Sans',sans-serif"  stroke="#000" stroke-width="0.3">Nearest town:</text>
<text x="677.5" y="95.7" font-size="10.7" fill="#0808F0" font-weight="bold" textLength="20" lengthAdjust="spacing" font-family="'Liberation Sans',sans-serif"  stroke="#0808F0" stroke-width="0.3">N/A</text>
<text x="589.5" y="110.7" font-size="10.7" fill="#000" font-weight="bold" textLength="68.5" lengthAdjust="spacing" font-family="'Liberation Sans',sans-serif"  stroke="#000" stroke-width="0.3">Nearest LS:</text>
<text x="663.7" y="110.7" font-size="10.7" fill="#0808F0" font-weight="bold" textLength="20" lengthAdjust="spacing" font-family="'Liberation Sans',sans-serif"  stroke="#0808F0" stroke-width="0.3">N/A</text>
<text x="8" y="21.8" font-size="20" font-weight="bold" font-family="'Liberation Sans',sans-serif" stroke="#000" stroke-width="1">N</text>
<text x="9.5" y="650.5" font-size="11" fill="#E00000" font-weight="bold" textLength="49.5" lengthAdjust="spacing" font-family="'Liberation Sans',sans-serif"  stroke="#E00000" stroke-width="0.3">Golems:</text>
<text x="21.5" y="666" font-size="11" fill="#E00000" font-weight="bold" textLength="53" lengthAdjust="spacing" font-family="'Liberation Sans',sans-serif"  stroke="#E00000" stroke-width="0.3">Diamond</text>
<text x="21.5" y="681" font-size="11" fill="#E00000" font-weight="bold" textLength="23" lengthAdjust="spacing" font-family="'Liberation Sans',sans-serif"  stroke="#E00000" stroke-width="0.3">Iron</text>
<text x="21.5" y="696" font-size="11" fill="#E00000" font-weight="bold" textLength="52" lengthAdjust="spacing" font-family="'Liberation Sans',sans-serif"  stroke="#E00000" stroke-width="0.3">Obsidian</text>
<text x="9.5" y="725.5" font-size="11" fill="#E00000" font-weight="bold" textLength="40.5" lengthAdjust="spacing" font-family="'Liberation Sans',sans-serif"  stroke="#E00000" stroke-width="0.3">Olthoi:</text>
<text x="21.5" y="740.5" font-size="11" fill="#E00000" font-weight="bold" textLength="32.5" lengthAdjust="spacing" font-family="'Liberation Sans',sans-serif"  stroke="#E00000" stroke-width="0.3">Noble</text>
<text x="21.5" y="755.5" font-size="11" fill="#E00000" font-weight="bold" textLength="40.5" lengthAdjust="spacing" font-family="'Liberation Sans',sans-serif"  stroke="#E00000" stroke-width="0.3">Nymph</text>
<text x="21.5" y="770.5" font-size="11" fill="#E00000" font-weight="bold" textLength="41" lengthAdjust="spacing" font-family="'Liberation Sans',sans-serif"  stroke="#E00000" stroke-width="0.3">Soldier</text>
<text x="21.5" y="785.5" font-size="11" fill="#E00000" font-weight="bold" textLength="42" lengthAdjust="spacing" font-family="'Liberation Sans',sans-serif"  stroke="#E00000" stroke-width="0.3">Worker</text>
<text x="109.5" y="696" font-size="11" fill="#E00000" font-weight="bold" textLength="31" lengthAdjust="spacing" font-family="'Liberation Sans',sans-serif"  stroke="#E00000" stroke-width="0.3">Rats:</text>
<text x="121.5" y="711" font-size="11" fill="#E00000" font-weight="bold" textLength="36" lengthAdjust="spacing" font-family="'Liberation Sans',sans-serif"  stroke="#E00000" stroke-width="0.3">Sewer</text>
<text x="109.5" y="740.5" font-size="11" fill="#E00000" font-weight="bold" textLength="64.5" lengthAdjust="spacing" font-family="'Liberation Sans',sans-serif"  stroke="#E00000" stroke-width="0.3">Skeletons:</text>
<text x="121.5" y="755.5" font-size="11" fill="#E00000" font-weight="bold" textLength="61.5" lengthAdjust="spacing" font-family="'Liberation Sans',sans-serif"  stroke="#E00000" stroke-width="0.3">Bone Lord</text>
<text x="121.5" y="770.5" font-size="11" fill="#E00000" font-weight="bold" textLength="84" lengthAdjust="spacing" font-family="'Liberation Sans',sans-serif"  stroke="#E00000" stroke-width="0.3">Cursed Bones</text>
<text x="121.5" y="785.5" font-size="11" fill="#E00000" font-weight="bold" textLength="73.5" lengthAdjust="spacing" font-family="'Liberation Sans',sans-serif"  stroke="#E00000" stroke-width="0.3">Relic Bones</text>
<text x="239.5" y="711" font-size="11" fill="#E00000" font-weight="bold" textLength="48.5" lengthAdjust="spacing" font-family="'Liberation Sans',sans-serif"  stroke="#E00000" stroke-width="0.3">Undead:</text>
<text x="251.5" y="725.5" font-size="11" fill="#E00000" font-weight="bold" textLength="90" lengthAdjust="spacing" font-family="'Liberation Sans',sans-serif"  stroke="#E00000" stroke-width="0.3">Dark Revenant</text>
<text x="239.5" y="755.5" font-size="11" fill="#E00000" font-weight="bold" textLength="39.5" lengthAdjust="spacing" font-family="'Liberation Sans',sans-serif"  stroke="#E00000" stroke-width="0.3">Wisps:</text>
<text x="251.5" y="770.5" font-size="11" fill="#E00000" font-weight="bold" textLength="45" lengthAdjust="spacing" font-family="'Liberation Sans',sans-serif"  stroke="#E00000" stroke-width="0.3">Shadow</text>
<text x="251.5" y="785.5" font-size="11" fill="#E00000" font-weight="bold" textLength="62" lengthAdjust="spacing" font-family="'Liberation Sans',sans-serif"  stroke="#E00000" stroke-width="0.3">Nightmare</text>
<text x="308.5" y="802" font-size="12" fill="#0808F0" font-weight="bold" textLength="7.5" lengthAdjust="spacing" font-family="'Liberation Sans',sans-serif" stroke="#0808F0" stroke-width="0.6">D</text>
<text x="320" y="802" font-size="10.5" fill="#0808F0" font-weight="bold" textLength="59.5" lengthAdjust="spacing" font-family="'Liberation Sans',sans-serif"  stroke="#0808F0" stroke-width="0.3">Departure</text>
<text x="308.5" y="815" font-size="12" fill="#FF00FF" font-weight="bold" textLength="7.5" lengthAdjust="spacing" font-family="'Liberation Sans',sans-serif" stroke="#FF00FF" stroke-width="0.6">P</text>
<text x="320" y="815" font-size="10.5" fill="#FF00FF" font-weight="bold" textLength="44" lengthAdjust="spacing" font-family="'Liberation Sans',sans-serif"  stroke="#FF00FF" stroke-width="0.3">Portals</text>
<text x="412.5" y="809" font-size="10.5" fill="#000" font-weight="bold" textLength="35" lengthAdjust="spacing" font-family="'Liberation Sans',sans-serif"  stroke="#000" stroke-width="0.3">Doors</text>
<text x="467" y="802" font-size="8.5" fill="#0808F0" font-weight="normal" textLength="10.5" lengthAdjust="spacing" font-family="'Liberation Sans',sans-serif" >D#</text>
<text x="482" y="802" font-size="10.5" fill="#0808F0" font-weight="bold" textLength="133.5" lengthAdjust="spacing" font-family="'Liberation Sans',sans-serif"  stroke="#0808F0" stroke-width="0.3">Door Number (levered)</text>
<text x="467" y="815" font-size="8.5" fill="#0808F0" font-weight="normal" textLength="10.5" lengthAdjust="spacing" font-family="'Liberation Sans',sans-serif" >L#</text>
<text x="482" y="815" font-size="10.5" fill="#0808F0" font-weight="bold" textLength="85.5" lengthAdjust="spacing" font-family="'Liberation Sans',sans-serif"  stroke="#0808F0" stroke-width="0.3">Lever Number</text>
<text x="648" y="802" font-size="10.5" fill="#0808F0" font-weight="bold" textLength="38.5" lengthAdjust="spacing" font-family="'Liberation Sans',sans-serif"  stroke="#0808F0" stroke-width="0.3">Levers</text>
<text x="646.5" y="815" font-size="10.5" fill="#0808F0" font-weight="bold" textLength="78.5" lengthAdjust="spacing" font-family="'Liberation Sans',sans-serif"  stroke="#0808F0" stroke-width="0.3">"Floor lever"</text>
<text x="758.5" y="809" font-size="10.5" fill="#E00000" font-weight="bold" textLength="41.5" lengthAdjust="spacing" font-family="'Liberation Sans',sans-serif"  stroke="#E00000" stroke-width="0.3">Locked</text>
<text x="832" y="809" font-size="10.5" fill="#000" font-weight="bold" textLength="40" lengthAdjust="spacing" font-family="'Liberation Sans',sans-serif"  stroke="#000" stroke-width="0.3">Ramps</text>
<text x="482" y="833.5" font-size="12.5" fill="#222" font-weight="normal" textLength="219.5" lengthAdjust="spacing" font-family="'Liberation Sans',sans-serif" >© ACMAPS - http://www.acmaps.com</text>
<text x="521" y="169.5" font-size="9" fill="#FF00FF" font-weight="normal" textLength="95" lengthAdjust="spacing" font-family="'Liberation Sans',sans-serif" >(85.9n,44.1e),NoRecall</text>
<text x="766.5" y="550" font-size="9.5" fill="#FF00FF" font-weight="normal" textLength="68" lengthAdjust="spacing" font-family="'Liberation Sans',sans-serif" >LowerAerlinthe</text>
<text x="766.5" y="561" font-size="9.5" fill="#FF00FF" font-weight="normal" textLength="83.5" lengthAdjust="spacing" font-family="'Liberation Sans',sans-serif" >Reservoir,NoRecall</text>
<text x="859.5" y="552" font-size="14" fill="#FF00FF" font-weight="bold" textLength="9.5" lengthAdjust="spacing" font-family="'Liberation Sans',sans-serif" stroke="#FF00FF" stroke-width="0.7">P</text>
<text x="531" y="154" font-size="14" fill="#FF00FF" font-weight="bold" textLength="9.5" lengthAdjust="spacing" font-family="'Liberation Sans',sans-serif" stroke="#FF00FF" stroke-width="0.7">P</text>
<text x="112" y="419.5" font-size="13" fill="#0808F0" font-weight="bold" textLength="8.5" lengthAdjust="spacing" font-family="'Liberation Sans',sans-serif" stroke="#0808F0" stroke-width="0.7">D</text>
<text x="973" y="361" font-size="11" fill="#108010" font-weight="bold" textLength="58.5" lengthAdjust="spacing" font-family="'Liberation Sans',sans-serif"  stroke="#108010" stroke-width="0.3">Sacrificial</text>
<text x="973" y="376" font-size="11" fill="#108010" font-weight="bold" textLength="41" lengthAdjust="spacing" font-family="'Liberation Sans',sans-serif"  stroke="#108010" stroke-width="0.3">Dagger</text>
<text x="918" y="268.5" font-size="9.5" fill="#0808F0" font-weight="normal" textLength="9" lengthAdjust="spacingAndGlyphs" font-family="'Liberation Sans',sans-serif" >D1</text>
<text x="952.5" y="288.5" font-size="9.5" fill="#0808F0" font-weight="normal" textLength="8.5" lengthAdjust="spacingAndGlyphs" font-family="'Liberation Sans',sans-serif" >L1</text>
<text x="984.5" y="288.5" font-size="9.5" fill="#0808F0" font-weight="normal" textLength="10.5" lengthAdjust="spacingAndGlyphs" font-family="'Liberation Sans',sans-serif" >D2</text>
<text x="1015.5" y="288.5" font-size="9.5" fill="#0808F0" font-weight="normal" textLength="9.5" lengthAdjust="spacingAndGlyphs" font-family="'Liberation Sans',sans-serif" >L2</text>
<text x="915" y="248" font-size="9.5" fill="#F00000" font-weight="normal" textLength="14.5" lengthAdjust="spacingAndGlyphs" font-family="'Liberation Sans',sans-serif" >162</text>
<text x="1030.5" y="339.5" font-size="9.5" fill="#F00000" font-weight="normal" textLength="14" lengthAdjust="spacingAndGlyphs" font-family="'Liberation Sans',sans-serif" >402</text>
<text x="341" y="308.5" font-size="9.5" fill="#F00000" font-weight="normal" textLength="14" lengthAdjust="spacingAndGlyphs" font-family="'Liberation Sans',sans-serif" >242</text>
<text x="881" y="568.5" font-size="9.5" fill="#F00000" font-weight="normal" textLength="14.5" lengthAdjust="spacingAndGlyphs" font-family="'Liberation Sans',sans-serif" >322</text>
<text x="302" y="120" font-size="10.8" fill="#F00000" font-weight="bold" textLength="5.9" lengthAdjust="spacing" font-family="'Liberation Sans',sans-serif"  stroke="#F00000" stroke-width="0.3">7</text>
<text x="288" y="155" font-size="10.8" fill="#F00000" font-weight="bold" textLength="5.9" lengthAdjust="spacing" font-family="'Liberation Sans',sans-serif"  stroke="#F00000" stroke-width="0.3">5</text>
<text x="356" y="155" font-size="10.8" fill="#F00000" font-weight="bold" textLength="5.9" lengthAdjust="spacing" font-family="'Liberation Sans',sans-serif"  stroke="#F00000" stroke-width="0.3">9</text>
<text x="242" y="240" font-size="10.8" fill="#F00000" font-weight="bold" textLength="5.9" lengthAdjust="spacing" font-family="'Liberation Sans',sans-serif"  stroke="#F00000" stroke-width="0.3">4</text>
<text x="293" y="384" font-size="10.8" fill="#F00000" font-weight="bold" textLength="5.9" lengthAdjust="spacing" font-family="'Liberation Sans',sans-serif"  stroke="#F00000" stroke-width="0.3">6</text>
<text x="349" y="384" font-size="10.8" fill="#F00000" font-weight="bold" textLength="11.8" lengthAdjust="spacing" font-family="'Liberation Sans',sans-serif"  stroke="#F00000" stroke-width="0.3">10</text>
<text x="293" y="415.5" font-size="10.8" fill="#F00000" font-weight="bold" textLength="5.9" lengthAdjust="spacing" font-family="'Liberation Sans',sans-serif"  stroke="#F00000" stroke-width="0.3">5</text>
<text x="353" y="415.5" font-size="10.8" fill="#F00000" font-weight="bold" textLength="5.9" lengthAdjust="spacing" font-family="'Liberation Sans',sans-serif"  stroke="#F00000" stroke-width="0.3">9</text>
<text x="143" y="199.5" font-size="10.8" fill="#F00000" font-weight="bold" textLength="5.9" lengthAdjust="spacing" font-family="'Liberation Sans',sans-serif"  stroke="#F00000" stroke-width="0.3">2</text>
<text x="143" y="229.5" font-size="10.8" fill="#F00000" font-weight="bold" textLength="5.9" lengthAdjust="spacing" font-family="'Liberation Sans',sans-serif"  stroke="#F00000" stroke-width="0.3">3</text>
<text x="42" y="270" font-size="10.8" fill="#F00000" font-weight="bold" textLength="5.9" lengthAdjust="spacing" font-family="'Liberation Sans',sans-serif"  stroke="#F00000" stroke-width="0.3">1</text>
<text x="142.5" y="449" font-size="10.8" fill="#F00000" font-weight="bold" textLength="5.9" lengthAdjust="spacing" font-family="'Liberation Sans',sans-serif"  stroke="#F00000" stroke-width="0.3">3</text>
<text x="32" y="500" font-size="10.8" fill="#F00000" font-weight="bold" textLength="5.9" lengthAdjust="spacing" font-family="'Liberation Sans',sans-serif"  stroke="#F00000" stroke-width="0.3">1</text>
<text x="322" y="540" font-size="10.8" fill="#F00000" font-weight="bold" textLength="5.9" lengthAdjust="spacing" font-family="'Liberation Sans',sans-serif"  stroke="#F00000" stroke-width="0.3">8</text>
<text x="292.5" y="622" font-size="10.8" fill="#F00000" font-weight="bold" textLength="5.9" lengthAdjust="spacing" font-family="'Liberation Sans',sans-serif"  stroke="#F00000" stroke-width="0.3">6</text>
<text x="348.5" y="622" font-size="10.8" fill="#F00000" font-weight="bold" textLength="11.8" lengthAdjust="spacing" font-family="'Liberation Sans',sans-serif"  stroke="#F00000" stroke-width="0.3">10</text>
<text x="609" y="350" font-size="10.8" fill="#F00000" font-weight="bold" textLength="11.8" lengthAdjust="spacing" font-family="'Liberation Sans',sans-serif"  stroke="#F00000" stroke-width="0.3">13</text>
<text x="599" y="389" font-size="10.8" fill="#F00000" font-weight="bold" textLength="11.8" lengthAdjust="spacing" font-family="'Liberation Sans',sans-serif"  stroke="#F00000" stroke-width="0.3">12</text>
<text x="822" y="188.5" font-size="10.8" fill="#F00000" font-weight="bold" textLength="5.9" lengthAdjust="spacing" font-family="'Liberation Sans',sans-serif"  stroke="#F00000" stroke-width="0.3">2</text>
<text x="992.5" y="120" font-size="10.8" fill="#F00000" font-weight="bold" textLength="5.9" lengthAdjust="spacing" font-family="'Liberation Sans',sans-serif"  stroke="#F00000" stroke-width="0.3">7</text>
<text x="932" y="150" font-size="10.8" fill="#F00000" font-weight="bold" textLength="5.9" lengthAdjust="spacing" font-family="'Liberation Sans',sans-serif"  stroke="#F00000" stroke-width="0.3">4</text>
<text x="938.5" y="163" font-size="10.8" fill="#F00000" font-weight="bold" textLength="11.8" lengthAdjust="spacing" font-family="'Liberation Sans',sans-serif"  stroke="#F00000" stroke-width="0.3">17</text>
<text x="999" y="229.5" font-size="10.8" fill="#F00000" font-weight="bold" textLength="11.8" lengthAdjust="spacing" font-family="'Liberation Sans',sans-serif"  stroke="#F00000" stroke-width="0.3">12</text>
<text x="1002.5" y="249" font-size="10.8" fill="#F00000" font-weight="bold" textLength="5.9" lengthAdjust="spacing" font-family="'Liberation Sans',sans-serif"  stroke="#F00000" stroke-width="0.3">8</text>
<text x="951.5" y="258" font-size="10.8" fill="#F00000" font-weight="bold" textLength="11.8" lengthAdjust="spacing" font-family="'Liberation Sans',sans-serif"  stroke="#F00000" stroke-width="0.3">17</text>
<text x="1039.5" y="318.5" font-size="10.8" fill="#F00000" font-weight="bold" textLength="11.8" lengthAdjust="spacing" font-family="'Liberation Sans',sans-serif"  stroke="#F00000" stroke-width="0.3">18</text>
<text x="1089" y="316" font-size="10.8" fill="#F00000" font-weight="bold" textLength="11.8" lengthAdjust="spacing" font-family="'Liberation Sans',sans-serif"  stroke="#F00000" stroke-width="0.3">15</text>
<text x="1077.5" y="390" font-size="10.8" fill="#F00000" font-weight="bold" textLength="11.8" lengthAdjust="spacing" font-family="'Liberation Sans',sans-serif"  stroke="#F00000" stroke-width="0.3">14</text>
<text x="829" y="408.5" font-size="10.8" fill="#F00000" font-weight="bold" textLength="11.8" lengthAdjust="spacing" font-family="'Liberation Sans',sans-serif"  stroke="#F00000" stroke-width="0.3">13</text>
<text x="870.5" y="628" font-size="10.8" fill="#F00000" font-weight="bold" textLength="11.8" lengthAdjust="spacing" font-family="'Liberation Sans',sans-serif"  stroke="#F00000" stroke-width="0.3">16</text>
<text x="859" y="698.5" font-size="10.8" fill="#F00000" font-weight="bold" textLength="11.8" lengthAdjust="spacing" font-family="'Liberation Sans',sans-serif"  stroke="#F00000" stroke-width="0.3">16</text>
<text x="718" y="680" font-size="10.8" fill="#F00000" font-weight="bold" textLength="11.8" lengthAdjust="spacing" font-family="'Liberation Sans',sans-serif"  stroke="#F00000" stroke-width="0.3">11</text>
<text x="560.5" y="680" font-size="10.8" fill="#F00000" font-weight="bold" textLength="11.8" lengthAdjust="spacing" font-family="'Liberation Sans',sans-serif"  stroke="#F00000" stroke-width="0.3">11</text>
<text x="662" y="560" font-size="10.8" fill="#F00000" font-weight="bold" textLength="11.8" lengthAdjust="spacing" font-family="'Liberation Sans',sans-serif"  stroke="#F00000" stroke-width="0.3">14</text>
<text x="689" y="475" font-size="10.8" fill="#F00000" font-weight="bold" textLength="11.8" lengthAdjust="spacing" font-family="'Liberation Sans',sans-serif"  stroke="#F00000" stroke-width="0.3">15</text>
<text x="999" y="519" font-size="10.8" fill="#F00000" font-weight="bold" textLength="11.8" lengthAdjust="spacing" font-family="'Liberation Sans',sans-serif"  stroke="#F00000" stroke-width="0.3">18</text></g>
</svg></body></html>
